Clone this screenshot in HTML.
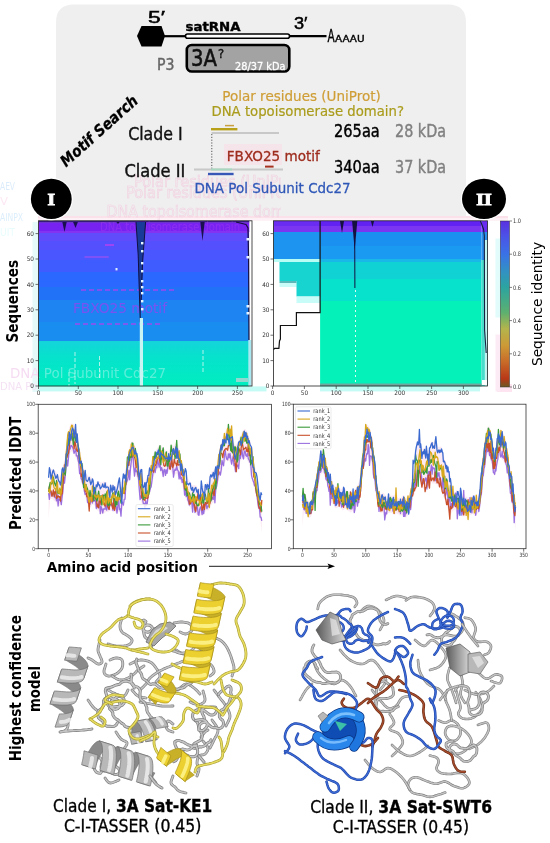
<!DOCTYPE html>
<html><head><meta charset="utf-8"><title>3A protein figure</title>
<style>
html,body{margin:0;padding:0;background:#fff;}
body{width:550px;height:843px;overflow:hidden;}
svg{display:block;font-family:'DejaVu Sans','Liberation Sans',sans-serif;}
</style></head>
<body>
<svg width="550" height="843" viewBox="0 0 550 843">
<rect width="550" height="843" fill="#fff"/>
<path d="M56,216 L56,22.5 Q56,4.5 74,4.5 L448,4.5 Q466,4.5 466,22.5 L466,216 Z" fill="#efefef"/>
<rect x="38" y="216" width="470" height="2.5" fill="#fbe2ea"/>
<rect x="38" y="218.5" width="470" height="2.3" fill="#fdf0f6"/>
<defs><clipPath id="gclip"><rect x="0" y="0" width="281" height="843"/></clipPath></defs>
<g clip-path="url(#gclip)">
<text x="134" y="187" font-size="15" fill="none" font-weight="normal" text-anchor="start" textLength="170" lengthAdjust="spacingAndGlyphs" stroke="#f2d0e0" stroke-width="0.6">Polar residues (UniProt)</text>
<text x="126" y="198" font-size="15" fill="none" font-weight="normal" text-anchor="start" textLength="170" lengthAdjust="spacingAndGlyphs" stroke="#f2d0e0" stroke-width="0.6">Polar residues (UniProt)</text>
<text x="106.5" y="216.5" font-size="15" fill="none" font-weight="normal" text-anchor="start" textLength="200" lengthAdjust="spacingAndGlyphs" stroke="#f2d2e2" stroke-width="0.6">DNA topoisomerase domain</text>
</g>
<text x="0" y="190" font-size="10" fill="#dcecfc" font-weight="normal" text-anchor="start" textLength="15" lengthAdjust="spacingAndGlyphs">AEV</text>
<text x="0" y="205" font-size="10" fill="#fde8f4" font-weight="normal" text-anchor="start" textLength="8" lengthAdjust="spacingAndGlyphs">V</text>
<text x="0" y="221" font-size="10" fill="#dceefc" font-weight="normal" text-anchor="start" textLength="23" lengthAdjust="spacingAndGlyphs">AINPX</text>
<text x="0" y="236" font-size="10" fill="#e8fcfc" font-weight="normal" text-anchor="start" textLength="15" lengthAdjust="spacingAndGlyphs">UIT</text>
<polygon points="137,36 141.5,26 161.5,26 165,36 161.5,46.5 141.5,46.5" fill="#000"/>
<line x1="164" y1="36.2" x2="186" y2="36.2" stroke="#000" stroke-width="2.2"/>
<rect x="185.5" y="34" width="104" height="4.2" rx="2" fill="#fff" stroke="#000" stroke-width="1.6"/>
<line x1="289.5" y1="36.2" x2="326.5" y2="36.2" stroke="#000" stroke-width="2.2"/>
<text x="148" y="22.5" font-size="16.5" fill="#000" font-weight="normal" text-anchor="start" textLength="17" lengthAdjust="spacingAndGlyphs" stroke="#000" stroke-width="0.5" font-family="Liberation Sans, sans-serif">5&#8242;</text>
<text x="294" y="28.7" font-size="16.5" fill="#000" font-weight="normal" text-anchor="start" textLength="13.5" lengthAdjust="spacingAndGlyphs" stroke="#000" stroke-width="0.5" font-family="Liberation Sans, sans-serif">3&#8242;</text>
<text x="185.5" y="31" font-size="13" fill="#000" font-weight="bold" text-anchor="start" textLength="55" lengthAdjust="spacingAndGlyphs" stroke="#000" stroke-width="0.4">satRNA</text>
<text x="327.6" y="41.5" font-size="17" fill="#000" font-weight="normal" text-anchor="start" textLength="7.2" lengthAdjust="spacingAndGlyphs" stroke="#000" stroke-width="0.4">A</text>
<text x="335" y="41.5" font-size="9" fill="#000" font-weight="normal" text-anchor="start" textLength="29.5" lengthAdjust="spacingAndGlyphs" stroke="#000" stroke-width="0.35">AAAU</text>
<rect x="186.8" y="45" width="102.5" height="26.5" rx="5" fill="#a3a3a3" stroke="#000" stroke-width="2.6"/>
<text x="191" y="65.6" font-size="23.5" fill="#111" font-weight="normal" text-anchor="start" textLength="26" lengthAdjust="spacingAndGlyphs" stroke="#111" stroke-width="0.6">3A</text>
<text x="218" y="57.5" font-size="11.5" fill="#111" font-weight="normal" text-anchor="start" stroke="#111" stroke-width="0.4">?</text>
<text x="235" y="69.8" font-size="11.3" fill="#fff" font-weight="normal" text-anchor="start" textLength="50.5" lengthAdjust="spacingAndGlyphs" stroke="#fff" stroke-width="0.3">28/37 kDa</text>
<text x="157" y="69.6" font-size="16.2" fill="#666" font-weight="normal" text-anchor="start" textLength="17.5" lengthAdjust="spacingAndGlyphs" stroke="#666" stroke-width="0.45">P3</text>
<text transform="translate(66,167.5) rotate(-41.8)" font-size="15.5" font-weight="bold" font-style="italic" fill="#000" stroke="#000" stroke-width="0.3" textLength="98" lengthAdjust="spacingAndGlyphs">Motif Search</text>
<text x="128.2" y="139.6" font-size="17" fill="#111" font-weight="normal" text-anchor="start" textLength="54.5" lengthAdjust="spacingAndGlyphs" stroke="#111" stroke-width="0.4">Clade I</text>
<text x="124.4" y="176.5" font-size="17" fill="#111" font-weight="normal" text-anchor="start" textLength="61" lengthAdjust="spacingAndGlyphs" stroke="#111" stroke-width="0.4">Clade II</text>
<text x="222.3" y="100.8" font-size="14.2" fill="#cf9e36" font-weight="normal" text-anchor="start" textLength="158.5" lengthAdjust="spacingAndGlyphs" stroke="#cf9e36" stroke-width="0.2">Polar residues (UniProt)</text>
<text x="211.5" y="115.9" font-size="14.2" fill="#aa9c1c" font-weight="normal" text-anchor="start" textLength="192.5" lengthAdjust="spacingAndGlyphs" stroke="#aa9c1c" stroke-width="0.2">DNA topoisomerase domain?</text>
<line x1="211.6" y1="133" x2="279" y2="133" stroke="#c8c8c8" stroke-width="2"/>
<line x1="211" y1="129.2" x2="237.4" y2="129.2" stroke="#b8a018" stroke-width="2.4"/>
<line x1="225" y1="125.6" x2="234" y2="125.6" stroke="#c8a040" stroke-width="1.5"/>
<line x1="211.8" y1="134" x2="211.8" y2="169" stroke="#555" stroke-width="1" stroke-dasharray="1.2,1.6"/>
<text x="334" y="137.2" font-size="17" fill="#000" font-weight="normal" text-anchor="start" textLength="45.8" lengthAdjust="spacingAndGlyphs" stroke="#000" stroke-width="0.4">265aa</text>
<text x="395" y="137.2" font-size="17" fill="#808080" font-weight="normal" text-anchor="start" textLength="51" lengthAdjust="spacingAndGlyphs" stroke="#808080" stroke-width="0.4">28 kDa</text>
<rect x="224" y="144" width="58" height="21" fill="#f5e4ea"/>
<text x="226.8" y="160.6" font-size="13.5" fill="#9e2c1e" font-weight="normal" text-anchor="start" textLength="93" lengthAdjust="spacingAndGlyphs" stroke="#9e2c1e" stroke-width="0.3">FBXO25 motif</text>
<line x1="194" y1="169.5" x2="283" y2="169.5" stroke="#c8c8c8" stroke-width="2"/>
<line x1="211" y1="169.5" x2="232" y2="169.5" stroke="#a8d8c0" stroke-width="2"/>
<line x1="208" y1="174" x2="233.6" y2="174" stroke="#3858b8" stroke-width="2.4"/>
<line x1="265" y1="166.6" x2="273.6" y2="166.6" stroke="#a83020" stroke-width="2"/>
<text x="334" y="173.2" font-size="17" fill="#000" font-weight="normal" text-anchor="start" textLength="45.8" lengthAdjust="spacingAndGlyphs" stroke="#000" stroke-width="0.4">340aa</text>
<text x="395" y="173.2" font-size="17" fill="#808080" font-weight="normal" text-anchor="start" textLength="51" lengthAdjust="spacingAndGlyphs" stroke="#808080" stroke-width="0.4">37 kDa</text>
<text x="194.4" y="193.4" font-size="14.5" fill="#3058b8" font-weight="normal" text-anchor="start" textLength="156.2" lengthAdjust="spacingAndGlyphs" stroke="#3058b8" stroke-width="0.3">DNA Pol Subunit Cdc27</text>
<rect x="38.5" y="386.4" width="228" height="5" fill="#c4fbf4"/>
<rect x="320" y="386.4" width="160" height="5" fill="#c4fbf4"/>
<rect x="497" y="384" width="15" height="8" fill="#fde4f0"/>
<rect x="32.5" y="222" width="5.5" height="170" fill="#e6fafa"/>
<defs><linearGradient id="cyI" x1="0" y1="0" x2="0" y2="1"><stop offset="0" stop-color="#14d4da"/><stop offset="0.35" stop-color="#06e2cc"/><stop offset="1" stop-color="#00eec0"/></linearGradient></defs>
<rect x="38.5" y="220.8" width="210.81" height="2.00" fill="#3c1a90"/>
<rect x="38.5" y="222.5" width="210.81" height="8.80" fill="#7822f2"/>
<rect x="38.5" y="231" width="210.81" height="2.30" fill="#8434f0"/>
<rect x="38.5" y="233" width="210.81" height="8.30" fill="#604cfa"/>
<rect x="38.5" y="241" width="210.81" height="9.30" fill="#5550fd"/>
<rect x="38.5" y="250" width="210.81" height="10.30" fill="#4a56ff"/>
<rect x="38.5" y="260" width="210.81" height="12.30" fill="#3e5cff"/>
<rect x="38.5" y="272" width="210.81" height="15.30" fill="#2a68ff"/>
<rect x="38.5" y="287" width="210.81" height="13.30" fill="#2272f8"/>
<rect x="38.5" y="300" width="210.81" height="22.30" fill="#1e84f2"/>
<rect x="38.5" y="322" width="210.81" height="19.30" fill="#1a8ef0"/>
<rect x="38.5" y="341" width="210.81" height="45.30" fill="url(#cyI)"/>
<text x="73" y="312.5" font-size="13.5" fill="#7a52f2" font-weight="normal" text-anchor="start" textLength="94" lengthAdjust="spacingAndGlyphs">FBXO25 motif</text>
<line x1="81" y1="290" x2="175" y2="290" stroke="#9a4af0" stroke-width="1.6" stroke-dasharray="5,3"/>
<line x1="75" y1="324" x2="160" y2="324" stroke="#9a4af0" stroke-width="1.4" stroke-dasharray="5,3"/>
<defs><clipPath id="gL"><rect x="0" y="300" width="38.5" height="100"/></clipPath><clipPath id="gR"><rect x="38.5" y="300" width="220" height="86"/></clipPath></defs>
<g clip-path="url(#gR)"><text x="10" y="377.5" font-size="14.5" fill="#b4f4ee" font-weight="normal" text-anchor="start" textLength="156" lengthAdjust="spacingAndGlyphs" opacity="0.5">DNA Pol Subunit Cdc27</text></g>
<g clip-path="url(#gL)"><text x="10" y="377.5" font-size="14.5" fill="#f6dcf2" font-weight="normal" text-anchor="start" textLength="156" lengthAdjust="spacingAndGlyphs">DNA Pol Subunit Cdc27</text><text x="0" y="390" font-size="11" fill="#f4e2f4" font-weight="normal" text-anchor="start" textLength="40" lengthAdjust="spacingAndGlyphs">DNA Pol</text></g>
<line x1="84.5" y1="257" x2="108.7" y2="257" stroke="#a050f0" stroke-width="1.2"/>
<line x1="105" y1="245" x2="114" y2="245" stroke="#c040f0" stroke-width="1.4"/>
<text x="100" y="230.5" font-size="12" fill="#b040f0" font-weight="normal" text-anchor="start" textLength="140" lengthAdjust="spacingAndGlyphs" opacity="0.35">DNA topoisomerase domain</text>
<rect x="249.31" y="232" width="2.69" height="154.0" fill="#fff"/>
<rect x="248.31" y="340" width="3" height="46" fill="#a8e8f0"/>
<line x1="75" y1="352" x2="75" y2="384" stroke="#c4f6ee" stroke-width="0.9" stroke-dasharray="4,2"/>
<line x1="99.5" y1="356" x2="99.5" y2="380" stroke="#c4f6ee" stroke-width="0.9" stroke-dasharray="4,2"/>
<line x1="203" y1="350" x2="203" y2="372" stroke="#c4f6ee" stroke-width="0.9" stroke-dasharray="4,2"/>
<line x1="69" y1="372" x2="69" y2="386" stroke="#c4f6ee" stroke-width="0.9" stroke-dasharray="4,2"/>
<rect x="236" y="378" width="12" height="4" fill="#90d8d0"/>
<rect x="115.5" y="268" width="2" height="2.4" fill="#e0f0ff"/>
<path d="M136,222 L138.2,255 L139.6,300 L140.3,322 L141.2,300 L142.6,262 L145.6,222 Z" fill="#1a3a9a"/>
<path d="M136,222 L138.2,255 L139.6,300 L140.3,322 M141.2,300 L142.6,262 L145.6,222" fill="none" stroke="#101040" stroke-width="1"/>
<rect x="139.8" y="318" width="3.2" height="68" fill="#c8f4f4"/>
<rect x="141" y="242" width="2.4" height="2.4" fill="#e8f8ff"/>
<rect x="141" y="250" width="2.4" height="2.4" fill="#e8f8ff"/>
<rect x="141" y="262" width="2.4" height="2.4" fill="#e8f8ff"/>
<rect x="141" y="270" width="2.4" height="2.4" fill="#e8f8ff"/>
<rect x="141" y="280" width="2.4" height="2.4" fill="#e8f8ff"/>
<rect x="141" y="286" width="2.4" height="2.4" fill="#e8f8ff"/>
<rect x="141" y="292" width="2.4" height="2.4" fill="#e8f8ff"/>
<rect x="141" y="300" width="2.4" height="2.4" fill="#e8f8ff"/>
<rect x="141" y="308" width="2.4" height="2.4" fill="#e8f8ff"/>
<path d="M62.3,222 L64.5,232 L66.7,222 Z" fill="#1a1050"/>
<path d="M73.1,222 L75.5,228 L77.9,222 Z" fill="#1a1050"/>
<path d="M200.3,222 L202.5,241 L204.7,222 Z" fill="#1a1050"/>
<path d="M116.4,222 L118,224 L119.6,222 Z" fill="#1a1050"/>
<path d="M236,222 L246,224.5 L248,228 L248.6,260 L249,340" fill="none" stroke="#181040" stroke-width="1.2"/>
<rect x="246.5" y="238" width="3" height="2.5" fill="#e8f4ff"/>
<rect x="246.5" y="256" width="3" height="2.5" fill="#e8f4ff"/>
<rect x="246.5" y="305" width="3" height="2.5" fill="#e8f4ff"/>
<rect x="246.5" y="312" width="3" height="2.5" fill="#e8f4ff"/>
<rect x="38.5" y="220.8" width="213.5" height="165.2" fill="none" stroke="#222" stroke-width="0.8"/>
<line x1="35.5" y1="386.0" x2="38.5" y2="386.0" stroke="#333" stroke-width="0.7"/>
<text x="34" y="388.2" font-size="6.2" fill="#333" font-weight="normal" text-anchor="end" textLength="3.65" lengthAdjust="spacingAndGlyphs">0</text>
<line x1="35.5" y1="360.6" x2="38.5" y2="360.6" stroke="#333" stroke-width="0.7"/>
<text x="34" y="362.8" font-size="6.2" fill="#333" font-weight="normal" text-anchor="end" textLength="7.3" lengthAdjust="spacingAndGlyphs">10</text>
<line x1="35.5" y1="335.2" x2="38.5" y2="335.2" stroke="#333" stroke-width="0.7"/>
<text x="34" y="337.4" font-size="6.2" fill="#333" font-weight="normal" text-anchor="end" textLength="7.3" lengthAdjust="spacingAndGlyphs">20</text>
<line x1="35.5" y1="309.8" x2="38.5" y2="309.8" stroke="#333" stroke-width="0.7"/>
<text x="34" y="312.0" font-size="6.2" fill="#333" font-weight="normal" text-anchor="end" textLength="7.3" lengthAdjust="spacingAndGlyphs">30</text>
<line x1="35.5" y1="284.4" x2="38.5" y2="284.4" stroke="#333" stroke-width="0.7"/>
<text x="34" y="286.6" font-size="6.2" fill="#333" font-weight="normal" text-anchor="end" textLength="7.3" lengthAdjust="spacingAndGlyphs">40</text>
<line x1="35.5" y1="259.0" x2="38.5" y2="259.0" stroke="#333" stroke-width="0.7"/>
<text x="34" y="261.2" font-size="6.2" fill="#333" font-weight="normal" text-anchor="end" textLength="7.3" lengthAdjust="spacingAndGlyphs">50</text>
<line x1="35.5" y1="233.6" x2="38.5" y2="233.6" stroke="#333" stroke-width="0.7"/>
<text x="34" y="235.8" font-size="6.2" fill="#333" font-weight="normal" text-anchor="end" textLength="7.3" lengthAdjust="spacingAndGlyphs">60</text>
<line x1="38.5" y1="386.0" x2="38.5" y2="389.0" stroke="#333" stroke-width="0.7"/>
<text x="38.5" y="395.0" font-size="6.2" fill="#333" font-weight="normal" text-anchor="middle" textLength="3.65" lengthAdjust="spacingAndGlyphs">0</text>
<line x1="78.3" y1="386.0" x2="78.3" y2="389.0" stroke="#333" stroke-width="0.7"/>
<text x="78.3" y="395.0" font-size="6.2" fill="#333" font-weight="normal" text-anchor="middle" textLength="7.3" lengthAdjust="spacingAndGlyphs">50</text>
<line x1="118.0" y1="386.0" x2="118.0" y2="389.0" stroke="#333" stroke-width="0.7"/>
<text x="118.0" y="395.0" font-size="6.2" fill="#333" font-weight="normal" text-anchor="middle" textLength="10.95" lengthAdjust="spacingAndGlyphs">100</text>
<line x1="157.8" y1="386.0" x2="157.8" y2="389.0" stroke="#333" stroke-width="0.7"/>
<text x="157.8" y="395.0" font-size="6.2" fill="#333" font-weight="normal" text-anchor="middle" textLength="10.95" lengthAdjust="spacingAndGlyphs">150</text>
<line x1="197.6" y1="386.0" x2="197.6" y2="389.0" stroke="#333" stroke-width="0.7"/>
<text x="197.6" y="395.0" font-size="6.2" fill="#333" font-weight="normal" text-anchor="middle" textLength="10.95" lengthAdjust="spacingAndGlyphs">200</text>
<line x1="237.4" y1="386.0" x2="237.4" y2="389.0" stroke="#333" stroke-width="0.7"/>
<text x="237.4" y="395.0" font-size="6.2" fill="#333" font-weight="normal" text-anchor="middle" textLength="10.95" lengthAdjust="spacingAndGlyphs">250</text>
<text transform="translate(17.6,342.5) rotate(-90)" font-size="15.6" font-weight="bold" fill="#000" textLength="82.5" lengthAdjust="spacingAndGlyphs">Sequences</text>
<rect x="320.1" y="220.8" width="161.39999999999998" height="5.50" fill="#6222f2"/>
<rect x="320.1" y="226" width="161.39999999999998" height="6.30" fill="#7a36f0"/>
<rect x="320.1" y="232" width="161.39999999999998" height="14.30" fill="#1a90f0"/>
<rect x="320.1" y="246" width="161.39999999999998" height="13.30" fill="#1a9af0"/>
<rect x="320.1" y="259" width="161.39999999999998" height="3.30" fill="#18b8e8"/>
<rect x="320.1" y="262" width="161.39999999999998" height="17.30" fill="#10d2d4"/>
<rect x="320.1" y="279" width="161.39999999999998" height="22.30" fill="#06e2cc"/>
<rect x="320.1" y="301" width="161.39999999999998" height="85.30" fill="#04f2ba"/>
<rect x="481.5" y="220.8" width="6" height="11.5" fill="#6a2cf0"/>
<rect x="481.5" y="232" width="6" height="28" fill="#2a90f0"/>
<rect x="481.5" y="260" width="6" height="126" fill="#48dccc"/>
<rect x="484.8" y="240" width="2.7" height="146" fill="#bff4f0"/>
<rect x="482" y="380" width="5" height="5" fill="#fff"/>
<rect x="273.5" y="220.8" width="46.6" height="11.5" fill="#6a2cf0"/>
<rect x="273.5" y="226" width="46.6" height="6" fill="#7a36f0"/>
<rect x="273.5" y="232" width="46.6" height="27" fill="#1c94f0"/>
<rect x="273.5" y="259" width="46.6" height="3" fill="#b8fcf6"/>
<rect x="279.5" y="262" width="40.6" height="19" fill="#18d4d0"/>
<rect x="279.5" y="281" width="17" height="2" fill="#5cb8b8"/>
<rect x="279.5" y="283" width="17" height="4" fill="#c8fcf8"/>
<rect x="296.5" y="281" width="23.6" height="15.5" fill="#18d4d0"/>
<rect x="296.5" y="296.5" width="23.6" height="6.5" fill="#c8fcf8"/>
<rect x="320.1" y="383.5" width="161.4" height="2.5" fill="#70a8a0"/>
<polyline points="273.5,349.6 274.6,348.3 278.9,348.3 279.5,341 280.4,339 280.4,325.5 296.4,325.5 296.4,312.6 320.1,312.6 320.1,221" fill="none" stroke="#111" stroke-width="1.2"/>
<path d="M340.0,221 L342,233 L344.0,221 Z" fill="#141040"/>
<path d="M352.09999999999997,221 L354.7,250 L357.3,221 Z" fill="#141040"/>
<path d="M370.9,221 L372.5,227 L374.1,221 Z" fill="#141040"/>
<line x1="354.7" y1="240" x2="354.9" y2="288" stroke="#141040" stroke-width="1"/>
<line x1="355.5" y1="290" x2="355.5" y2="384" stroke="#d8fff4" stroke-width="1" stroke-dasharray="2,3"/>
<path d="M480.5,221 L483.5,229 L484.3,236 L484.6,330 L486.2,353" fill="none" stroke="#142040" stroke-width="1.1"/>
<rect x="495.5" y="238.5" width="4.5" height="79" fill="#e2fbfb"/>
<rect x="495.5" y="334.5" width="4.5" height="57" fill="#fcebf5"/>
<rect x="273.5" y="220.8" width="214.0" height="165.2" fill="none" stroke="#222" stroke-width="0.8"/>
<line x1="270.5" y1="386.0" x2="273.5" y2="386.0" stroke="#333" stroke-width="0.7"/>
<text x="269.5" y="388.2" font-size="6.2" fill="#333" font-weight="normal" text-anchor="end" textLength="3.65" lengthAdjust="spacingAndGlyphs">0</text>
<line x1="270.5" y1="360.6" x2="273.5" y2="360.6" stroke="#333" stroke-width="0.7"/>
<text x="269.5" y="362.8" font-size="6.2" fill="#333" font-weight="normal" text-anchor="end" textLength="7.3" lengthAdjust="spacingAndGlyphs">10</text>
<line x1="270.5" y1="335.2" x2="273.5" y2="335.2" stroke="#333" stroke-width="0.7"/>
<text x="269.5" y="337.4" font-size="6.2" fill="#333" font-weight="normal" text-anchor="end" textLength="7.3" lengthAdjust="spacingAndGlyphs">20</text>
<line x1="270.5" y1="309.8" x2="273.5" y2="309.8" stroke="#333" stroke-width="0.7"/>
<text x="269.5" y="312.0" font-size="6.2" fill="#333" font-weight="normal" text-anchor="end" textLength="7.3" lengthAdjust="spacingAndGlyphs">30</text>
<line x1="270.5" y1="284.4" x2="273.5" y2="284.4" stroke="#333" stroke-width="0.7"/>
<text x="269.5" y="286.6" font-size="6.2" fill="#333" font-weight="normal" text-anchor="end" textLength="7.3" lengthAdjust="spacingAndGlyphs">40</text>
<line x1="270.5" y1="259.0" x2="273.5" y2="259.0" stroke="#333" stroke-width="0.7"/>
<text x="269.5" y="261.2" font-size="6.2" fill="#333" font-weight="normal" text-anchor="end" textLength="7.3" lengthAdjust="spacingAndGlyphs">50</text>
<line x1="270.5" y1="233.6" x2="273.5" y2="233.6" stroke="#333" stroke-width="0.7"/>
<text x="269.5" y="235.8" font-size="6.2" fill="#333" font-weight="normal" text-anchor="end" textLength="7.3" lengthAdjust="spacingAndGlyphs">60</text>
<line x1="272.6" y1="386.0" x2="272.6" y2="389.0" stroke="#333" stroke-width="0.7"/>
<text x="272.6" y="395.0" font-size="6.2" fill="#333" font-weight="normal" text-anchor="middle" textLength="3.65" lengthAdjust="spacingAndGlyphs">0</text>
<line x1="304.4" y1="386.0" x2="304.4" y2="389.0" stroke="#333" stroke-width="0.7"/>
<text x="304.4" y="395.0" font-size="6.2" fill="#333" font-weight="normal" text-anchor="middle" textLength="7.3" lengthAdjust="spacingAndGlyphs">50</text>
<line x1="336.2" y1="386.0" x2="336.2" y2="389.0" stroke="#333" stroke-width="0.7"/>
<text x="336.2" y="395.0" font-size="6.2" fill="#333" font-weight="normal" text-anchor="middle" textLength="10.95" lengthAdjust="spacingAndGlyphs">100</text>
<line x1="368.0" y1="386.0" x2="368.0" y2="389.0" stroke="#333" stroke-width="0.7"/>
<text x="368.0" y="395.0" font-size="6.2" fill="#333" font-weight="normal" text-anchor="middle" textLength="10.95" lengthAdjust="spacingAndGlyphs">150</text>
<line x1="399.8" y1="386.0" x2="399.8" y2="389.0" stroke="#333" stroke-width="0.7"/>
<text x="399.8" y="395.0" font-size="6.2" fill="#333" font-weight="normal" text-anchor="middle" textLength="10.95" lengthAdjust="spacingAndGlyphs">200</text>
<line x1="431.6" y1="386.0" x2="431.6" y2="389.0" stroke="#333" stroke-width="0.7"/>
<text x="431.6" y="395.0" font-size="6.2" fill="#333" font-weight="normal" text-anchor="middle" textLength="10.95" lengthAdjust="spacingAndGlyphs">250</text>
<line x1="463.4" y1="386.0" x2="463.4" y2="389.0" stroke="#333" stroke-width="0.7"/>
<text x="463.4" y="395.0" font-size="6.2" fill="#333" font-weight="normal" text-anchor="middle" textLength="10.95" lengthAdjust="spacingAndGlyphs">300</text>
<defs><linearGradient id="cb" x1="0" y1="0" x2="0" y2="1"><stop offset="0" stop-color="#5a30e0"/><stop offset="0.1" stop-color="#4a56e8"/><stop offset="0.2" stop-color="#3a72e6"/><stop offset="0.3" stop-color="#3290c4"/><stop offset="0.4" stop-color="#2ca4a0"/><stop offset="0.55" stop-color="#5cb070"/><stop offset="0.65" stop-color="#b4b44c"/><stop offset="0.75" stop-color="#cc9a36"/><stop offset="0.85" stop-color="#c86a28"/><stop offset="0.95" stop-color="#b83818"/><stop offset="1" stop-color="#6a5a24"/></linearGradient></defs>
<rect x="500.3" y="221" width="9.2" height="166" fill="url(#cb)" stroke="#333" stroke-width="0.5"/>
<line x1="509.5" y1="221.0" x2="512" y2="221.0" stroke="#333" stroke-width="0.6"/>
<text x="513" y="223.2" font-size="6.2" fill="#333" font-weight="normal" text-anchor="start" textLength="7.9" lengthAdjust="spacingAndGlyphs">1.0</text>
<line x1="509.5" y1="254.2" x2="512" y2="254.2" stroke="#333" stroke-width="0.6"/>
<text x="513" y="256.4" font-size="6.2" fill="#333" font-weight="normal" text-anchor="start" textLength="7.9" lengthAdjust="spacingAndGlyphs">0.8</text>
<line x1="509.5" y1="287.4" x2="512" y2="287.4" stroke="#333" stroke-width="0.6"/>
<text x="513" y="289.6" font-size="6.2" fill="#333" font-weight="normal" text-anchor="start" textLength="7.9" lengthAdjust="spacingAndGlyphs">0.6</text>
<line x1="509.5" y1="320.6" x2="512" y2="320.6" stroke="#333" stroke-width="0.6"/>
<text x="513" y="322.8" font-size="6.2" fill="#333" font-weight="normal" text-anchor="start" textLength="7.9" lengthAdjust="spacingAndGlyphs">0.4</text>
<line x1="509.5" y1="353.8" x2="512" y2="353.8" stroke="#333" stroke-width="0.6"/>
<text x="513" y="356.0" font-size="6.2" fill="#333" font-weight="normal" text-anchor="start" textLength="7.9" lengthAdjust="spacingAndGlyphs">0.2</text>
<line x1="509.5" y1="387.0" x2="512" y2="387.0" stroke="#333" stroke-width="0.6"/>
<text x="513" y="389.2" font-size="6.2" fill="#333" font-weight="normal" text-anchor="start" textLength="7.9" lengthAdjust="spacingAndGlyphs">0.0</text>
<text transform="translate(541.5,366) rotate(-90)" font-size="14.5" fill="#000" textLength="124" lengthAdjust="spacingAndGlyphs">Sequence identity</text>
<ellipse cx="51.3" cy="198.9" rx="21.6" ry="21.4" fill="#fff"/>
<ellipse cx="51.3" cy="198.9" rx="20.4" ry="20.2" fill="#000"/>
<text x="51.3" y="205.4" font-family="'Liberation Serif', serif" font-size="17.5" font-weight="bold" fill="#fff" stroke="#fff" stroke-width="0.9" text-anchor="middle" textLength="7.6" lengthAdjust="spacingAndGlyphs">I</text>
<ellipse cx="484" cy="198.9" rx="23.2" ry="21.4" fill="#fff"/>
<ellipse cx="484" cy="198.9" rx="22" ry="20.2" fill="#000"/>
<text x="484" y="205.4" font-family="'Liberation Serif', serif" font-size="17.5" font-weight="bold" fill="#fff" stroke="#fff" stroke-width="0.9" text-anchor="middle" textLength="15.5" lengthAdjust="spacingAndGlyphs">II</text>
<rect x="38.2" y="404.3" width="233.2" height="144.40000000000003" fill="#fff" stroke="#333" stroke-width="0.8"/>
<line x1="35.2" y1="548.7" x2="38.2" y2="548.7" stroke="#333" stroke-width="0.7"/>
<text x="35" y="550.8" font-size="5.8" fill="#333" font-weight="normal" text-anchor="end" textLength="2.85" lengthAdjust="spacingAndGlyphs">0</text>
<line x1="35.2" y1="519.8" x2="38.2" y2="519.8" stroke="#333" stroke-width="0.7"/>
<text x="35" y="521.9" font-size="5.8" fill="#333" font-weight="normal" text-anchor="end" textLength="5.7" lengthAdjust="spacingAndGlyphs">20</text>
<line x1="35.2" y1="490.9" x2="38.2" y2="490.9" stroke="#333" stroke-width="0.7"/>
<text x="35" y="493.0" font-size="5.8" fill="#333" font-weight="normal" text-anchor="end" textLength="5.7" lengthAdjust="spacingAndGlyphs">40</text>
<line x1="35.2" y1="462.1" x2="38.2" y2="462.1" stroke="#333" stroke-width="0.7"/>
<text x="35" y="464.2" font-size="5.8" fill="#333" font-weight="normal" text-anchor="end" textLength="5.7" lengthAdjust="spacingAndGlyphs">60</text>
<line x1="35.2" y1="433.2" x2="38.2" y2="433.2" stroke="#333" stroke-width="0.7"/>
<text x="35" y="435.3" font-size="5.8" fill="#333" font-weight="normal" text-anchor="end" textLength="5.7" lengthAdjust="spacingAndGlyphs">80</text>
<line x1="35.2" y1="404.3" x2="38.2" y2="404.3" stroke="#333" stroke-width="0.7"/>
<text x="35" y="406.4" font-size="5.8" fill="#333" font-weight="normal" text-anchor="end" textLength="8.55" lengthAdjust="spacingAndGlyphs">100</text>
<line x1="48.6" y1="548.7" x2="48.6" y2="551.7" stroke="#333" stroke-width="0.7"/>
<text x="48.6" y="556.5" font-size="5.8" fill="#333" font-weight="normal" text-anchor="middle" textLength="2.85" lengthAdjust="spacingAndGlyphs">0</text>
<line x1="88.4" y1="548.7" x2="88.4" y2="551.7" stroke="#333" stroke-width="0.7"/>
<text x="88.4" y="556.5" font-size="5.8" fill="#333" font-weight="normal" text-anchor="middle" textLength="5.7" lengthAdjust="spacingAndGlyphs">50</text>
<line x1="128.2" y1="548.7" x2="128.2" y2="551.7" stroke="#333" stroke-width="0.7"/>
<text x="128.2" y="556.5" font-size="5.8" fill="#333" font-weight="normal" text-anchor="middle" textLength="8.55" lengthAdjust="spacingAndGlyphs">100</text>
<line x1="167.9" y1="548.7" x2="167.9" y2="551.7" stroke="#333" stroke-width="0.7"/>
<text x="167.9" y="556.5" font-size="5.8" fill="#333" font-weight="normal" text-anchor="middle" textLength="8.55" lengthAdjust="spacingAndGlyphs">150</text>
<line x1="207.7" y1="548.7" x2="207.7" y2="551.7" stroke="#333" stroke-width="0.7"/>
<text x="207.7" y="556.5" font-size="5.8" fill="#333" font-weight="normal" text-anchor="middle" textLength="8.55" lengthAdjust="spacingAndGlyphs">200</text>
<line x1="247.5" y1="548.7" x2="247.5" y2="551.7" stroke="#333" stroke-width="0.7"/>
<text x="247.5" y="556.5" font-size="5.8" fill="#333" font-weight="normal" text-anchor="middle" textLength="8.55" lengthAdjust="spacingAndGlyphs">250</text>
<polygon points="48.6,500.2 49.4,485.4 50.2,469.9 51.0,468.8 51.8,469.2 52.6,469.6 53.4,468.9 54.2,469.4 55.0,470.4 55.8,471.3 56.6,472.6 57.4,473.8 58.1,474.5 58.9,476.1 59.7,477.1 60.5,475.1 61.3,472.4 62.1,470.0 62.9,466.0 63.7,463.0 64.5,459.8 65.3,455.6 66.1,448.5 66.9,441.9 67.7,435.5 68.5,430.9 69.3,427.2 70.1,425.2 70.9,424.1 71.7,423.6 72.5,423.5 73.3,424.2 74.1,424.1 74.9,426.1 75.6,426.9 76.4,429.9 77.2,433.3 78.0,439.0 78.8,443.4 79.6,448.8 80.4,452.5 81.2,456.8 82.0,460.6 82.8,464.1 83.6,466.0 84.4,469.2 85.2,471.4 86.0,473.4 86.8,474.1 87.6,475.5 88.4,475.7 89.2,476.4 90.0,476.6 90.8,476.5 91.6,477.2 92.4,479.3 93.1,479.9 93.9,481.5 94.7,482.8 95.5,483.9 96.3,482.0 97.1,481.5 97.9,480.4 98.7,481.2 99.5,481.4 100.3,482.3 101.1,482.1 101.9,482.4 102.7,482.1 103.5,481.2 104.3,481.4 105.1,482.1 105.9,482.1 106.7,482.1 107.5,484.2 108.3,486.1 109.1,485.6 109.9,486.0 110.6,487.0 111.4,485.5 112.2,484.0 113.0,484.3 113.8,485.5 114.6,485.5 115.4,486.4 116.2,485.7 117.0,484.6 117.8,481.2 118.6,480.0 119.4,480.9 120.2,482.2 121.0,482.1 121.8,481.3 122.6,479.6 123.4,475.8 124.2,473.0 125.0,470.9 125.8,467.5 126.6,463.4 127.4,458.8 128.2,452.9 128.9,449.0 129.7,446.4 130.5,443.5 131.3,441.8 132.1,441.0 132.9,441.8 133.7,442.6 134.5,444.8 135.3,446.8 136.1,449.4 136.9,452.5 137.7,457.7 138.5,461.6 139.3,464.9 140.1,467.0 140.9,470.1 141.7,472.8 142.5,475.4 143.3,477.9 144.1,481.7 144.9,481.2 145.7,480.1 146.4,477.9 147.2,476.5 148.0,472.4 148.8,469.9 149.6,466.5 150.4,464.9 151.2,461.2 152.0,458.9 152.8,456.6 153.6,453.9 154.4,451.8 155.2,451.0 156.0,450.3 156.8,448.5 157.6,447.9 158.4,445.6 159.2,445.6 160.0,445.3 160.8,445.6 161.6,445.4 162.4,447.6 163.2,448.5 163.9,449.0 164.7,449.0 165.5,451.0 166.3,451.0 167.1,450.4 167.9,451.1 168.7,451.9 169.5,449.4 170.3,448.3 171.1,447.6 171.9,445.8 172.7,444.9 173.5,446.3 174.3,445.4 175.1,443.5 175.9,443.6 176.7,443.7 177.5,443.4 178.3,444.8 179.1,449.5 179.9,451.8 180.7,455.2 181.4,459.0 182.2,463.4 183.0,465.0 183.8,466.6 184.6,467.2 185.4,470.1 186.2,471.7 187.0,474.2 187.8,477.1 188.6,479.4 189.4,480.4 190.2,481.6 191.0,482.1 191.8,484.0 192.6,485.4 193.4,485.3 194.2,484.8 195.0,485.5 195.8,485.6 196.6,485.5 197.4,487.7 198.2,489.2 198.9,490.2 199.7,487.9 200.5,487.6 201.3,486.1 202.1,485.6 202.9,485.4 203.7,486.1 204.5,485.5 205.3,485.0 206.1,483.5 206.9,481.6 207.7,482.4 208.5,480.8 209.3,477.8 210.1,476.3 210.9,474.2 211.7,470.9 212.5,471.3 213.3,470.8 214.1,468.8 214.9,469.4 215.7,468.1 216.5,465.2 217.2,461.6 218.0,459.0 218.8,453.1 219.6,448.8 220.4,444.9 221.2,441.9 222.0,439.4 222.8,436.3 223.6,435.1 224.4,433.7 225.2,432.6 226.0,430.0 226.8,428.2 227.6,427.2 228.4,425.6 229.2,426.4 230.0,425.9 230.8,428.3 231.6,430.9 232.4,434.4 233.2,437.5 234.0,441.7 234.7,444.5 235.5,444.8 236.3,444.8 237.1,442.5 237.9,441.4 238.7,439.4 239.5,437.3 240.3,435.8 241.1,434.3 241.9,432.4 242.7,430.5 243.5,430.3 244.3,429.0 245.1,428.8 245.9,429.6 246.7,431.1 247.5,431.9 248.3,434.3 249.1,436.7 249.9,439.0 250.7,442.5 251.5,445.7 252.2,450.5 253.0,455.7 253.8,460.8 254.6,464.1 255.4,468.2 256.2,471.3 257.0,475.4 257.8,480.3 258.6,485.7 259.4,488.9 260.2,491.1 261.0,503.3 261.8,514.5 261.8,533.1 261.0,526.0 260.2,518.7 259.4,515.0 258.6,510.8 257.8,505.7 257.0,501.0 256.2,496.5 255.4,492.6 254.6,489.5 253.8,486.8 253.0,484.8 252.2,480.6 251.5,476.6 250.7,472.4 249.9,468.5 249.1,464.1 248.3,462.5 247.5,461.1 246.7,459.3 245.9,457.8 245.1,458.9 244.3,459.0 243.5,457.8 242.7,458.4 241.9,459.9 241.1,459.2 240.3,461.6 239.5,464.7 238.7,467.1 237.9,469.7 237.1,473.0 236.3,472.0 235.5,472.1 234.7,470.1 234.0,467.8 233.2,466.2 232.4,465.3 231.6,462.8 230.8,463.2 230.0,461.9 229.2,461.0 228.4,461.1 227.6,461.8 226.8,460.3 226.0,460.7 225.2,461.9 224.4,462.8 223.6,463.6 222.8,467.4 222.0,471.4 221.2,472.6 220.4,474.6 219.6,477.8 218.8,480.5 218.0,482.8 217.2,486.2 216.5,492.0 215.7,495.8 214.9,499.1 214.1,501.2 213.3,503.3 212.5,503.0 211.7,504.5 210.9,506.1 210.1,507.9 209.3,509.1 208.5,510.6 207.7,510.7 206.9,509.8 206.1,510.4 205.3,511.9 204.5,512.0 203.7,514.3 202.9,515.6 202.1,515.1 201.3,514.2 200.5,515.4 199.7,515.4 198.9,514.9 198.2,515.0 197.4,515.5 196.6,514.9 195.8,512.8 195.0,512.0 194.2,512.9 193.4,510.8 192.6,509.0 191.8,508.9 191.0,509.4 190.2,507.3 189.4,507.1 188.6,505.6 187.8,504.1 187.0,501.2 186.2,499.9 185.4,496.7 184.6,493.4 183.8,490.6 183.0,488.0 182.2,484.8 181.4,482.4 180.7,482.3 179.9,480.0 179.1,478.5 178.3,476.0 177.5,475.7 176.7,473.7 175.9,473.7 175.1,475.2 174.3,475.4 173.5,474.1 172.7,473.7 171.9,473.2 171.1,471.5 170.3,470.0 169.5,470.5 168.7,471.8 167.9,471.9 167.1,473.3 166.3,475.2 165.5,475.9 164.7,476.6 163.9,476.7 163.2,475.2 162.4,475.4 161.6,474.0 160.8,472.1 160.0,470.7 159.2,468.9 158.4,468.3 157.6,468.9 156.8,470.0 156.0,471.1 155.2,473.8 154.4,475.1 153.6,478.0 152.8,480.8 152.0,484.6 151.2,488.5 150.4,492.6 149.6,496.1 148.8,499.6 148.0,503.0 147.2,504.8 146.4,507.6 145.7,508.7 144.9,508.5 144.1,507.1 143.3,506.6 142.5,504.2 141.7,503.4 140.9,500.7 140.1,496.7 139.3,492.1 138.5,487.0 137.7,481.4 136.9,477.1 136.1,476.7 135.3,475.0 134.5,472.0 133.7,469.0 132.9,467.7 132.1,466.1 131.3,468.7 130.5,471.7 129.7,475.7 128.9,479.5 128.2,482.2 127.4,483.3 126.6,489.1 125.8,493.5 125.0,498.5 124.2,502.7 123.4,506.3 122.6,509.7 121.8,511.6 121.0,512.5 120.2,511.7 119.4,512.3 118.6,511.8 117.8,511.3 117.0,510.7 116.2,512.9 115.4,512.5 114.6,512.0 113.8,512.0 113.0,511.8 112.2,510.6 111.4,510.7 110.6,510.5 109.9,510.7 109.1,510.9 108.3,512.2 107.5,512.0 106.7,511.9 105.9,512.1 105.1,512.6 104.3,513.2 103.5,514.1 102.7,513.5 101.9,514.5 101.1,512.7 100.3,511.7 99.5,511.5 98.7,511.6 97.9,510.6 97.1,510.6 96.3,509.1 95.5,507.8 94.7,505.7 93.9,504.6 93.1,504.9 92.4,504.5 91.6,505.1 90.8,508.0 90.0,507.5 89.2,507.7 88.4,507.3 87.6,505.2 86.8,501.9 86.0,500.1 85.2,497.1 84.4,494.5 83.6,491.8 82.8,488.6 82.0,485.0 81.2,482.2 80.4,478.0 79.6,474.0 78.8,469.3 78.0,465.9 77.2,461.0 76.4,458.6 75.6,457.3 74.9,456.0 74.1,454.3 73.3,453.6 72.5,452.5 71.7,451.7 70.9,451.2 70.1,453.3 69.3,457.3 68.5,460.2 67.7,463.7 66.9,469.3 66.1,474.5 65.3,476.9 64.5,483.2 63.7,489.3 62.9,495.2 62.1,498.7 61.3,503.1 60.5,504.7 59.7,506.5 58.9,504.9 58.1,504.9 57.4,504.4 56.6,504.1 55.8,502.3 55.0,501.6 54.2,500.7 53.4,500.4 52.6,499.2 51.8,498.3 51.0,499.4 50.2,498.8 49.4,508.5 48.6,519.0" fill="#fbeaf3"/>
<polyline points="48.6,493.2 49.4,499.3 50.2,492.2 51.0,491.6 51.8,493.6 52.6,496.1 53.4,493.6 54.2,491.7 55.0,497.6 55.8,497.5 56.6,500.9 57.4,494.7 58.1,506.0 58.9,499.0 59.7,500.0 60.5,500.1 61.3,504.7 62.1,497.1 62.9,491.3 63.7,476.8 64.5,483.2 65.3,475.5 66.1,466.3 66.9,459.9 67.7,466.0 68.5,457.5 69.3,445.6 70.1,449.1 70.9,445.5 71.7,445.6 72.5,447.1 73.3,449.3 74.1,453.3 74.9,451.1 75.6,448.9 76.4,455.9 77.2,455.5 78.0,459.9 78.8,462.9 79.6,473.6 80.4,473.1 81.2,478.8 82.0,480.0 82.8,483.9 83.6,483.0 84.4,491.2 85.2,494.7 86.0,493.7 86.8,494.8 87.6,502.6 88.4,500.3 89.2,503.7 90.0,504.2 90.8,498.6 91.6,500.0 92.4,503.0 93.1,496.3 93.9,501.3 94.7,500.6 95.5,500.3 96.3,508.5 97.1,503.4 97.9,507.7 98.7,504.9 99.5,499.3 100.3,513.7 101.1,506.4 101.9,508.6 102.7,513.0 103.5,509.0 104.3,508.8 105.1,509.3 105.9,501.5 106.7,510.1 107.5,506.6 108.3,505.2 109.1,509.5 109.9,503.5 110.6,503.9 111.4,505.5 112.2,503.2 113.0,510.5 113.8,504.5 114.6,504.4 115.4,503.9 116.2,506.7 117.0,513.2 117.8,506.2 118.6,497.6 119.4,509.6 120.2,508.8 121.0,516.1 121.8,501.5 122.6,503.0 123.4,505.2 124.2,499.3 125.0,499.1 125.8,485.1 126.6,482.0 127.4,480.5 128.2,476.9 128.9,470.2 129.7,479.8 130.5,468.1 131.3,461.5 132.1,455.8 132.9,451.5 133.7,467.1 134.5,476.2 135.3,468.0 136.1,471.7 136.9,470.2 137.7,475.4 138.5,478.2 139.3,489.9 140.1,499.7 140.9,495.8 141.7,498.3 142.5,498.3 143.3,503.3 144.1,503.4 144.9,508.2 145.7,500.8 146.4,505.4 147.2,503.9 148.0,495.9 148.8,492.7 149.6,491.7 150.4,488.2 151.2,486.6 152.0,480.4 152.8,474.1 153.6,470.5 154.4,469.2 155.2,472.5 156.0,466.0 156.8,467.8 157.6,458.5 158.4,463.3 159.2,467.2 160.0,462.9 160.8,470.7 161.6,467.6 162.4,470.5 163.2,476.5 163.9,470.1 164.7,469.5 165.5,475.3 166.3,469.8 167.1,473.3 167.9,466.3 168.7,457.8 169.5,459.1 170.3,463.8 171.1,466.7 171.9,463.9 172.7,465.1 173.5,477.1 174.3,471.4 175.1,469.1 175.9,470.4 176.7,466.2 177.5,469.9 178.3,471.2 179.1,478.9 179.9,471.9 180.7,478.9 181.4,477.4 182.2,482.7 183.0,479.2 183.8,483.8 184.6,495.1 185.4,490.4 186.2,496.7 187.0,492.4 187.8,499.9 188.6,501.6 189.4,505.0 190.2,498.5 191.0,503.5 191.8,500.9 192.6,512.1 193.4,501.7 194.2,503.8 195.0,512.5 195.8,509.7 196.6,507.3 197.4,506.8 198.2,514.7 198.9,515.3 199.7,509.1 200.5,506.8 201.3,509.6 202.1,514.6 202.9,509.1 203.7,513.7 204.5,506.9 205.3,503.0 206.1,503.2 206.9,508.7 207.7,505.9 208.5,506.5 209.3,503.2 210.1,502.9 210.9,499.1 211.7,499.9 212.5,497.3 213.3,499.4 214.1,491.0 214.9,502.8 215.7,489.2 216.5,486.8 217.2,483.2 218.0,476.4 218.8,473.9 219.6,472.0 220.4,475.2 221.2,469.9 222.0,460.5 222.8,463.8 223.6,465.8 224.4,455.5 225.2,450.7 226.0,456.5 226.8,459.3 227.6,459.8 228.4,453.8 229.2,457.8 230.0,453.4 230.8,458.7 231.6,464.1 232.4,460.2 233.2,455.9 234.0,465.7 234.7,463.6 235.5,471.7 236.3,467.2 237.1,466.3 237.9,465.0 238.7,468.7 239.5,455.2 240.3,458.7 241.1,454.1 241.9,449.7 242.7,456.4 243.5,459.0 244.3,451.3 245.1,450.9 245.9,455.6 246.7,456.3 247.5,453.5 248.3,458.6 249.1,459.9 249.9,462.3 250.7,462.2 251.5,475.3 252.2,478.3 253.0,480.5 253.8,482.5 254.6,485.8 255.4,484.6 256.2,491.6 257.0,496.1 257.8,502.2 258.6,508.0 259.4,506.7 260.2,517.2 261.0,517.2 261.8,520.8" fill="none" stroke="#9a70e0" stroke-width="1.3" stroke-linejoin="round"/>
<polyline points="48.6,491.6 49.4,486.5 50.2,490.8 51.0,490.9 51.8,496.2 52.6,493.9 53.4,489.8 54.2,496.8 55.0,492.2 55.8,490.8 56.6,498.5 57.4,496.9 58.1,495.8 58.9,497.2 59.7,496.6 60.5,501.0 61.3,493.0 62.1,493.9 62.9,484.5 63.7,478.0 64.5,464.8 65.3,466.5 66.1,458.6 66.9,457.8 67.7,454.1 68.5,453.4 69.3,447.0 70.1,437.1 70.9,438.2 71.7,436.2 72.5,439.9 73.3,440.8 74.1,448.9 74.9,441.2 75.6,444.3 76.4,449.7 77.2,451.3 78.0,448.9 78.8,455.1 79.6,463.1 80.4,458.2 81.2,476.5 82.0,474.2 82.8,482.2 83.6,478.9 84.4,483.6 85.2,491.2 86.0,491.3 86.8,496.6 87.6,496.4 88.4,498.9 89.2,511.0 90.0,495.1 90.8,493.5 91.6,500.4 92.4,501.0 93.1,495.2 93.9,491.7 94.7,496.0 95.5,499.2 96.3,495.3 97.1,506.8 97.9,504.8 98.7,507.9 99.5,497.2 100.3,501.2 101.1,504.7 101.9,500.0 102.7,495.0 103.5,502.1 104.3,504.2 105.1,506.2 105.9,496.8 106.7,501.0 107.5,506.3 108.3,507.8 109.1,509.4 109.9,503.9 110.6,499.3 111.4,502.4 112.2,506.7 113.0,509.1 113.8,498.2 114.6,510.3 115.4,506.1 116.2,497.6 117.0,499.2 117.8,499.2 118.6,499.3 119.4,498.5 120.2,494.1 121.0,500.5 121.8,495.5 122.6,489.7 123.4,492.2 124.2,493.6 125.0,485.9 125.8,484.8 126.6,476.0 127.4,468.7 128.2,461.9 128.9,465.3 129.7,456.2 130.5,457.2 131.3,449.8 132.1,457.1 132.9,448.0 133.7,454.6 134.5,456.4 135.3,460.3 136.1,467.6 136.9,460.2 137.7,469.7 138.5,476.3 139.3,474.7 140.1,483.9 140.9,488.8 141.7,497.6 142.5,491.5 143.3,499.7 144.1,499.3 144.9,500.5 145.7,496.0 146.4,498.0 147.2,498.5 148.0,497.8 148.8,487.8 149.6,486.4 150.4,472.9 151.2,471.9 152.0,469.2 152.8,470.8 153.6,472.1 154.4,465.3 155.2,465.6 156.0,464.4 156.8,460.5 157.6,458.6 158.4,456.6 159.2,457.9 160.0,462.8 160.8,457.9 161.6,459.0 162.4,455.9 163.2,459.3 163.9,465.6 164.7,466.3 165.5,465.3 166.3,460.0 167.1,459.1 167.9,461.7 168.7,458.9 169.5,468.7 170.3,469.2 171.1,463.3 171.9,459.2 172.7,467.5 173.5,465.6 174.3,459.1 175.1,463.0 175.9,463.3 176.7,465.9 177.5,460.5 178.3,465.1 179.1,464.9 179.9,464.5 180.7,464.0 181.4,474.6 182.2,475.2 183.0,475.5 183.8,481.3 184.6,488.9 185.4,487.7 186.2,486.1 187.0,489.7 187.8,494.4 188.6,496.2 189.4,504.1 190.2,504.0 191.0,501.1 191.8,499.5 192.6,501.4 193.4,502.4 194.2,504.4 195.0,509.4 195.8,511.5 196.6,500.2 197.4,498.0 198.2,491.2 198.9,499.4 199.7,501.5 200.5,496.2 201.3,501.6 202.1,510.3 202.9,508.1 203.7,503.9 204.5,509.4 205.3,502.5 206.1,502.6 206.9,504.0 207.7,502.6 208.5,497.8 209.3,504.9 210.1,502.5 210.9,497.9 211.7,498.8 212.5,487.6 213.3,493.0 214.1,495.6 214.9,486.7 215.7,481.3 216.5,483.1 217.2,471.7 218.0,474.6 218.8,466.0 219.6,464.9 220.4,453.2 221.2,453.2 222.0,453.9 222.8,457.6 223.6,451.8 224.4,450.4 225.2,449.2 226.0,448.4 226.8,448.9 227.6,450.3 228.4,445.7 229.2,445.6 230.0,443.8 230.8,443.8 231.6,451.4 232.4,449.8 233.2,451.3 234.0,458.5 234.7,458.9 235.5,465.5 236.3,471.7 237.1,456.6 237.9,451.4 238.7,448.0 239.5,450.0 240.3,454.8 241.1,448.7 241.9,441.6 242.7,445.4 243.5,449.8 244.3,448.7 245.1,448.2 245.9,447.2 246.7,451.3 247.5,451.9 248.3,444.0 249.1,455.5 249.9,451.9 250.7,462.6 251.5,463.0 252.2,463.6 253.0,464.6 253.8,477.0 254.6,476.7 255.4,485.1 256.2,491.8 257.0,495.9 257.8,493.8 258.6,505.4 259.4,508.7 260.2,507.8 261.0,511.9 261.8,499.9" fill="none" stroke="#c8502a" stroke-width="1.3" stroke-linejoin="round"/>
<polyline points="48.6,491.5 49.4,486.4 50.2,482.4 51.0,484.1 51.8,483.9 52.6,482.5 53.4,477.1 54.2,482.1 55.0,484.2 55.8,486.0 56.6,480.5 57.4,492.9 58.1,493.3 58.9,493.8 59.7,492.6 60.5,489.7 61.3,488.9 62.1,481.6 62.9,474.4 63.7,474.1 64.5,470.5 65.3,475.0 66.1,459.8 66.9,453.6 67.7,437.9 68.5,438.7 69.3,443.5 70.1,436.1 70.9,434.3 71.7,433.7 72.5,433.3 73.3,444.7 74.1,436.2 74.9,431.5 75.6,440.8 76.4,441.3 77.2,441.7 78.0,445.2 78.8,448.8 79.6,456.7 80.4,464.7 81.2,466.9 82.0,463.6 82.8,473.3 83.6,487.5 84.4,483.6 85.2,487.7 86.0,484.5 86.8,487.4 87.6,489.1 88.4,493.3 89.2,496.4 90.0,490.5 90.8,494.3 91.6,497.8 92.4,496.0 93.1,495.2 93.9,500.5 94.7,487.5 95.5,490.9 96.3,499.0 97.1,501.0 97.9,495.7 98.7,491.2 99.5,498.8 100.3,496.6 101.1,495.6 101.9,505.0 102.7,499.8 103.5,495.1 104.3,498.9 105.1,494.0 105.9,498.9 106.7,491.8 107.5,503.7 108.3,505.8 109.1,501.6 109.9,505.0 110.6,501.3 111.4,501.3 112.2,495.5 113.0,492.7 113.8,498.6 114.6,499.0 115.4,506.3 116.2,501.4 117.0,504.5 117.8,493.1 118.6,491.2 119.4,497.9 120.2,497.4 121.0,503.0 121.8,493.1 122.6,487.1 123.4,489.4 124.2,489.2 125.0,489.6 125.8,479.9 126.6,473.7 127.4,457.1 128.2,457.3 128.9,454.6 129.7,460.6 130.5,454.2 131.3,457.2 132.1,443.0 132.9,443.3 133.7,454.3 134.5,456.9 135.3,448.3 136.1,455.4 136.9,456.3 137.7,465.6 138.5,475.0 139.3,474.3 140.1,480.0 140.9,484.6 141.7,484.6 142.5,491.8 143.3,499.3 144.1,497.8 144.9,497.7 145.7,488.5 146.4,494.0 147.2,493.1 148.0,490.7 148.8,494.5 149.6,488.5 150.4,480.3 151.2,470.7 152.0,467.3 152.8,463.4 153.6,456.4 154.4,458.8 155.2,452.0 156.0,458.1 156.8,454.9 157.6,453.2 158.4,454.6 159.2,448.8 160.0,445.7 160.8,464.6 161.6,454.0 162.4,451.9 163.2,447.8 163.9,460.3 164.7,460.7 165.5,454.9 166.3,451.9 167.1,465.9 167.9,466.1 168.7,459.9 169.5,461.2 170.3,456.5 171.1,445.2 171.9,451.2 172.7,452.1 173.5,454.2 174.3,451.6 175.1,458.7 175.9,452.1 176.7,440.4 177.5,457.7 178.3,452.1 179.1,462.4 179.9,453.9 180.7,465.2 181.4,462.5 182.2,468.8 183.0,469.5 183.8,476.2 184.6,482.4 185.4,490.1 186.2,481.6 187.0,495.6 187.8,495.7 188.6,492.5 189.4,493.3 190.2,495.9 191.0,498.0 191.8,500.7 192.6,492.9 193.4,497.1 194.2,494.5 195.0,499.2 195.8,503.4 196.6,503.1 197.4,505.6 198.2,505.8 198.9,503.9 199.7,502.3 200.5,502.9 201.3,501.7 202.1,494.6 202.9,503.1 203.7,503.0 204.5,495.5 205.3,494.1 206.1,499.7 206.9,501.9 207.7,501.2 208.5,488.4 209.3,497.1 210.1,493.7 210.9,501.0 211.7,493.0 212.5,490.8 213.3,488.2 214.1,484.2 214.9,478.8 215.7,489.0 216.5,479.8 217.2,469.8 218.0,465.4 218.8,466.7 219.6,464.6 220.4,456.8 221.2,448.5 222.0,447.8 222.8,446.6 223.6,441.1 224.4,445.7 225.2,439.0 226.0,437.3 226.8,437.4 227.6,439.7 228.4,424.5 229.2,435.2 230.0,444.1 230.8,450.6 231.6,440.0 232.4,452.8 233.2,450.7 234.0,446.5 234.7,453.2 235.5,447.0 236.3,450.7 237.1,462.1 237.9,459.8 238.7,443.0 239.5,444.9 240.3,442.2 241.1,437.2 241.9,439.8 242.7,443.0 243.5,435.1 244.3,432.2 245.1,441.1 245.9,434.1 246.7,443.0 247.5,442.1 248.3,443.9 249.1,448.5 249.9,449.1 250.7,464.8 251.5,460.5 252.2,462.8 253.0,456.6 253.8,468.4 254.6,473.4 255.4,478.6 256.2,488.6 257.0,492.9 257.8,495.4 258.6,498.7 259.4,503.0 260.2,505.9 261.0,505.4 261.8,511.7" fill="none" stroke="#3a9a3a" stroke-width="1.3" stroke-linejoin="round"/>
<polyline points="48.6,488.8 49.4,493.0 50.2,489.7 51.0,482.4 51.8,482.0 52.6,475.2 53.4,484.5 54.2,488.2 55.0,488.5 55.8,490.6 56.6,486.0 57.4,482.1 58.1,492.6 58.9,493.1 59.7,488.1 60.5,495.1 61.3,492.9 62.1,479.9 62.9,472.1 63.7,470.5 64.5,471.9 65.3,464.4 66.1,453.3 66.9,446.7 67.7,434.9 68.5,431.6 69.3,438.3 70.1,430.6 70.9,428.0 71.7,425.1 72.5,425.8 73.3,436.0 74.1,430.0 74.9,436.0 75.6,432.0 76.4,436.0 77.2,438.0 78.0,448.8 78.8,449.3 79.6,452.5 80.4,465.6 81.2,466.2 82.0,469.6 82.8,472.1 83.6,471.3 84.4,478.9 85.2,489.9 86.0,485.1 86.8,492.0 87.6,490.6 88.4,499.3 89.2,502.3 90.0,498.1 90.8,497.5 91.6,501.6 92.4,486.0 93.1,491.1 93.9,492.5 94.7,496.1 95.5,496.0 96.3,498.1 97.1,495.5 97.9,497.1 98.7,494.8 99.5,500.2 100.3,496.7 101.1,496.9 101.9,495.5 102.7,500.8 103.5,504.6 104.3,496.5 105.1,499.8 105.9,504.1 106.7,499.4 107.5,490.1 108.3,503.2 109.1,497.8 109.9,500.4 110.6,503.7 111.4,497.0 112.2,497.7 113.0,494.4 113.8,497.6 114.6,491.3 115.4,496.4 116.2,500.5 117.0,496.9 117.8,501.0 118.6,497.5 119.4,498.4 120.2,499.5 121.0,494.3 121.8,494.1 122.6,485.7 123.4,493.4 124.2,491.6 125.0,481.4 125.8,479.3 126.6,474.9 127.4,461.7 128.2,459.2 128.9,452.2 129.7,449.6 130.5,455.6 131.3,444.2 132.1,446.8 132.9,455.0 133.7,446.0 134.5,456.4 135.3,453.4 136.1,458.2 136.9,463.1 137.7,470.7 138.5,469.8 139.3,478.9 140.1,485.3 140.9,473.1 141.7,482.3 142.5,485.1 143.3,492.3 144.1,494.3 144.9,496.5 145.7,494.6 146.4,497.3 147.2,495.2 148.0,494.4 148.8,477.8 149.6,484.0 150.4,475.9 151.2,465.6 152.0,470.4 152.8,456.6 153.6,469.7 154.4,464.0 155.2,462.8 156.0,459.9 156.8,457.0 157.6,458.6 158.4,457.4 159.2,454.8 160.0,453.3 160.8,456.8 161.6,451.0 162.4,452.3 163.2,462.8 163.9,460.9 164.7,459.8 165.5,453.5 166.3,459.7 167.1,458.1 167.9,456.5 168.7,457.8 169.5,457.4 170.3,455.9 171.1,457.2 171.9,458.6 172.7,453.7 173.5,448.4 174.3,451.3 175.1,453.5 175.9,454.7 176.7,455.8 177.5,458.2 178.3,456.0 179.1,450.6 179.9,459.2 180.7,463.8 181.4,460.6 182.2,472.8 183.0,470.3 183.8,475.8 184.6,481.4 185.4,487.9 186.2,485.7 187.0,487.0 187.8,490.7 188.6,493.4 189.4,498.5 190.2,496.4 191.0,502.2 191.8,500.0 192.6,500.7 193.4,496.7 194.2,503.0 195.0,500.7 195.8,496.4 196.6,497.9 197.4,500.1 198.2,499.6 198.9,499.2 199.7,505.2 200.5,501.5 201.3,500.5 202.1,495.0 202.9,493.1 203.7,498.0 204.5,496.9 205.3,497.2 206.1,498.2 206.9,501.4 207.7,499.0 208.5,493.2 209.3,507.5 210.1,495.9 210.9,490.9 211.7,485.1 212.5,488.0 213.3,483.2 214.1,484.0 214.9,479.6 215.7,479.2 216.5,478.8 217.2,473.9 218.0,463.8 218.8,454.5 219.6,457.6 220.4,449.1 221.2,445.4 222.0,444.3 222.8,443.7 223.6,443.2 224.4,433.4 225.2,439.3 226.0,439.3 226.8,434.2 227.6,428.3 228.4,433.8 229.2,433.9 230.0,429.1 230.8,440.4 231.6,425.8 232.4,442.2 233.2,446.7 234.0,456.7 234.7,455.0 235.5,459.0 236.3,451.4 237.1,448.0 237.9,446.6 238.7,446.1 239.5,441.3 240.3,444.9 241.1,442.5 241.9,438.9 242.7,434.7 243.5,431.9 244.3,441.0 245.1,436.7 245.9,437.2 246.7,433.5 247.5,440.2 248.3,438.7 249.1,447.6 249.9,447.6 250.7,453.9 251.5,447.8 252.2,456.4 253.0,458.4 253.8,468.5 254.6,477.5 255.4,480.0 256.2,486.5 257.0,489.4 257.8,494.1 258.6,499.4 259.4,501.2 260.2,502.6 261.0,505.5 261.8,505.6" fill="none" stroke="#d8a81c" stroke-width="1.3" stroke-linejoin="round"/>
<polyline points="48.6,477.8 49.4,467.7 50.2,471.0 51.0,479.0 51.8,475.7 52.6,472.1 53.4,470.0 54.2,472.9 55.0,475.4 55.8,478.3 56.6,477.1 57.4,474.6 58.1,479.1 58.9,481.3 59.7,482.2 60.5,485.0 61.3,479.3 62.1,469.2 62.9,467.8 63.7,472.4 64.5,469.7 65.3,466.2 66.1,454.3 66.9,452.9 67.7,446.5 68.5,445.0 69.3,432.4 70.1,438.4 70.9,440.3 71.7,430.6 72.5,428.0 73.3,430.1 74.1,437.4 74.9,432.1 75.6,424.5 76.4,442.4 77.2,433.9 78.0,445.2 78.8,450.9 79.6,463.0 80.4,463.1 81.2,461.1 82.0,466.9 82.8,470.5 83.6,482.6 84.4,475.7 85.2,470.4 86.0,480.0 86.8,481.0 87.6,481.3 88.4,479.5 89.2,477.3 90.0,481.0 90.8,484.5 91.6,482.6 92.4,478.8 93.1,480.8 93.9,494.2 94.7,490.3 95.5,490.4 96.3,485.0 97.1,486.7 97.9,482.0 98.7,485.0 99.5,485.0 100.3,488.8 101.1,487.7 101.9,486.7 102.7,483.8 103.5,487.0 104.3,487.3 105.1,482.8 105.9,487.9 106.7,487.1 107.5,487.0 108.3,487.3 109.1,493.2 109.9,497.3 110.6,485.1 111.4,488.9 112.2,492.2 113.0,485.5 113.8,489.8 114.6,486.8 115.4,494.5 116.2,492.5 117.0,489.8 117.8,486.3 118.6,481.4 119.4,477.9 120.2,486.2 121.0,495.8 121.8,503.1 122.6,480.5 123.4,474.0 124.2,478.0 125.0,474.8 125.8,481.8 126.6,470.0 127.4,468.1 128.2,461.0 128.9,455.0 129.7,453.5 130.5,450.4 131.3,450.0 132.1,447.6 132.9,447.1 133.7,448.9 134.5,454.0 135.3,450.6 136.1,454.0 136.9,453.5 137.7,458.8 138.5,470.6 139.3,479.7 140.1,473.4 140.9,469.9 141.7,469.5 142.5,485.3 143.3,487.7 144.1,486.5 144.9,482.6 145.7,493.4 146.4,482.5 147.2,482.2 148.0,475.4 148.8,475.4 149.6,467.9 150.4,470.0 151.2,470.4 152.0,470.8 152.8,467.2 153.6,464.3 154.4,459.1 155.2,458.1 156.0,457.0 156.8,452.4 157.6,452.8 158.4,450.0 159.2,454.8 160.0,458.2 160.8,452.5 161.6,454.2 162.4,454.5 163.2,455.6 163.9,456.4 164.7,456.9 165.5,459.1 166.3,458.3 167.1,457.9 167.9,460.2 168.7,453.7 169.5,459.1 170.3,457.2 171.1,460.2 171.9,454.8 172.7,450.1 173.5,448.7 174.3,454.1 175.1,452.0 175.9,447.0 176.7,458.1 177.5,448.7 178.3,457.9 179.1,459.2 179.9,461.4 180.7,470.8 181.4,463.8 182.2,468.8 183.0,474.4 183.8,475.8 184.6,472.1 185.4,468.7 186.2,471.5 187.0,483.8 187.8,483.8 188.6,484.8 189.4,483.2 190.2,483.2 191.0,488.5 191.8,490.1 192.6,487.3 193.4,492.4 194.2,490.2 195.0,488.2 195.8,487.4 196.6,491.2 197.4,492.6 198.2,489.5 198.9,499.2 199.7,495.2 200.5,496.3 201.3,480.9 202.1,487.9 202.9,492.2 203.7,492.2 204.5,499.1 205.3,484.6 206.1,484.9 206.9,489.7 207.7,484.5 208.5,486.2 209.3,488.6 210.1,476.7 210.9,474.7 211.7,477.0 212.5,475.4 213.3,472.4 214.1,478.6 214.9,472.3 215.7,466.8 216.5,479.9 217.2,465.9 218.0,467.2 218.8,468.5 219.6,453.6 220.4,449.6 221.2,444.8 222.0,449.9 222.8,439.6 223.6,444.3 224.4,439.1 225.2,441.8 226.0,443.0 226.8,433.8 227.6,436.5 228.4,439.6 229.2,444.7 230.0,438.3 230.8,437.8 231.6,437.3 232.4,436.7 233.2,446.9 234.0,450.3 234.7,457.1 235.5,459.1 236.3,454.0 237.1,452.7 237.9,446.5 238.7,442.2 239.5,441.5 240.3,440.9 241.1,445.5 241.9,441.3 242.7,437.4 243.5,437.4 244.3,431.2 245.1,436.8 245.9,432.3 246.7,438.3 247.5,436.1 248.3,442.8 249.1,440.6 249.9,444.2 250.7,445.8 251.5,447.2 252.2,461.8 253.0,467.0 253.8,468.1 254.6,472.1 255.4,472.5 256.2,473.0 257.0,476.8 257.8,484.0 258.6,492.1 259.4,497.1 260.2,500.1 261.0,492.7 261.8,495.0" fill="none" stroke="#3a6ad0" stroke-width="1.3" stroke-linejoin="round"/>
<rect x="135.9" y="504.5" width="37.3" height="42" rx="1.5" fill="#fff" fill-opacity="0.85" stroke="#ddd" stroke-width="0.6"/>
<line x1="137.9" y1="508.7" x2="150.4" y2="508.7" stroke="#3a6ad0" stroke-width="1.1"/>
<text x="153.70000000000002" y="510.9" font-size="6.2" fill="#333" font-weight="normal" text-anchor="start" textLength="17" lengthAdjust="spacingAndGlyphs">rank_1</text>
<line x1="137.9" y1="516.8" x2="150.4" y2="516.8" stroke="#d8a81c" stroke-width="1.1"/>
<text x="153.70000000000002" y="519.0" font-size="6.2" fill="#333" font-weight="normal" text-anchor="start" textLength="17" lengthAdjust="spacingAndGlyphs">rank_2</text>
<line x1="137.9" y1="524.9" x2="150.4" y2="524.9" stroke="#3a9a3a" stroke-width="1.1"/>
<text x="153.70000000000002" y="527.1" font-size="6.2" fill="#333" font-weight="normal" text-anchor="start" textLength="17" lengthAdjust="spacingAndGlyphs">rank_3</text>
<line x1="137.9" y1="533.0" x2="150.4" y2="533.0" stroke="#c8502a" stroke-width="1.1"/>
<text x="153.70000000000002" y="535.2" font-size="6.2" fill="#333" font-weight="normal" text-anchor="start" textLength="17" lengthAdjust="spacingAndGlyphs">rank_4</text>
<line x1="137.9" y1="541.1" x2="150.4" y2="541.1" stroke="#9a70e0" stroke-width="1.1"/>
<text x="153.70000000000002" y="543.3" font-size="6.2" fill="#333" font-weight="normal" text-anchor="start" textLength="17" lengthAdjust="spacingAndGlyphs">rank_5</text>
<rect x="293.3" y="404.2" width="232.7" height="144.50000000000006" fill="#fff" stroke="#333" stroke-width="0.8"/>
<line x1="290.3" y1="548.7" x2="293.3" y2="548.7" stroke="#333" stroke-width="0.7"/>
<text x="290.5" y="550.8" font-size="5.8" fill="#333" font-weight="normal" text-anchor="end" textLength="2.85" lengthAdjust="spacingAndGlyphs">0</text>
<line x1="290.3" y1="519.8" x2="293.3" y2="519.8" stroke="#333" stroke-width="0.7"/>
<text x="290.5" y="521.9" font-size="5.8" fill="#333" font-weight="normal" text-anchor="end" textLength="5.7" lengthAdjust="spacingAndGlyphs">20</text>
<line x1="290.3" y1="490.9" x2="293.3" y2="490.9" stroke="#333" stroke-width="0.7"/>
<text x="290.5" y="493.0" font-size="5.8" fill="#333" font-weight="normal" text-anchor="end" textLength="5.7" lengthAdjust="spacingAndGlyphs">40</text>
<line x1="290.3" y1="462.0" x2="293.3" y2="462.0" stroke="#333" stroke-width="0.7"/>
<text x="290.5" y="464.1" font-size="5.8" fill="#333" font-weight="normal" text-anchor="end" textLength="5.7" lengthAdjust="spacingAndGlyphs">60</text>
<line x1="290.3" y1="433.1" x2="293.3" y2="433.1" stroke="#333" stroke-width="0.7"/>
<text x="290.5" y="435.2" font-size="5.8" fill="#333" font-weight="normal" text-anchor="end" textLength="5.7" lengthAdjust="spacingAndGlyphs">80</text>
<line x1="290.3" y1="404.2" x2="293.3" y2="404.2" stroke="#333" stroke-width="0.7"/>
<text x="290.5" y="406.3" font-size="5.8" fill="#333" font-weight="normal" text-anchor="end" textLength="8.55" lengthAdjust="spacingAndGlyphs">100</text>
<line x1="302.5" y1="548.7" x2="302.5" y2="551.7" stroke="#333" stroke-width="0.7"/>
<text x="302.5" y="556.5" font-size="5.8" fill="#333" font-weight="normal" text-anchor="middle" textLength="2.85" lengthAdjust="spacingAndGlyphs">0</text>
<line x1="334.1" y1="548.7" x2="334.1" y2="551.7" stroke="#333" stroke-width="0.7"/>
<text x="334.1" y="556.5" font-size="5.8" fill="#333" font-weight="normal" text-anchor="middle" textLength="5.7" lengthAdjust="spacingAndGlyphs">50</text>
<line x1="365.7" y1="548.7" x2="365.7" y2="551.7" stroke="#333" stroke-width="0.7"/>
<text x="365.7" y="556.5" font-size="5.8" fill="#333" font-weight="normal" text-anchor="middle" textLength="8.55" lengthAdjust="spacingAndGlyphs">100</text>
<line x1="397.3" y1="548.7" x2="397.3" y2="551.7" stroke="#333" stroke-width="0.7"/>
<text x="397.3" y="556.5" font-size="5.8" fill="#333" font-weight="normal" text-anchor="middle" textLength="8.55" lengthAdjust="spacingAndGlyphs">150</text>
<line x1="428.9" y1="548.7" x2="428.9" y2="551.7" stroke="#333" stroke-width="0.7"/>
<text x="428.9" y="556.5" font-size="5.8" fill="#333" font-weight="normal" text-anchor="middle" textLength="8.55" lengthAdjust="spacingAndGlyphs">200</text>
<line x1="460.5" y1="548.7" x2="460.5" y2="551.7" stroke="#333" stroke-width="0.7"/>
<text x="460.5" y="556.5" font-size="5.8" fill="#333" font-weight="normal" text-anchor="middle" textLength="8.55" lengthAdjust="spacingAndGlyphs">250</text>
<line x1="492.1" y1="548.7" x2="492.1" y2="551.7" stroke="#333" stroke-width="0.7"/>
<text x="492.1" y="556.5" font-size="5.8" fill="#333" font-weight="normal" text-anchor="middle" textLength="8.55" lengthAdjust="spacingAndGlyphs">300</text>
<line x1="523.7" y1="548.7" x2="523.7" y2="551.7" stroke="#333" stroke-width="0.7"/>
<text x="523.7" y="556.5" font-size="5.8" fill="#333" font-weight="normal" text-anchor="middle" textLength="8.55" lengthAdjust="spacingAndGlyphs">350</text>
<polygon points="302.5,513.8 303.1,502.1 303.8,490.4 304.4,491.3 305.0,494.1 305.7,494.4 306.3,496.1 306.9,498.6 307.6,499.9 308.2,501.1 308.8,501.2 309.5,501.1 310.1,500.4 310.7,499.0 311.3,497.3 312.0,495.1 312.6,494.0 313.2,490.9 313.9,488.2 314.5,484.8 315.1,482.4 315.8,478.0 316.4,474.8 317.0,470.8 317.7,466.7 318.3,463.4 318.9,459.8 319.6,455.6 320.2,453.2 320.8,451.7 321.5,451.5 322.1,450.0 322.7,450.9 323.4,451.9 324.0,452.6 324.6,453.5 325.3,456.9 325.9,459.4 326.5,462.7 327.1,465.6 327.8,467.8 328.4,470.2 329.0,471.4 329.7,472.5 330.3,474.3 330.9,476.1 331.6,477.3 332.2,480.3 332.8,482.1 333.5,484.7 334.1,485.7 334.7,486.2 335.4,486.4 336.0,486.5 336.6,484.3 337.3,483.8 337.9,484.5 338.5,485.5 339.2,485.8 339.8,487.8 340.4,488.8 341.1,489.0 341.7,488.8 342.3,487.8 342.9,486.8 343.6,487.2 344.2,488.3 344.8,488.2 345.5,489.1 346.1,489.7 346.7,490.4 347.4,490.5 348.0,490.7 348.6,491.4 349.3,491.5 349.9,491.5 350.5,490.5 351.2,491.5 351.8,490.2 352.4,491.3 353.1,490.9 353.7,490.7 354.3,488.8 355.0,489.7 355.6,488.8 356.2,486.9 356.9,485.8 357.5,485.1 358.1,483.6 358.7,482.4 359.4,480.6 360.0,476.9 360.6,472.7 361.3,467.0 361.9,460.4 362.5,453.7 363.2,447.5 363.8,441.8 364.4,435.1 365.1,429.9 365.7,426.7 366.3,424.8 367.0,423.8 367.6,424.7 368.2,425.4 368.9,426.1 369.5,427.9 370.1,429.0 370.8,431.6 371.4,435.1 372.0,439.0 372.7,442.8 373.3,447.5 373.9,452.1 374.5,457.6 375.2,463.8 375.8,470.3 376.4,476.7 377.1,482.2 377.7,485.4 378.3,487.8 379.0,491.0 379.6,492.6 380.2,493.2 380.9,493.9 381.5,494.1 382.1,493.2 382.8,492.6 383.4,492.8 384.0,493.3 384.7,494.4 385.3,494.9 385.9,495.8 386.6,496.8 387.2,496.2 387.8,495.5 388.5,495.1 389.1,494.0 389.7,493.3 390.3,495.4 391.0,495.8 391.6,495.6 392.2,495.5 392.9,495.8 393.5,495.0 394.1,495.6 394.8,493.4 395.4,494.4 396.0,495.2 396.7,495.5 397.3,495.1 397.9,497.9 398.6,498.2 399.2,497.4 399.8,497.7 400.5,497.9 401.1,497.9 401.7,496.8 402.4,496.4 403.0,495.1 403.6,494.7 404.3,495.5 404.9,496.7 405.5,497.7 406.1,498.4 406.8,497.5 407.4,496.9 408.0,495.6 408.7,494.9 409.3,493.0 409.9,491.5 410.6,488.7 411.2,485.4 411.8,477.8 412.5,472.2 413.1,466.8 413.7,461.1 414.4,454.9 415.0,452.3 415.6,448.5 416.3,444.6 416.9,441.6 417.5,439.8 418.2,436.3 418.8,436.9 419.4,437.3 420.1,438.4 420.7,441.6 421.3,446.2 421.9,447.0 422.6,448.9 423.2,448.8 423.8,447.9 424.5,449.0 425.1,447.9 425.7,447.8 426.4,449.7 427.0,449.8 427.6,450.5 428.3,450.8 428.9,449.7 429.5,447.1 430.2,445.1 430.8,441.3 431.4,441.4 432.1,441.3 432.7,441.3 433.3,442.2 434.0,442.0 434.6,439.7 435.2,439.1 435.9,440.1 436.5,441.1 437.1,442.7 437.7,445.4 438.4,447.0 439.0,446.9 439.6,446.7 440.3,446.4 440.9,446.7 441.5,446.8 442.2,449.1 442.8,450.8 443.4,453.5 444.1,456.1 444.7,459.2 445.3,459.9 446.0,462.0 446.6,463.0 447.2,464.6 447.9,465.2 448.5,468.5 449.1,469.8 449.8,473.1 450.4,477.6 451.0,482.3 451.7,483.2 452.3,487.2 452.9,490.7 453.5,490.8 454.2,490.5 454.8,492.0 455.4,492.3 456.1,490.4 456.7,489.7 457.3,490.1 458.0,490.7 458.6,490.8 459.2,490.1 459.9,490.0 460.5,490.7 461.1,492.1 461.8,492.0 462.4,492.4 463.0,494.8 463.7,495.6 464.3,494.6 464.9,494.9 465.6,497.0 466.2,496.9 466.8,496.3 467.5,497.6 468.1,497.8 468.7,497.3 469.3,497.2 470.0,496.8 470.6,496.1 471.2,496.3 471.9,496.3 472.5,495.0 473.1,495.1 473.8,495.3 474.4,495.2 475.0,494.7 475.7,495.7 476.3,496.5 476.9,496.4 477.6,495.5 478.2,495.4 478.8,493.2 479.5,488.6 480.1,482.8 480.7,476.6 481.4,470.4 482.0,464.1 482.6,459.0 483.3,453.9 483.9,448.9 484.5,444.0 485.1,439.0 485.8,435.1 486.4,431.7 487.0,428.7 487.7,426.8 488.3,426.8 488.9,426.1 489.6,426.8 490.2,428.8 490.8,431.5 491.5,434.2 492.1,437.7 492.7,442.3 493.4,446.3 494.0,448.4 494.6,448.7 495.3,449.0 495.9,445.3 496.5,441.4 497.2,436.6 497.8,434.7 498.4,431.9 499.1,431.3 499.7,429.7 500.3,430.7 500.9,429.3 501.6,429.9 502.2,431.3 502.8,432.4 503.5,434.0 504.1,436.0 504.7,436.8 505.4,438.2 506.0,441.5 506.6,444.2 507.3,448.7 507.9,453.2 508.5,458.8 509.2,462.8 509.8,466.0 510.4,468.4 511.1,472.4 511.7,474.0 512.3,478.1 513.0,482.8 513.6,488.5 514.2,491.8 514.9,505.6 515.5,517.3 515.5,531.0 514.9,523.9 514.2,514.4 513.6,513.6 513.0,510.6 512.3,504.4 511.7,501.3 511.1,499.1 510.4,494.2 509.8,488.7 509.2,483.8 508.5,479.7 507.9,475.7 507.3,472.8 506.6,470.6 506.0,469.0 505.4,465.5 504.7,464.1 504.1,462.8 503.5,460.6 502.8,460.0 502.2,460.2 501.6,459.6 500.9,458.2 500.3,457.9 499.7,457.2 499.1,457.7 498.4,459.1 497.8,462.0 497.2,466.3 496.5,469.5 495.9,472.5 495.3,474.7 494.6,476.1 494.0,474.9 493.4,473.3 492.7,470.4 492.1,467.4 491.5,463.4 490.8,461.5 490.2,459.6 489.6,457.4 488.9,456.2 488.3,455.0 487.7,454.2 487.0,455.1 486.4,457.7 485.8,460.8 485.1,465.2 484.5,470.1 483.9,474.2 483.3,479.1 482.6,484.5 482.0,490.0 481.4,495.2 480.7,501.4 480.1,506.5 479.5,509.5 478.8,511.7 478.2,513.0 477.6,513.6 476.9,514.4 476.3,515.0 475.7,516.0 475.0,516.1 474.4,516.0 473.8,514.6 473.1,514.8 472.5,513.5 471.9,514.2 471.2,514.7 470.6,515.1 470.0,515.0 469.3,517.6 468.7,517.8 468.1,517.8 467.5,518.7 466.8,518.8 466.2,516.5 465.6,516.1 464.9,516.8 464.3,515.8 463.7,515.9 463.0,517.3 462.4,516.2 461.8,514.2 461.1,515.2 460.5,515.4 459.9,513.2 459.2,513.9 458.6,516.6 458.0,514.4 457.3,512.2 456.7,512.8 456.1,512.0 455.4,509.3 454.8,509.4 454.2,510.3 453.5,510.4 452.9,511.0 452.3,511.8 451.7,512.2 451.0,514.5 450.4,515.3 449.8,514.6 449.1,512.7 448.5,512.1 447.9,509.2 447.2,507.1 446.6,505.6 446.0,504.4 445.3,502.0 444.7,499.7 444.1,498.3 443.4,497.0 442.8,495.6 442.2,494.1 441.5,491.1 440.9,489.9 440.3,488.3 439.6,487.6 439.0,486.4 438.4,487.3 437.7,485.8 437.1,484.6 436.5,484.2 435.9,484.3 435.2,483.9 434.6,483.6 434.0,483.7 433.3,483.4 432.7,483.7 432.1,482.9 431.4,481.7 430.8,483.7 430.2,484.8 429.5,483.6 428.9,484.5 428.3,487.9 427.6,487.8 427.0,488.4 426.4,491.7 425.7,492.1 425.1,490.7 424.5,490.1 423.8,489.1 423.2,488.3 422.6,488.2 421.9,487.8 421.3,485.8 420.7,483.4 420.1,479.9 419.4,480.6 418.8,478.5 418.2,479.8 417.5,482.7 416.9,486.4 416.3,486.8 415.6,491.1 415.0,492.6 414.4,494.2 413.7,495.8 413.1,497.2 412.5,499.8 411.8,504.1 411.2,506.9 410.6,508.8 409.9,512.5 409.3,513.3 408.7,513.5 408.0,514.5 407.4,516.2 406.8,515.9 406.1,517.6 405.5,517.2 404.9,517.9 404.3,517.1 403.6,516.9 403.0,515.3 402.4,515.6 401.7,515.0 401.1,515.3 400.5,515.4 399.8,515.5 399.2,515.2 398.6,514.2 397.9,514.0 397.3,513.7 396.7,513.4 396.0,513.6 395.4,514.6 394.8,513.9 394.1,514.1 393.5,514.2 392.9,513.8 392.2,512.4 391.6,512.9 391.0,512.9 390.3,512.5 389.7,512.9 389.1,513.1 388.5,513.0 387.8,513.7 387.2,514.8 386.6,516.0 385.9,518.4 385.3,517.9 384.7,516.1 384.0,515.2 383.4,514.2 382.8,511.9 382.1,513.0 381.5,513.3 380.9,512.8 380.2,513.0 379.6,512.5 379.0,511.0 378.3,508.9 377.7,506.1 377.1,501.9 376.4,496.9 375.8,491.9 375.2,488.3 374.5,484.7 373.9,478.9 373.3,474.4 372.7,470.0 372.0,465.6 371.4,462.1 370.8,462.8 370.1,460.6 369.5,458.2 368.9,457.7 368.2,457.2 367.6,455.2 367.0,457.9 366.3,460.8 365.7,462.0 365.1,464.3 364.4,466.9 363.8,468.4 363.2,471.4 362.5,475.6 361.9,480.8 361.3,486.6 360.6,492.1 360.0,497.9 359.4,501.4 358.7,504.5 358.1,505.2 357.5,506.4 356.9,506.2 356.2,508.3 355.6,509.6 355.0,510.4 354.3,510.8 353.7,511.9 353.1,511.9 352.4,510.9 351.8,511.6 351.2,512.3 350.5,512.6 349.9,511.9 349.3,511.3 348.6,511.3 348.0,510.9 347.4,509.8 346.7,509.5 346.1,509.5 345.5,508.8 344.8,509.3 344.2,509.6 343.6,510.0 342.9,510.5 342.3,510.3 341.7,509.4 341.1,508.6 340.4,508.5 339.8,507.7 339.2,506.9 338.5,507.0 337.9,507.8 337.3,507.6 336.6,508.2 336.0,508.3 335.4,508.3 334.7,507.6 334.1,506.3 333.5,504.8 332.8,504.3 332.2,502.4 331.6,503.3 330.9,501.3 330.3,499.9 329.7,497.7 329.0,496.0 328.4,490.3 327.8,488.5 327.1,486.0 326.5,483.1 325.9,480.5 325.3,479.0 324.6,476.8 324.0,474.4 323.4,473.5 322.7,472.6 322.1,473.2 321.5,473.9 320.8,474.5 320.2,476.1 319.6,478.7 318.9,481.1 318.3,484.8 317.7,488.9 317.0,492.2 316.4,498.0 315.8,500.7 315.1,503.2 314.5,505.0 313.9,508.4 313.2,508.3 312.6,511.4 312.0,513.6 311.3,516.0 310.7,516.8 310.1,517.4 309.5,518.1 308.8,517.8 308.2,517.3 307.6,517.2 306.9,516.0 306.3,514.4 305.7,514.0 305.0,513.9 304.4,512.7 303.8,512.2 303.1,519.3 302.5,526.2" fill="#fbeaf3"/>
<polyline points="302.5,501.2 303.1,502.4 303.8,509.2 304.4,509.9 305.0,505.9 305.7,502.2 306.3,513.4 306.9,505.5 307.6,511.7 308.2,509.9 308.8,509.7 309.5,510.2 310.1,503.4 310.7,511.6 311.3,513.0 312.0,505.3 312.6,502.9 313.2,498.6 313.9,502.7 314.5,497.6 315.1,496.5 315.8,492.9 316.4,490.5 317.0,490.7 317.7,484.0 318.3,481.5 318.9,476.1 319.6,469.6 320.2,472.3 320.8,471.7 321.5,468.7 322.1,468.0 322.7,466.3 323.4,468.9 324.0,468.6 324.6,473.0 325.3,472.5 325.9,479.0 326.5,480.1 327.1,476.0 327.8,485.8 328.4,487.2 329.0,491.4 329.7,488.9 330.3,505.2 330.9,490.8 331.6,498.4 332.2,498.5 332.8,498.5 333.5,495.1 334.1,493.5 334.7,501.0 335.4,505.6 336.0,497.9 336.6,500.3 337.3,503.4 337.9,500.2 338.5,502.9 339.2,500.3 339.8,496.6 340.4,502.9 341.1,504.2 341.7,507.0 342.3,506.5 342.9,498.9 343.6,501.0 344.2,505.3 344.8,504.5 345.5,498.8 346.1,498.5 346.7,499.8 347.4,499.6 348.0,499.4 348.6,505.8 349.3,501.6 349.9,500.7 350.5,508.3 351.2,505.5 351.8,509.1 352.4,507.2 353.1,503.7 353.7,502.6 354.3,512.6 355.0,509.2 355.6,493.7 356.2,501.8 356.9,500.9 357.5,506.2 358.1,497.9 358.7,502.6 359.4,490.9 360.0,495.2 360.6,490.9 361.3,479.4 361.9,473.3 362.5,468.1 363.2,468.1 363.8,464.8 364.4,460.1 365.1,458.6 365.7,461.0 366.3,455.3 367.0,453.3 367.6,453.8 368.2,444.3 368.9,447.6 369.5,465.4 370.1,455.8 370.8,456.2 371.4,456.1 372.0,459.0 372.7,461.5 373.3,473.5 373.9,478.2 374.5,478.1 375.2,481.7 375.8,490.3 376.4,491.6 377.1,496.0 377.7,500.1 378.3,499.5 379.0,511.4 379.6,505.4 380.2,504.7 380.9,500.9 381.5,503.2 382.1,510.0 382.8,506.0 383.4,502.1 384.0,505.4 384.7,519.9 385.3,515.7 385.9,512.4 386.6,513.9 387.2,508.5 387.8,507.6 388.5,509.2 389.1,505.0 389.7,508.5 390.3,501.9 391.0,506.8 391.6,504.5 392.2,504.2 392.9,511.0 393.5,501.9 394.1,504.3 394.8,510.3 395.4,503.0 396.0,508.6 396.7,507.5 397.3,507.3 397.9,508.9 398.6,509.4 399.2,510.1 399.8,505.9 400.5,513.5 401.1,505.7 401.7,508.5 402.4,505.9 403.0,506.2 403.6,516.4 404.3,508.8 404.9,516.4 405.5,512.5 406.1,513.6 406.8,505.8 407.4,510.8 408.0,499.6 408.7,512.6 409.3,502.5 409.9,505.6 410.6,509.6 411.2,504.2 411.8,495.4 412.5,488.1 413.1,490.1 413.7,484.0 414.4,488.0 415.0,473.5 415.6,485.1 416.3,479.7 416.9,479.5 417.5,466.9 418.2,469.4 418.8,469.9 419.4,465.8 420.1,472.3 420.7,472.3 421.3,474.7 421.9,480.3 422.6,483.4 423.2,483.7 423.8,482.0 424.5,481.9 425.1,480.2 425.7,477.9 426.4,479.1 427.0,488.9 427.6,476.1 428.3,472.1 428.9,471.5 429.5,475.5 430.2,471.4 430.8,470.0 431.4,465.2 432.1,474.1 432.7,467.0 433.3,468.2 434.0,468.9 434.6,468.3 435.2,480.8 435.9,477.8 436.5,475.2 437.1,479.2 437.7,473.0 438.4,475.9 439.0,472.6 439.6,479.7 440.3,477.4 440.9,483.0 441.5,485.6 442.2,488.0 442.8,476.6 443.4,480.7 444.1,492.4 444.7,493.6 445.3,496.1 446.0,494.1 446.6,488.6 447.2,488.7 447.9,498.4 448.5,502.3 449.1,495.1 449.8,497.2 450.4,507.2 451.0,509.0 451.7,503.5 452.3,503.1 452.9,507.4 453.5,505.4 454.2,502.0 454.8,497.2 455.4,493.1 456.1,493.8 456.7,500.1 457.3,518.8 458.0,508.9 458.6,504.1 459.2,513.9 459.9,510.8 460.5,505.2 461.1,497.4 461.8,515.1 462.4,512.8 463.0,510.5 463.7,490.4 464.3,507.2 464.9,505.9 465.6,512.6 466.2,509.7 466.8,505.7 467.5,513.0 468.1,508.1 468.7,512.2 469.3,509.1 470.0,497.6 470.6,502.3 471.2,504.5 471.9,512.8 472.5,506.5 473.1,509.4 473.8,508.7 474.4,505.5 475.0,502.6 475.7,515.3 476.3,510.1 476.9,505.9 477.6,504.3 478.2,505.3 478.8,511.5 479.5,507.2 480.1,501.6 480.7,496.8 481.4,493.9 482.0,485.8 482.6,476.4 483.3,475.7 483.9,468.9 484.5,467.1 485.1,461.3 485.8,455.6 486.4,451.5 487.0,446.6 487.7,451.6 488.3,448.7 488.9,448.6 489.6,455.5 490.2,452.6 490.8,457.3 491.5,460.0 492.1,460.3 492.7,464.9 493.4,472.6 494.0,472.6 494.6,474.3 495.3,468.4 495.9,471.0 496.5,465.5 497.2,461.6 497.8,459.4 498.4,450.5 499.1,449.6 499.7,447.8 500.3,454.8 500.9,457.0 501.6,455.8 502.2,451.2 502.8,457.5 503.5,458.0 504.1,455.7 504.7,459.1 505.4,461.7 506.0,463.9 506.6,465.4 507.3,472.9 507.9,467.2 508.5,472.7 509.2,478.6 509.8,485.4 510.4,493.3 511.1,491.9 511.7,500.3 512.3,502.7 513.0,496.5 513.6,504.0 514.2,522.7 514.9,506.7 515.5,504.9" fill="none" stroke="#9a70e0" stroke-width="1.3" stroke-linejoin="round"/>
<polyline points="302.5,495.8 303.1,502.7 303.8,500.8 304.4,502.1 305.0,508.7 305.7,506.6 306.3,504.0 306.9,509.6 307.6,508.2 308.2,513.7 308.8,512.7 309.5,508.5 310.1,508.1 310.7,513.7 311.3,507.0 312.0,509.8 312.6,509.8 313.2,491.7 313.9,499.2 314.5,493.2 315.1,495.7 315.8,489.3 316.4,482.4 317.0,487.3 317.7,478.3 318.3,472.0 318.9,467.5 319.6,470.1 320.2,467.9 320.8,463.9 321.5,462.7 322.1,466.4 322.7,467.1 323.4,461.1 324.0,461.9 324.6,470.0 325.3,465.3 325.9,476.7 326.5,471.4 327.1,469.3 327.8,480.6 328.4,474.3 329.0,479.7 329.7,487.4 330.3,488.6 330.9,494.1 331.6,489.9 332.2,490.5 332.8,496.7 333.5,494.7 334.1,503.4 334.7,498.2 335.4,492.2 336.0,495.6 336.6,490.3 337.3,497.8 337.9,493.4 338.5,495.3 339.2,506.2 339.8,495.3 340.4,497.3 341.1,498.3 341.7,501.4 342.3,497.8 342.9,494.4 343.6,507.3 344.2,498.2 344.8,500.6 345.5,497.6 346.1,494.3 346.7,493.0 347.4,507.3 348.0,504.7 348.6,505.9 349.3,504.4 349.9,506.9 350.5,491.9 351.2,499.7 351.8,502.5 352.4,501.1 353.1,500.6 353.7,499.8 354.3,497.0 355.0,501.0 355.6,490.5 356.2,495.5 356.9,498.6 357.5,496.3 358.1,492.4 358.7,499.7 359.4,495.9 360.0,497.1 360.6,488.9 361.3,481.2 361.9,469.6 362.5,466.3 363.2,468.4 363.8,460.6 364.4,454.4 365.1,449.6 365.7,450.0 366.3,439.4 367.0,442.4 367.6,439.7 368.2,441.0 368.9,442.0 369.5,439.5 370.1,437.9 370.8,447.9 371.4,437.4 372.0,446.3 372.7,457.6 373.3,461.9 373.9,469.5 374.5,478.0 375.2,478.2 375.8,480.9 376.4,488.4 377.1,488.1 377.7,503.3 378.3,506.6 379.0,499.7 379.6,504.6 380.2,506.5 380.9,511.1 381.5,508.8 382.1,510.8 382.8,502.3 383.4,505.3 384.0,505.8 384.7,505.1 385.3,509.1 385.9,506.3 386.6,509.6 387.2,502.6 387.8,504.2 388.5,500.7 389.1,498.2 389.7,500.6 390.3,508.6 391.0,506.1 391.6,505.0 392.2,503.6 392.9,508.0 393.5,506.1 394.1,513.5 394.8,509.2 395.4,507.8 396.0,510.1 396.7,502.7 397.3,508.5 397.9,504.3 398.6,507.3 399.2,511.7 399.8,506.8 400.5,507.2 401.1,506.0 401.7,504.8 402.4,501.7 403.0,498.9 403.6,507.3 404.3,506.7 404.9,508.0 405.5,510.8 406.1,505.9 406.8,508.2 407.4,503.8 408.0,507.9 408.7,503.2 409.3,505.1 409.9,507.8 410.6,496.8 411.2,496.7 411.8,495.0 412.5,496.0 413.1,493.7 413.7,488.2 414.4,490.9 415.0,488.5 415.6,488.0 416.3,486.0 416.9,480.4 417.5,469.5 418.2,476.6 418.8,469.8 419.4,471.1 420.1,474.0 420.7,480.1 421.3,482.8 421.9,487.1 422.6,483.0 423.2,478.8 423.8,478.7 424.5,483.3 425.1,491.6 425.7,488.2 426.4,487.0 427.0,484.1 427.6,481.3 428.3,474.8 428.9,485.1 429.5,488.0 430.2,471.6 430.8,476.9 431.4,480.7 432.1,479.5 432.7,478.1 433.3,477.9 434.0,480.9 434.6,478.9 435.2,471.9 435.9,474.9 436.5,479.5 437.1,482.9 437.7,478.5 438.4,482.9 439.0,483.7 439.6,486.9 440.3,478.4 440.9,484.4 441.5,486.6 442.2,491.2 442.8,493.2 443.4,493.1 444.1,492.0 444.7,488.2 445.3,497.6 446.0,500.3 446.6,504.5 447.2,504.5 447.9,499.3 448.5,505.1 449.1,510.9 449.8,519.2 450.4,506.5 451.0,507.2 451.7,508.6 452.3,506.9 452.9,499.5 453.5,503.5 454.2,502.0 454.8,502.7 455.4,506.7 456.1,497.3 456.7,504.5 457.3,508.0 458.0,506.4 458.6,500.7 459.2,501.3 459.9,504.4 460.5,503.2 461.1,505.8 461.8,511.4 462.4,504.2 463.0,507.3 463.7,514.9 464.3,510.6 464.9,502.5 465.6,505.4 466.2,506.8 466.8,511.5 467.5,503.2 468.1,499.7 468.7,505.1 469.3,510.9 470.0,506.8 470.6,511.2 471.2,501.5 471.9,507.2 472.5,503.9 473.1,498.0 473.8,501.3 474.4,505.2 475.0,505.8 475.7,507.2 476.3,509.4 476.9,507.2 477.6,503.5 478.2,508.7 478.8,507.4 479.5,503.8 480.1,496.2 480.7,494.3 481.4,490.4 482.0,476.4 482.6,472.9 483.3,458.4 483.9,460.6 484.5,464.7 485.1,452.6 485.8,450.0 486.4,442.9 487.0,446.5 487.7,447.9 488.3,437.4 488.9,451.0 489.6,443.5 490.2,452.4 490.8,441.7 491.5,458.8 492.1,453.4 492.7,457.0 493.4,468.6 494.0,460.2 494.6,468.3 495.3,465.6 495.9,450.6 496.5,458.4 497.2,453.5 497.8,446.8 498.4,452.4 499.1,448.0 499.7,450.7 500.3,444.4 500.9,433.8 501.6,444.9 502.2,441.0 502.8,441.5 503.5,450.4 504.1,452.1 504.7,454.5 505.4,462.0 506.0,458.9 506.6,454.5 507.3,463.3 507.9,457.7 508.5,466.4 509.2,471.9 509.8,479.7 510.4,486.0 511.1,488.8 511.7,489.9 512.3,501.1 513.0,495.6 513.6,508.8 514.2,512.8 514.9,515.5 515.5,506.6" fill="none" stroke="#c8502a" stroke-width="1.3" stroke-linejoin="round"/>
<polyline points="302.5,496.6 303.1,488.4 303.8,501.1 304.4,494.2 305.0,494.8 305.7,500.4 306.3,509.5 306.9,508.9 307.6,508.0 308.2,508.7 308.8,506.9 309.5,513.6 310.1,502.5 310.7,502.3 311.3,504.0 312.0,500.1 312.6,499.9 313.2,492.8 313.9,496.3 314.5,488.2 315.1,510.4 315.8,485.8 316.4,481.8 317.0,485.1 317.7,474.3 318.3,466.8 318.9,466.1 319.6,466.7 320.2,470.2 320.8,464.5 321.5,454.9 322.1,454.5 322.7,464.1 323.4,449.5 324.0,455.3 324.6,459.9 325.3,472.1 325.9,467.9 326.5,466.5 327.1,476.4 327.8,477.7 328.4,482.5 329.0,480.6 329.7,478.6 330.3,481.8 330.9,484.9 331.6,489.4 332.2,486.1 332.8,492.8 333.5,489.0 334.1,496.3 334.7,495.7 335.4,490.9 336.0,499.8 336.6,492.8 337.3,497.8 337.9,483.7 338.5,495.1 339.2,497.9 339.8,495.3 340.4,498.2 341.1,493.6 341.7,495.3 342.3,504.0 342.9,504.7 343.6,502.2 344.2,501.3 344.8,498.8 345.5,501.8 346.1,496.2 346.7,491.7 347.4,491.6 348.0,501.1 348.6,497.9 349.3,507.4 349.9,503.2 350.5,508.8 351.2,507.7 351.8,503.1 352.4,505.1 353.1,501.4 353.7,505.1 354.3,496.8 355.0,501.5 355.6,501.6 356.2,501.4 356.9,492.9 357.5,489.2 358.1,494.8 358.7,492.8 359.4,492.3 360.0,487.5 360.6,484.0 361.3,479.2 361.9,466.5 362.5,457.8 363.2,453.6 363.8,454.1 364.4,446.7 365.1,444.4 365.7,438.7 366.3,435.6 367.0,436.8 367.6,437.2 368.2,433.5 368.9,435.4 369.5,436.4 370.1,437.1 370.8,438.2 371.4,440.5 372.0,448.8 372.7,448.0 373.3,461.7 373.9,455.8 374.5,461.9 375.2,476.4 375.8,475.7 376.4,484.0 377.1,492.5 377.7,492.9 378.3,498.7 379.0,504.8 379.6,502.4 380.2,505.8 380.9,504.8 381.5,504.9 382.1,507.1 382.8,507.5 383.4,503.7 384.0,501.8 384.7,503.7 385.3,506.4 385.9,501.9 386.6,508.5 387.2,504.9 387.8,502.3 388.5,498.7 389.1,504.7 389.7,500.0 390.3,497.5 391.0,498.5 391.6,506.5 392.2,500.1 392.9,504.6 393.5,499.0 394.1,499.9 394.8,504.1 395.4,504.2 396.0,502.7 396.7,509.8 397.3,503.5 397.9,502.0 398.6,505.2 399.2,502.2 399.8,511.0 400.5,511.3 401.1,510.2 401.7,508.7 402.4,511.2 403.0,509.8 403.6,509.6 404.3,506.2 404.9,500.3 405.5,510.1 406.1,505.1 406.8,512.8 407.4,501.7 408.0,503.4 408.7,506.6 409.3,503.1 409.9,500.5 410.6,499.6 411.2,495.1 411.8,489.6 412.5,491.9 413.1,487.0 413.7,479.4 414.4,482.5 415.0,478.9 415.6,454.5 416.3,459.9 416.9,460.0 417.5,461.3 418.2,486.3 418.8,461.5 419.4,460.1 420.1,460.5 420.7,465.0 421.3,469.0 421.9,473.0 422.6,469.1 423.2,470.6 423.8,474.4 424.5,473.2 425.1,471.2 425.7,467.5 426.4,472.3 427.0,473.2 427.6,460.7 428.3,458.1 428.9,466.4 429.5,464.3 430.2,463.2 430.8,459.7 431.4,462.3 432.1,459.6 432.7,457.8 433.3,455.3 434.0,456.7 434.6,462.6 435.2,464.5 435.9,466.7 436.5,477.2 437.1,461.4 437.7,462.7 438.4,461.8 439.0,468.6 439.6,470.0 440.3,467.8 440.9,468.6 441.5,466.2 442.2,470.7 442.8,470.7 443.4,475.8 444.1,481.8 444.7,476.1 445.3,488.8 446.0,487.5 446.6,478.9 447.2,480.7 447.9,489.0 448.5,491.1 449.1,497.6 449.8,494.4 450.4,498.1 451.0,496.4 451.7,501.2 452.3,497.6 452.9,499.5 453.5,501.8 454.2,502.4 454.8,494.8 455.4,499.1 456.1,503.0 456.7,500.0 457.3,498.7 458.0,498.6 458.6,498.1 459.2,508.4 459.9,504.4 460.5,502.5 461.1,495.0 461.8,498.4 462.4,509.9 463.0,499.6 463.7,507.2 464.3,503.0 464.9,506.0 465.6,500.8 466.2,501.5 466.8,500.5 467.5,502.6 468.1,506.0 468.7,505.4 469.3,507.4 470.0,502.2 470.6,503.4 471.2,506.5 471.9,508.8 472.5,507.6 473.1,501.0 473.8,506.3 474.4,507.8 475.0,508.9 475.7,506.9 476.3,503.8 476.9,500.9 477.6,507.8 478.2,502.1 478.8,504.2 479.5,501.7 480.1,491.4 480.7,489.0 481.4,483.4 482.0,468.4 482.6,465.0 483.3,464.9 483.9,462.0 484.5,447.4 485.1,447.7 485.8,442.4 486.4,433.5 487.0,441.6 487.7,438.0 488.3,428.2 488.9,429.1 489.6,433.7 490.2,433.9 490.8,433.9 491.5,438.7 492.1,445.7 492.7,450.1 493.4,457.1 494.0,457.0 494.6,461.3 495.3,453.3 495.9,450.8 496.5,454.5 497.2,450.4 497.8,444.1 498.4,429.5 499.1,442.0 499.7,444.6 500.3,435.2 500.9,433.5 501.6,435.9 502.2,436.5 502.8,439.7 503.5,448.0 504.1,446.0 504.7,442.2 505.4,449.3 506.0,456.7 506.6,454.4 507.3,456.0 507.9,466.7 508.5,466.4 509.2,474.2 509.8,476.2 510.4,478.3 511.1,484.5 511.7,489.3 512.3,487.6 513.0,494.4 513.6,495.1 514.2,504.1 514.9,505.8 515.5,505.9" fill="none" stroke="#3a9a3a" stroke-width="1.3" stroke-linejoin="round"/>
<polyline points="302.5,503.8 303.1,507.4 303.8,507.2 304.4,500.5 305.0,505.6 305.7,506.2 306.3,511.9 306.9,502.0 307.6,512.0 308.2,516.7 308.8,507.8 309.5,510.3 310.1,512.0 310.7,507.6 311.3,508.6 312.0,508.7 312.6,501.4 313.2,495.4 313.9,496.4 314.5,488.5 315.1,487.2 315.8,486.7 316.4,480.1 317.0,474.4 317.7,472.2 318.3,469.7 318.9,461.8 319.6,463.6 320.2,461.8 320.8,459.4 321.5,456.2 322.1,455.9 322.7,461.9 323.4,460.8 324.0,467.9 324.6,460.9 325.3,458.1 325.9,466.5 326.5,467.9 327.1,468.0 327.8,476.0 328.4,474.8 329.0,477.4 329.7,480.7 330.3,486.3 330.9,481.6 331.6,481.6 332.2,488.9 332.8,488.7 333.5,501.0 334.1,490.6 334.7,494.6 335.4,494.6 336.0,487.4 336.6,492.4 337.3,491.5 337.9,485.8 338.5,496.4 339.2,497.9 339.8,500.5 340.4,500.1 341.1,498.9 341.7,497.7 342.3,494.3 342.9,502.8 343.6,498.9 344.2,492.1 344.8,502.6 345.5,499.8 346.1,497.9 346.7,501.9 347.4,508.9 348.0,501.2 348.6,503.9 349.3,495.1 349.9,502.1 350.5,498.7 351.2,498.7 351.8,492.8 352.4,500.5 353.1,496.2 353.7,497.2 354.3,497.2 355.0,492.0 355.6,495.8 356.2,493.6 356.9,499.7 357.5,488.2 358.1,486.4 358.7,487.0 359.4,494.1 360.0,488.1 360.6,488.1 361.3,467.8 361.9,473.8 362.5,461.9 363.2,454.4 363.8,445.1 364.4,436.9 365.1,437.3 365.7,424.4 366.3,427.3 367.0,429.9 367.6,427.6 368.2,433.3 368.9,429.2 369.5,430.6 370.1,440.5 370.8,436.7 371.4,442.7 372.0,442.6 372.7,449.9 373.3,451.9 373.9,464.2 374.5,471.9 375.2,478.7 375.8,476.1 376.4,487.9 377.1,494.6 377.7,495.9 378.3,501.6 379.0,491.4 379.6,495.4 380.2,505.6 380.9,501.8 381.5,500.1 382.1,503.2 382.8,496.4 383.4,500.2 384.0,498.1 384.7,498.0 385.3,501.5 385.9,505.0 386.6,502.0 387.2,506.5 387.8,505.2 388.5,509.9 389.1,503.8 389.7,510.7 390.3,505.9 391.0,503.5 391.6,505.8 392.2,508.6 392.9,505.4 393.5,505.0 394.1,512.6 394.8,500.5 395.4,507.5 396.0,487.8 396.7,505.1 397.3,503.5 397.9,508.0 398.6,506.3 399.2,507.1 399.8,510.9 400.5,502.1 401.1,508.7 401.7,508.3 402.4,509.1 403.0,501.7 403.6,500.3 404.3,497.5 404.9,500.5 405.5,505.4 406.1,505.7 406.8,505.7 407.4,501.1 408.0,495.8 408.7,502.4 409.3,501.6 409.9,498.2 410.6,491.7 411.2,488.5 411.8,488.4 412.5,482.0 413.1,481.0 413.7,481.9 414.4,475.0 415.0,472.7 415.6,469.1 416.3,462.9 416.9,463.9 417.5,464.1 418.2,469.4 418.8,458.3 419.4,454.2 420.1,449.6 420.7,463.4 421.3,460.8 421.9,471.8 422.6,465.2 423.2,466.0 423.8,469.0 424.5,470.4 425.1,469.9 425.7,466.5 426.4,462.3 427.0,460.8 427.6,465.0 428.3,461.1 428.9,461.4 429.5,463.8 430.2,451.5 430.8,452.5 431.4,452.8 432.1,456.1 432.7,460.4 433.3,465.2 434.0,458.1 434.6,459.0 435.2,452.2 435.9,457.7 436.5,456.7 437.1,457.0 437.7,458.1 438.4,463.4 439.0,470.4 439.6,465.3 440.3,465.7 440.9,467.4 441.5,465.0 442.2,475.3 442.8,477.2 443.4,466.2 444.1,475.6 444.7,478.9 445.3,487.3 446.0,481.2 446.6,486.4 447.2,481.9 447.9,490.4 448.5,492.0 449.1,496.7 449.8,493.2 450.4,485.6 451.0,496.1 451.7,495.8 452.3,494.8 452.9,486.2 453.5,498.4 454.2,501.4 454.8,505.6 455.4,502.1 456.1,498.7 456.7,501.3 457.3,500.8 458.0,509.3 458.6,503.8 459.2,502.8 459.9,500.5 460.5,498.4 461.1,499.9 461.8,508.1 462.4,507.4 463.0,506.8 463.7,506.5 464.3,511.3 464.9,508.1 465.6,508.2 466.2,515.4 466.8,510.3 467.5,509.5 468.1,519.5 468.7,506.4 469.3,503.0 470.0,511.6 470.6,510.4 471.2,497.6 471.9,501.5 472.5,508.7 473.1,502.7 473.8,505.8 474.4,512.9 475.0,511.8 475.7,506.6 476.3,495.1 476.9,508.1 477.6,507.3 478.2,504.2 478.8,502.3 479.5,503.9 480.1,490.1 480.7,491.6 481.4,478.1 482.0,475.6 482.6,472.1 483.3,458.9 483.9,453.7 484.5,450.0 485.1,443.8 485.8,438.8 486.4,436.8 487.0,434.2 487.7,430.5 488.3,442.4 488.9,435.6 489.6,433.8 490.2,430.8 490.8,437.5 491.5,449.2 492.1,448.9 492.7,447.1 493.4,450.2 494.0,459.9 494.6,458.1 495.3,454.7 495.9,456.7 496.5,453.6 497.2,443.9 497.8,439.4 498.4,436.8 499.1,438.6 499.7,436.6 500.3,442.6 500.9,430.4 501.6,434.5 502.2,440.5 502.8,439.9 503.5,441.8 504.1,436.3 504.7,442.2 505.4,449.3 506.0,448.3 506.6,448.3 507.3,453.0 507.9,455.7 508.5,466.9 509.2,472.1 509.8,477.0 510.4,478.5 511.1,471.7 511.7,479.7 512.3,486.2 513.0,493.7 513.6,494.2 514.2,494.9 514.9,505.0 515.5,502.4" fill="none" stroke="#d8a81c" stroke-width="1.3" stroke-linejoin="round"/>
<polyline points="302.5,501.0 303.1,495.1 303.8,500.5 304.4,504.5 305.0,506.7 305.7,502.9 306.3,502.4 306.9,502.7 307.6,502.4 308.2,507.6 308.8,507.9 309.5,513.7 310.1,510.0 310.7,501.7 311.3,504.3 312.0,502.0 312.6,504.6 313.2,499.7 313.9,497.6 314.5,493.4 315.1,486.7 315.8,482.6 316.4,479.9 317.0,479.5 317.7,473.8 318.3,470.7 318.9,468.5 319.6,463.3 320.2,456.8 320.8,450.9 321.5,456.4 322.1,466.9 322.7,463.0 323.4,455.0 324.0,456.1 324.6,462.5 325.3,468.8 325.9,468.2 326.5,470.6 327.1,470.3 327.8,478.0 328.4,472.6 329.0,479.8 329.7,483.9 330.3,474.1 330.9,485.7 331.6,492.7 332.2,486.7 332.8,485.0 333.5,492.9 334.1,495.6 334.7,497.7 335.4,496.5 336.0,505.3 336.6,504.6 337.3,490.9 337.9,491.9 338.5,488.1 339.2,491.3 339.8,496.5 340.4,492.3 341.1,498.8 341.7,493.2 342.3,492.3 342.9,495.6 343.6,487.2 344.2,488.6 344.8,495.2 345.5,504.6 346.1,503.3 346.7,504.6 347.4,507.4 348.0,498.8 348.6,502.9 349.3,508.6 349.9,495.4 350.5,499.0 351.2,499.6 351.8,496.7 352.4,501.3 353.1,489.0 353.7,503.6 354.3,503.5 355.0,495.3 355.6,496.9 356.2,498.6 356.9,493.9 357.5,487.3 358.1,498.9 358.7,490.9 359.4,486.2 360.0,486.9 360.6,478.4 361.3,474.6 361.9,466.0 362.5,466.3 363.2,456.6 363.8,454.1 364.4,440.2 365.1,442.0 365.7,435.5 366.3,437.3 367.0,429.1 367.6,433.4 368.2,432.1 368.9,440.8 369.5,439.3 370.1,432.5 370.8,437.8 371.4,439.5 372.0,448.8 372.7,451.6 373.3,457.0 373.9,457.4 374.5,460.7 375.2,465.6 375.8,477.6 376.4,482.9 377.1,489.3 377.7,493.4 378.3,493.1 379.0,498.5 379.6,498.8 380.2,503.9 380.9,501.2 381.5,496.4 382.1,494.7 382.8,497.0 383.4,499.2 384.0,499.7 384.7,497.4 385.3,497.0 385.9,502.3 386.6,504.5 387.2,507.5 387.8,504.7 388.5,493.8 389.1,506.8 389.7,508.3 390.3,506.0 391.0,502.1 391.6,507.9 392.2,504.0 392.9,498.8 393.5,497.3 394.1,505.9 394.8,503.9 395.4,505.7 396.0,501.3 396.7,506.0 397.3,506.9 397.9,502.2 398.6,501.4 399.2,501.6 399.8,504.4 400.5,499.2 401.1,503.6 401.7,502.4 402.4,501.6 403.0,506.3 403.6,497.0 404.3,504.0 404.9,503.4 405.5,505.6 406.1,508.5 406.8,501.9 407.4,503.0 408.0,504.9 408.7,514.1 409.3,498.5 409.9,499.5 410.6,497.8 411.2,495.7 411.8,493.8 412.5,483.5 413.1,460.2 413.7,463.6 414.4,461.6 415.0,459.6 415.6,451.3 416.3,447.2 416.9,444.6 417.5,441.9 418.2,444.8 418.8,442.4 419.4,429.4 420.1,447.6 420.7,444.0 421.3,450.2 421.9,458.4 422.6,452.5 423.2,451.5 423.8,453.8 424.5,449.3 425.1,454.0 425.7,458.0 426.4,446.2 427.0,453.3 427.6,458.9 428.3,454.2 428.9,464.6 429.5,448.0 430.2,447.9 430.8,445.7 431.4,444.1 432.1,442.7 432.7,448.2 433.3,447.6 434.0,445.8 434.6,448.3 435.2,442.1 435.9,436.7 436.5,444.3 437.1,451.0 437.7,452.8 438.4,450.5 439.0,449.9 439.6,452.5 440.3,450.3 440.9,452.1 441.5,448.9 442.2,451.3 442.8,452.9 443.4,461.8 444.1,461.0 444.7,462.0 445.3,464.3 446.0,468.5 446.6,465.3 447.2,471.9 447.9,466.9 448.5,472.0 449.1,471.6 449.8,481.6 450.4,478.6 451.0,483.5 451.7,494.5 452.3,498.8 452.9,496.6 453.5,501.7 454.2,504.9 454.8,499.8 455.4,497.0 456.1,502.2 456.7,501.7 457.3,491.7 458.0,491.6 458.6,495.1 459.2,496.9 459.9,515.3 460.5,488.1 461.1,491.4 461.8,499.8 462.4,504.1 463.0,499.7 463.7,498.3 464.3,503.7 464.9,504.7 465.6,499.1 466.2,507.7 466.8,506.9 467.5,511.4 468.1,509.8 468.7,510.2 469.3,505.5 470.0,507.1 470.6,512.1 471.2,500.5 471.9,503.4 472.5,505.3 473.1,497.7 473.8,496.0 474.4,498.1 475.0,502.4 475.7,503.6 476.3,502.1 476.9,505.8 477.6,502.0 478.2,505.5 478.8,499.2 479.5,494.6 480.1,489.7 480.7,479.1 481.4,472.7 482.0,474.1 482.6,463.5 483.3,461.2 483.9,457.1 484.5,448.7 485.1,443.1 485.8,443.3 486.4,438.1 487.0,437.8 487.7,436.9 488.3,438.8 488.9,431.5 489.6,435.7 490.2,432.5 490.8,439.5 491.5,438.5 492.1,442.4 492.7,450.7 493.4,448.4 494.0,458.1 494.6,459.3 495.3,458.0 495.9,448.2 496.5,450.0 497.2,438.6 497.8,438.3 498.4,434.0 499.1,442.7 499.7,436.4 500.3,438.5 500.9,446.9 501.6,435.8 502.2,431.6 502.8,439.6 503.5,444.1 504.1,446.0 504.7,445.4 505.4,442.0 506.0,443.6 506.6,456.7 507.3,459.0 507.9,463.3 508.5,464.5 509.2,466.2 509.8,478.6 510.4,473.3 511.1,475.9 511.7,476.4 512.3,491.6 513.0,483.9 513.6,496.4 514.2,505.2 514.9,511.6 515.5,506.7" fill="none" stroke="#3a6ad0" stroke-width="1.3" stroke-linejoin="round"/>
<rect x="295.5" y="406.8" width="35.5" height="42" rx="1.5" fill="#fff" fill-opacity="0.85" stroke="#ddd" stroke-width="0.6"/>
<line x1="297.5" y1="411.0" x2="310.0" y2="411.0" stroke="#3a6ad0" stroke-width="1.1"/>
<text x="313.3" y="413.2" font-size="6.2" fill="#333" font-weight="normal" text-anchor="start" textLength="17" lengthAdjust="spacingAndGlyphs">rank_1</text>
<line x1="297.5" y1="419.1" x2="310.0" y2="419.1" stroke="#d8a81c" stroke-width="1.1"/>
<text x="313.3" y="421.3" font-size="6.2" fill="#333" font-weight="normal" text-anchor="start" textLength="17" lengthAdjust="spacingAndGlyphs">rank_2</text>
<line x1="297.5" y1="427.2" x2="310.0" y2="427.2" stroke="#3a9a3a" stroke-width="1.1"/>
<text x="313.3" y="429.4" font-size="6.2" fill="#333" font-weight="normal" text-anchor="start" textLength="17" lengthAdjust="spacingAndGlyphs">rank_3</text>
<line x1="297.5" y1="435.3" x2="310.0" y2="435.3" stroke="#c8502a" stroke-width="1.1"/>
<text x="313.3" y="437.5" font-size="6.2" fill="#333" font-weight="normal" text-anchor="start" textLength="17" lengthAdjust="spacingAndGlyphs">rank_4</text>
<line x1="297.5" y1="443.4" x2="310.0" y2="443.4" stroke="#9a70e0" stroke-width="1.1"/>
<text x="313.3" y="445.6" font-size="6.2" fill="#333" font-weight="normal" text-anchor="start" textLength="17" lengthAdjust="spacingAndGlyphs">rank_5</text>
<text transform="translate(20.6,530) rotate(-90)" font-size="16.2" font-weight="bold" fill="#000" textLength="113.4" lengthAdjust="spacingAndGlyphs">Predicted lDDT</text>
<text x="46.8" y="572.3" font-size="14.6" fill="#000" font-weight="bold" text-anchor="start" textLength="151" lengthAdjust="spacingAndGlyphs">Amino acid position</text>
<line x1="209" y1="566.3" x2="331" y2="566.3" stroke="#000" stroke-width="0.9"/>
<path d="M335,566.3 L327.5,563.6 L329,566.3 L327.5,569 Z" fill="#000"/>
<path d="M122.0,618.0 L121.7,618.9 L121.3,620.1 L120.9,621.6 L120.4,623.2 L120.1,624.7 L120.0,626.0 L120.1,627.1 L120.2,628.2 L120.5,629.2 L120.9,630.2 L121.4,631.1 L122.0,632.0 L122.8,632.8 L123.8,633.5 L124.9,634.1 L126.0,634.7 L127.1,635.4 L128.0,636.0 L128.9,636.7 L129.7,637.3 L130.5,638.0 L131.2,638.7 L131.7,639.3 L132.0,640.0 L132.1,640.7 L131.9,641.4 L131.6,642.1 L131.2,642.8 L130.6,643.4 L130.0,644.0 L129.3,644.5 L128.4,644.9 L127.4,645.2 L126.3,645.6 L125.2,645.8 L124.0,646.0 L122.8,646.1 L121.5,646.2 L120.1,646.2 L118.7,646.2 L117.4,646.1 L116.0,646.0 L114.6,645.8 L113.0,645.4 L111.5,645.0 L110.1,644.6 L108.9,644.2 L108.0,644.0" fill="none" stroke="#7c7c7c" stroke-width="2.8" stroke-linecap="round" stroke-linejoin="round"/>
<path d="M122.0,618.0 L121.7,618.9 L121.3,620.1 L120.9,621.6 L120.4,623.2 L120.1,624.7 L120.0,626.0 L120.1,627.1 L120.2,628.2 L120.5,629.2 L120.9,630.2 L121.4,631.1 L122.0,632.0 L122.8,632.8 L123.8,633.5 L124.9,634.1 L126.0,634.7 L127.1,635.4 L128.0,636.0 L128.9,636.7 L129.7,637.3 L130.5,638.0 L131.2,638.7 L131.7,639.3 L132.0,640.0 L132.1,640.7 L131.9,641.4 L131.6,642.1 L131.2,642.8 L130.6,643.4 L130.0,644.0 L129.3,644.5 L128.4,644.9 L127.4,645.2 L126.3,645.6 L125.2,645.8 L124.0,646.0 L122.8,646.1 L121.5,646.2 L120.1,646.2 L118.7,646.2 L117.4,646.1 L116.0,646.0 L114.6,645.8 L113.0,645.4 L111.5,645.0 L110.1,644.6 L108.9,644.2 L108.0,644.0" fill="none" stroke="#c4c4c4" stroke-width="1.54" stroke-linecap="round" stroke-linejoin="round"/>
<path d="M100.0,640.0 L99.7,641.1 L99.3,642.7 L98.9,644.6 L98.4,646.6 L98.1,648.4 L98.0,650.0 L98.1,651.2 L98.4,652.3 L98.8,653.2 L99.2,654.1 L99.6,655.0 L100.0,656.0 L100.4,657.0 L100.9,658.1 L101.4,659.2 L101.8,660.3 L102.0,661.2 L102.0,662.0 L101.7,662.6 L101.2,663.2 L100.5,663.6 L99.7,663.9 L98.9,664.1 L98.0,664.0 L97.1,663.7 L96.1,663.0 L95.0,662.2 L93.9,661.4 L92.9,660.6 L92.0,660.0 L91.2,659.5 L90.4,659.1 L89.6,658.8 L89.0,658.4 L88.4,658.2 L88.0,658.0" fill="none" stroke="#7c7c7c" stroke-width="2.8" stroke-linecap="round" stroke-linejoin="round"/>
<path d="M100.0,640.0 L99.7,641.1 L99.3,642.7 L98.9,644.6 L98.4,646.6 L98.1,648.4 L98.0,650.0 L98.1,651.2 L98.4,652.3 L98.8,653.2 L99.2,654.1 L99.6,655.0 L100.0,656.0 L100.4,657.0 L100.9,658.1 L101.4,659.2 L101.8,660.3 L102.0,661.2 L102.0,662.0 L101.7,662.6 L101.2,663.2 L100.5,663.6 L99.7,663.9 L98.9,664.1 L98.0,664.0 L97.1,663.7 L96.1,663.0 L95.0,662.2 L93.9,661.4 L92.9,660.6 L92.0,660.0 L91.2,659.5 L90.4,659.1 L89.6,658.8 L89.0,658.4 L88.4,658.2 L88.0,658.0" fill="none" stroke="#c4c4c4" stroke-width="1.54" stroke-linecap="round" stroke-linejoin="round"/>
<path d="M106.0,664.0 L105.7,664.9 L105.3,666.2 L104.8,667.8 L104.3,669.3 L104.0,670.8 L104.0,672.0 L104.3,673.0 L104.7,673.9 L105.4,674.6 L106.1,675.3 L107.0,675.7 L108.0,676.0 L109.1,676.1 L110.4,675.9 L111.9,675.6 L113.3,675.2 L114.7,674.6 L116.0,674.0 L117.2,673.3 L118.4,672.4 L119.5,671.4 L120.5,670.3 L121.4,669.2 L122.0,668.0 L122.4,666.7 L122.7,665.3 L122.8,663.8 L122.7,662.3 L122.4,661.0 L122.0,660.0 L121.3,659.3 L120.4,658.7 L119.4,658.4 L118.2,658.1 L117.1,658.0 L116.0,658.0 L114.9,658.1 L113.8,658.4 L112.6,658.9 L111.6,659.3 L110.7,659.7 L110.0,660.0" fill="none" stroke="#7c7c7c" stroke-width="2.8" stroke-linecap="round" stroke-linejoin="round"/>
<path d="M106.0,664.0 L105.7,664.9 L105.3,666.2 L104.8,667.8 L104.3,669.3 L104.0,670.8 L104.0,672.0 L104.3,673.0 L104.7,673.9 L105.4,674.6 L106.1,675.3 L107.0,675.7 L108.0,676.0 L109.1,676.1 L110.4,675.9 L111.9,675.6 L113.3,675.2 L114.7,674.6 L116.0,674.0 L117.2,673.3 L118.4,672.4 L119.5,671.4 L120.5,670.3 L121.4,669.2 L122.0,668.0 L122.4,666.7 L122.7,665.3 L122.8,663.8 L122.7,662.3 L122.4,661.0 L122.0,660.0 L121.3,659.3 L120.4,658.7 L119.4,658.4 L118.2,658.1 L117.1,658.0 L116.0,658.0 L114.9,658.1 L113.8,658.4 L112.6,658.9 L111.6,659.3 L110.7,659.7 L110.0,660.0" fill="none" stroke="#c4c4c4" stroke-width="1.54" stroke-linecap="round" stroke-linejoin="round"/>
<path d="M112.0,676.0 L112.9,676.5 L114.1,677.3 L115.5,678.1 L117.0,679.0 L118.6,679.6 L120.0,680.0 L121.4,680.0 L122.7,679.9 L124.1,679.5 L125.5,679.0 L126.8,678.5 L128.0,678.0 L129.1,677.4 L130.2,676.8 L131.2,676.1 L132.2,675.4 L133.1,674.7 L134.0,674.0 L134.8,673.3 L135.4,672.7 L136.0,672.0 L136.6,671.3 L137.2,670.7 L138.0,670.0 L139.0,669.3 L140.1,668.5 L141.2,667.8 L142.4,667.0 L143.3,666.4 L144.0,666.0" fill="none" stroke="#7c7c7c" stroke-width="2.8" stroke-linecap="round" stroke-linejoin="round"/>
<path d="M112.0,676.0 L112.9,676.5 L114.1,677.3 L115.5,678.1 L117.0,679.0 L118.6,679.6 L120.0,680.0 L121.4,680.0 L122.7,679.9 L124.1,679.5 L125.5,679.0 L126.8,678.5 L128.0,678.0 L129.1,677.4 L130.2,676.8 L131.2,676.1 L132.2,675.4 L133.1,674.7 L134.0,674.0 L134.8,673.3 L135.4,672.7 L136.0,672.0 L136.6,671.3 L137.2,670.7 L138.0,670.0 L139.0,669.3 L140.1,668.5 L141.2,667.8 L142.4,667.0 L143.3,666.4 L144.0,666.0" fill="none" stroke="#c4c4c4" stroke-width="1.54" stroke-linecap="round" stroke-linejoin="round"/>
<path d="M174.0,623.0 L174.9,622.9 L176.1,622.6 L177.5,622.4 L179.0,622.1 L180.6,622.0 L182.0,622.0 L183.4,622.1 L184.9,622.3 L186.4,622.6 L187.8,622.9 L189.0,623.4 L190.0,624.0 L190.8,624.8 L191.4,625.8 L191.9,626.9 L192.1,628.0 L192.2,629.1 L192.0,630.0 L191.5,630.9 L190.6,631.7 L189.5,632.5 L188.3,633.2 L187.1,633.7 L186.0,634.0 L184.9,634.0 L183.8,633.7 L182.6,633.2 L181.6,632.7 L180.7,632.3 L180.0,632.0" fill="none" stroke="#7c7c7c" stroke-width="2.8" stroke-linecap="round" stroke-linejoin="round"/>
<path d="M174.0,623.0 L174.9,622.9 L176.1,622.6 L177.5,622.4 L179.0,622.1 L180.6,622.0 L182.0,622.0 L183.4,622.1 L184.9,622.3 L186.4,622.6 L187.8,622.9 L189.0,623.4 L190.0,624.0 L190.8,624.8 L191.4,625.8 L191.9,626.9 L192.1,628.0 L192.2,629.1 L192.0,630.0 L191.5,630.9 L190.6,631.7 L189.5,632.5 L188.3,633.2 L187.1,633.7 L186.0,634.0 L184.9,634.0 L183.8,633.7 L182.6,633.2 L181.6,632.7 L180.7,632.3 L180.0,632.0" fill="none" stroke="#c4c4c4" stroke-width="1.54" stroke-linecap="round" stroke-linejoin="round"/>
<path d="M210.0,636.0 L211.1,636.4 L212.7,637.0 L214.6,637.6 L216.6,638.4 L218.4,639.2 L220.0,640.0 L221.3,640.9 L222.4,641.8 L223.4,642.8 L224.3,643.8 L225.2,644.9 L226.0,646.0 L226.8,647.2 L227.6,648.6 L228.2,650.0 L228.9,651.4 L229.5,652.8 L230.0,654.0 L230.4,655.1 L230.8,656.1 L231.1,657.0 L231.4,657.9 L231.7,658.9 L232.0,660.0 L232.4,661.2 L232.8,662.5 L233.2,663.9 L233.6,665.3 L233.9,666.6 L234.0,668.0 L233.9,669.4 L233.6,671.0 L233.1,672.5 L232.7,673.9 L232.3,675.1 L232.0,676.0" fill="none" stroke="#7c7c7c" stroke-width="2.8" stroke-linecap="round" stroke-linejoin="round"/>
<path d="M210.0,636.0 L211.1,636.4 L212.7,637.0 L214.6,637.6 L216.6,638.4 L218.4,639.2 L220.0,640.0 L221.3,640.9 L222.4,641.8 L223.4,642.8 L224.3,643.8 L225.2,644.9 L226.0,646.0 L226.8,647.2 L227.6,648.6 L228.2,650.0 L228.9,651.4 L229.5,652.8 L230.0,654.0 L230.4,655.1 L230.8,656.1 L231.1,657.0 L231.4,657.9 L231.7,658.9 L232.0,660.0 L232.4,661.2 L232.8,662.5 L233.2,663.9 L233.6,665.3 L233.9,666.6 L234.0,668.0 L233.9,669.4 L233.6,671.0 L233.1,672.5 L232.7,673.9 L232.3,675.1 L232.0,676.0" fill="none" stroke="#c4c4c4" stroke-width="1.54" stroke-linecap="round" stroke-linejoin="round"/>
<path d="M196.0,660.0 L197.1,660.2 L198.7,660.4 L200.6,660.8 L202.6,661.1 L204.4,661.5 L206.0,662.0 L207.3,662.5 L208.4,663.1 L209.5,663.8 L210.4,664.4 L211.3,665.2 L212.0,666.0 L212.6,666.9 L213.2,667.9 L213.6,669.0 L213.9,670.1 L214.1,671.1 L214.0,672.0 L213.6,672.8 L213.0,673.6 L212.1,674.4 L211.3,675.0 L210.5,675.6 L210.0,676.0" fill="none" stroke="#7c7c7c" stroke-width="2.8" stroke-linecap="round" stroke-linejoin="round"/>
<path d="M196.0,660.0 L197.1,660.2 L198.7,660.4 L200.6,660.8 L202.6,661.1 L204.4,661.5 L206.0,662.0 L207.3,662.5 L208.4,663.1 L209.5,663.8 L210.4,664.4 L211.3,665.2 L212.0,666.0 L212.6,666.9 L213.2,667.9 L213.6,669.0 L213.9,670.1 L214.1,671.1 L214.0,672.0 L213.6,672.8 L213.0,673.6 L212.1,674.4 L211.3,675.0 L210.5,675.6 L210.0,676.0" fill="none" stroke="#c4c4c4" stroke-width="1.54" stroke-linecap="round" stroke-linejoin="round"/>
<path d="M130.0,664.0 L131.1,663.5 L132.6,662.7 L134.4,661.9 L136.3,661.0 L138.2,660.4 L140.0,660.0 L141.7,659.9 L143.5,660.1 L145.2,660.4 L147.0,660.8 L148.6,661.4 L150.0,662.0 L151.3,662.7 L152.4,663.6 L153.4,664.6 L154.3,665.7 L155.2,666.8 L156.0,668.0 L156.9,669.2 L157.8,670.6 L158.6,672.0 L159.3,673.4 L159.8,674.8 L160.0,676.0 L159.8,677.2 L159.1,678.4 L158.2,679.5 L157.3,680.5 L156.5,681.4 L156.0,682.0" fill="none" stroke="#7c7c7c" stroke-width="2.8" stroke-linecap="round" stroke-linejoin="round"/>
<path d="M130.0,664.0 L131.1,663.5 L132.6,662.7 L134.4,661.9 L136.3,661.0 L138.2,660.4 L140.0,660.0 L141.7,659.9 L143.5,660.1 L145.2,660.4 L147.0,660.8 L148.6,661.4 L150.0,662.0 L151.3,662.7 L152.4,663.6 L153.4,664.6 L154.3,665.7 L155.2,666.8 L156.0,668.0 L156.9,669.2 L157.8,670.6 L158.6,672.0 L159.3,673.4 L159.8,674.8 L160.0,676.0 L159.8,677.2 L159.1,678.4 L158.2,679.5 L157.3,680.5 L156.5,681.4 L156.0,682.0" fill="none" stroke="#c4c4c4" stroke-width="1.54" stroke-linecap="round" stroke-linejoin="round"/>
<path d="M64.0,717.0 L64.5,717.8 L65.3,718.9 L66.1,720.1 L67.0,721.5 L67.6,722.8 L68.0,724.0 L68.1,725.1 L67.9,726.2 L67.6,727.3 L67.2,728.3 L66.6,729.2 L66.0,730.0 L65.1,730.6 L63.8,731.1 L62.4,731.4 L61.1,731.7 L60.2,731.9 L60.0,732.0 L60.4,732.0 L61.3,731.9 L62.6,731.7 L64.2,731.4 L66.0,731.2 L68.0,731.0 L70.3,730.8 L73.0,730.7 L76.0,730.5 L79.0,730.3 L81.7,730.2 L84.0,730.0 L85.9,729.8 L87.6,729.6 L89.0,729.4 L90.2,729.3 L91.2,729.1 L92.0,729.0" fill="none" stroke="#7c7c7c" stroke-width="2.8" stroke-linecap="round" stroke-linejoin="round"/>
<path d="M64.0,717.0 L64.5,717.8 L65.3,718.9 L66.1,720.1 L67.0,721.5 L67.6,722.8 L68.0,724.0 L68.1,725.1 L67.9,726.2 L67.6,727.3 L67.2,728.3 L66.6,729.2 L66.0,730.0 L65.1,730.6 L63.8,731.1 L62.4,731.4 L61.1,731.7 L60.2,731.9 L60.0,732.0 L60.4,732.0 L61.3,731.9 L62.6,731.7 L64.2,731.4 L66.0,731.2 L68.0,731.0 L70.3,730.8 L73.0,730.7 L76.0,730.5 L79.0,730.3 L81.7,730.2 L84.0,730.0 L85.9,729.8 L87.6,729.6 L89.0,729.4 L90.2,729.3 L91.2,729.1 L92.0,729.0" fill="none" stroke="#c4c4c4" stroke-width="1.54" stroke-linecap="round" stroke-linejoin="round"/>
<path d="M116.0,732.0 L116.5,732.8 L117.3,733.9 L118.1,735.2 L119.1,736.6 L120.1,737.9 L121.0,739.0 L122.1,739.8 L123.3,740.4 L124.6,741.0 L125.7,741.6 L126.6,742.2 L127.0,743.0 L126.9,744.0 L126.4,745.2 L125.6,746.5 L124.7,747.8 L123.8,749.0 L123.0,750.0 L122.2,750.8 L121.4,751.5 L120.5,752.1 L119.7,752.7 L119.2,753.3 L119.0,754.0 L119.2,754.8 L119.9,755.8 L120.8,756.8 L121.7,757.7 L122.5,758.4 L123.0,759.0" fill="none" stroke="#7c7c7c" stroke-width="2.8" stroke-linecap="round" stroke-linejoin="round"/>
<path d="M116.0,732.0 L116.5,732.8 L117.3,733.9 L118.1,735.2 L119.1,736.6 L120.1,737.9 L121.0,739.0 L122.1,739.8 L123.3,740.4 L124.6,741.0 L125.7,741.6 L126.6,742.2 L127.0,743.0 L126.9,744.0 L126.4,745.2 L125.6,746.5 L124.7,747.8 L123.8,749.0 L123.0,750.0 L122.2,750.8 L121.4,751.5 L120.5,752.1 L119.7,752.7 L119.2,753.3 L119.0,754.0 L119.2,754.8 L119.9,755.8 L120.8,756.8 L121.7,757.7 L122.5,758.4 L123.0,759.0" fill="none" stroke="#c4c4c4" stroke-width="1.54" stroke-linecap="round" stroke-linejoin="round"/>
<path d="M105.0,778.0 L105.5,778.6 L106.1,779.6 L106.9,780.7 L107.9,781.7 L108.9,782.6 L110.0,783.0 L111.4,782.9 L113.0,782.5 L114.8,781.8 L116.5,781.1 L118.0,780.4 L119.0,780.0" fill="none" stroke="#7c7c7c" stroke-width="2.8" stroke-linecap="round" stroke-linejoin="round"/>
<path d="M105.0,778.0 L105.5,778.6 L106.1,779.6 L106.9,780.7 L107.9,781.7 L108.9,782.6 L110.0,783.0 L111.4,782.9 L113.0,782.5 L114.8,781.8 L116.5,781.1 L118.0,780.4 L119.0,780.0" fill="none" stroke="#c4c4c4" stroke-width="1.54" stroke-linecap="round" stroke-linejoin="round"/>
<path d="M149.0,774.0 L149.8,775.1 L151.1,776.7 L152.5,778.5 L153.9,780.3 L155.2,781.9 L156.0,783.0" fill="none" stroke="#7c7c7c" stroke-width="2.8" stroke-linecap="round" stroke-linejoin="round"/>
<path d="M149.0,774.0 L149.8,775.1 L151.1,776.7 L152.5,778.5 L153.9,780.3 L155.2,781.9 L156.0,783.0" fill="none" stroke="#c4c4c4" stroke-width="1.54" stroke-linecap="round" stroke-linejoin="round"/>
<path d="M173.0,724.0 L172.4,723.6 L171.6,722.9 L170.6,722.2 L169.6,721.5 L168.7,721.1 L168.0,721.0 L167.4,721.4 L167.0,722.1 L166.6,723.1 L166.3,724.1 L166.1,725.1 L166.0,726.0 L166.1,726.7 L166.3,727.5 L166.6,728.2 L167.0,728.9 L167.4,729.5 L168.0,730.0 L168.7,730.5 L169.6,730.9 L170.6,731.2 L171.6,731.6 L172.4,731.8 L173.0,732.0" fill="none" stroke="#7c7c7c" stroke-width="2.8" stroke-linecap="round" stroke-linejoin="round"/>
<path d="M173.0,724.0 L172.4,723.6 L171.6,722.9 L170.6,722.2 L169.6,721.5 L168.7,721.1 L168.0,721.0 L167.4,721.4 L167.0,722.1 L166.6,723.1 L166.3,724.1 L166.1,725.1 L166.0,726.0 L166.1,726.7 L166.3,727.5 L166.6,728.2 L167.0,728.9 L167.4,729.5 L168.0,730.0 L168.7,730.5 L169.6,730.9 L170.6,731.2 L171.6,731.6 L172.4,731.8 L173.0,732.0" fill="none" stroke="#c4c4c4" stroke-width="1.54" stroke-linecap="round" stroke-linejoin="round"/>
<path d="M201.0,737.0 L201.4,736.4 L202.1,735.6 L202.8,734.6 L203.6,733.6 L204.3,732.7 L205.0,732.0 L205.6,731.5 L206.2,731.0 L206.8,730.7 L207.3,730.4 L207.7,730.2 L208.0,730.0" fill="none" stroke="#7c7c7c" stroke-width="2.8" stroke-linecap="round" stroke-linejoin="round"/>
<path d="M201.0,737.0 L201.4,736.4 L202.1,735.6 L202.8,734.6 L203.6,733.6 L204.3,732.7 L205.0,732.0 L205.6,731.5 L206.2,731.0 L206.8,730.7 L207.3,730.4 L207.7,730.2 L208.0,730.0" fill="none" stroke="#c4c4c4" stroke-width="1.54" stroke-linecap="round" stroke-linejoin="round"/>
<path d="M203.0,741.0 L203.6,741.8 L204.6,742.9 L205.7,744.1 L206.7,745.5 L207.6,746.8 L208.0,748.0 L208.0,749.1 L207.7,750.2 L207.2,751.3 L206.5,752.3 L205.8,753.2 L205.0,754.0 L204.1,754.5 L203.1,754.8 L201.9,754.9 L200.8,755.1 L199.8,755.4 L199.0,756.0 L198.4,756.9 L197.9,758.0 L197.5,759.2 L197.2,760.6 L197.1,761.8 L197.0,763.0 L197.1,764.0 L197.5,765.0 L198.0,766.0 L198.5,767.0 L198.9,768.0 L199.0,769.0 L198.9,770.2 L198.6,771.5 L198.1,772.9 L197.7,774.1 L197.3,775.2 L197.0,776.0" fill="none" stroke="#7c7c7c" stroke-width="2.8" stroke-linecap="round" stroke-linejoin="round"/>
<path d="M203.0,741.0 L203.6,741.8 L204.6,742.9 L205.7,744.1 L206.7,745.5 L207.6,746.8 L208.0,748.0 L208.0,749.1 L207.7,750.2 L207.2,751.3 L206.5,752.3 L205.8,753.2 L205.0,754.0 L204.1,754.5 L203.1,754.8 L201.9,754.9 L200.8,755.1 L199.8,755.4 L199.0,756.0 L198.4,756.9 L197.9,758.0 L197.5,759.2 L197.2,760.6 L197.1,761.8 L197.0,763.0 L197.1,764.0 L197.5,765.0 L198.0,766.0 L198.5,767.0 L198.9,768.0 L199.0,769.0 L198.9,770.2 L198.6,771.5 L198.1,772.9 L197.7,774.1 L197.3,775.2 L197.0,776.0" fill="none" stroke="#c4c4c4" stroke-width="1.54" stroke-linecap="round" stroke-linejoin="round"/>
<path d="M173.0,776.0 L172.7,776.8 L172.3,777.9 L171.8,779.2 L171.3,780.6 L171.0,781.9 L171.0,783.0 L171.3,783.8 L171.9,784.6 L172.6,785.2 L173.4,785.8 L174.3,786.4 L175.0,787.0 L175.6,787.7 L176.2,788.4 L176.8,789.1 L177.4,789.8 L178.2,790.4 L179.0,791.0 L180.1,791.5 L181.4,791.9 L182.8,792.2 L184.1,792.6 L185.2,792.8 L186.0,793.0" fill="none" stroke="#7c7c7c" stroke-width="2.8" stroke-linecap="round" stroke-linejoin="round"/>
<path d="M173.0,776.0 L172.7,776.8 L172.3,777.9 L171.8,779.2 L171.3,780.6 L171.0,781.9 L171.0,783.0 L171.3,783.8 L171.9,784.6 L172.6,785.2 L173.4,785.8 L174.3,786.4 L175.0,787.0 L175.6,787.7 L176.2,788.4 L176.8,789.1 L177.4,789.8 L178.2,790.4 L179.0,791.0 L180.1,791.5 L181.4,791.9 L182.8,792.2 L184.1,792.6 L185.2,792.8 L186.0,793.0" fill="none" stroke="#c4c4c4" stroke-width="1.54" stroke-linecap="round" stroke-linejoin="round"/>
<path d="M203.0,691.0 L203.3,692.0 L203.7,693.5 L204.2,695.2 L204.7,697.0 L205.0,698.7 L205.0,700.0 L204.7,701.0 L204.2,701.9 L203.5,702.6 L202.7,703.1 L201.9,703.6 L201.0,704.0 L200.1,704.3 L199.1,704.4 L198.1,704.4 L197.0,704.3 L196.0,704.2 L195.0,704.0 L194.1,703.8 L193.1,703.4 L192.1,703.0 L191.3,702.6 L190.5,702.2 L190.0,702.0" fill="none" stroke="#7c7c7c" stroke-width="2.8" stroke-linecap="round" stroke-linejoin="round"/>
<path d="M203.0,691.0 L203.3,692.0 L203.7,693.5 L204.2,695.2 L204.7,697.0 L205.0,698.7 L205.0,700.0 L204.7,701.0 L204.2,701.9 L203.5,702.6 L202.7,703.1 L201.9,703.6 L201.0,704.0 L200.1,704.3 L199.1,704.4 L198.1,704.4 L197.0,704.3 L196.0,704.2 L195.0,704.0 L194.1,703.8 L193.1,703.4 L192.1,703.0 L191.3,702.6 L190.5,702.2 L190.0,702.0" fill="none" stroke="#c4c4c4" stroke-width="1.54" stroke-linecap="round" stroke-linejoin="round"/>
<path d="M140.0,702.0 L141.2,702.2 L142.9,702.5 L144.8,702.9 L146.9,703.3 L149.0,703.6 L151.0,704.0 L152.8,704.4 L154.7,704.7 L156.5,705.1 L158.3,705.5 L160.2,705.8 L162.0,706.0 L164.0,706.1 L166.1,706.1 L168.2,706.1 L170.1,706.1 L171.8,706.0 L173.0,706.0" fill="none" stroke="#7c7c7c" stroke-width="2.8" stroke-linecap="round" stroke-linejoin="round"/>
<path d="M140.0,702.0 L141.2,702.2 L142.9,702.5 L144.8,702.9 L146.9,703.3 L149.0,703.6 L151.0,704.0 L152.8,704.4 L154.7,704.7 L156.5,705.1 L158.3,705.5 L160.2,705.8 L162.0,706.0 L164.0,706.1 L166.1,706.1 L168.2,706.1 L170.1,706.1 L171.8,706.0 L173.0,706.0" fill="none" stroke="#c4c4c4" stroke-width="1.54" stroke-linecap="round" stroke-linejoin="round"/>
<path d="M140.0,690.0 L140.7,689.3 L141.6,688.4 L142.8,687.4 L143.9,686.2 L145.0,685.1 L146.0,684.0 L146.7,683.0 L147.3,682.0 L147.9,681.0 L148.4,680.0 L149.1,679.0 L150.0,678.0 L151.1,677.0 L152.4,675.9 L153.8,674.9 L155.2,673.9 L156.6,672.9 L158.0,672.0 L159.3,671.2 L160.6,670.5 L161.9,669.9 L163.2,669.3 L164.6,668.6 L166.0,668.0 L167.6,667.3 L169.2,666.7 L170.9,666.0 L172.6,665.3 L174.3,664.7 L176.0,664.0 L177.7,663.3 L179.3,662.7 L181.0,662.0 L182.7,661.3 L184.3,660.7 L186.0,660.0 L187.8,659.3 L189.7,658.5 L191.6,657.8 L193.4,657.0 L194.9,656.4 L196.0,656.0" fill="none" stroke="#7c7c7c" stroke-width="2.8" stroke-linecap="round" stroke-linejoin="round"/>
<path d="M140.0,690.0 L140.7,689.3 L141.6,688.4 L142.8,687.4 L143.9,686.2 L145.0,685.1 L146.0,684.0 L146.7,683.0 L147.3,682.0 L147.9,681.0 L148.4,680.0 L149.1,679.0 L150.0,678.0 L151.1,677.0 L152.4,675.9 L153.8,674.9 L155.2,673.9 L156.6,672.9 L158.0,672.0 L159.3,671.2 L160.6,670.5 L161.9,669.9 L163.2,669.3 L164.6,668.6 L166.0,668.0 L167.6,667.3 L169.2,666.7 L170.9,666.0 L172.6,665.3 L174.3,664.7 L176.0,664.0 L177.7,663.3 L179.3,662.7 L181.0,662.0 L182.7,661.3 L184.3,660.7 L186.0,660.0 L187.8,659.3 L189.7,658.5 L191.6,657.8 L193.4,657.0 L194.9,656.4 L196.0,656.0" fill="none" stroke="#c4c4c4" stroke-width="1.54" stroke-linecap="round" stroke-linejoin="round"/>
<path d="M176.0,650.0 L176.9,650.5 L178.1,651.3 L179.5,652.2 L181.0,653.1 L182.6,653.8 L184.0,654.0 L185.4,653.8 L186.7,653.3 L188.1,652.6 L189.5,651.8 L190.8,650.9 L192.0,650.0 L193.1,649.0 L194.2,647.6 L195.2,646.2 L196.2,645.0 L197.1,644.2 L198.0,644.0 L198.8,644.6 L199.5,645.8 L200.1,647.4 L200.7,649.1 L201.4,650.7 L202.0,652.0 L202.7,652.9 L203.5,653.8 L204.2,654.5 L205.0,655.1 L205.6,655.6 L206.0,656.0" fill="none" stroke="#7c7c7c" stroke-width="2.8" stroke-linecap="round" stroke-linejoin="round"/>
<path d="M176.0,650.0 L176.9,650.5 L178.1,651.3 L179.5,652.2 L181.0,653.1 L182.6,653.8 L184.0,654.0 L185.4,653.8 L186.7,653.3 L188.1,652.6 L189.5,651.8 L190.8,650.9 L192.0,650.0 L193.1,649.0 L194.2,647.6 L195.2,646.2 L196.2,645.0 L197.1,644.2 L198.0,644.0 L198.8,644.6 L199.5,645.8 L200.1,647.4 L200.7,649.1 L201.4,650.7 L202.0,652.0 L202.7,652.9 L203.5,653.8 L204.2,654.5 L205.0,655.1 L205.6,655.6 L206.0,656.0" fill="none" stroke="#c4c4c4" stroke-width="1.54" stroke-linecap="round" stroke-linejoin="round"/>
<path d="M150.0,700.0 L150.9,699.5 L152.1,698.9 L153.5,698.1 L155.0,697.3 L156.6,696.6 L158.0,696.0 L159.4,695.5 L161.0,695.1 L162.5,694.8 L163.9,694.4 L165.1,694.2 L166.0,694.0" fill="none" stroke="#7c7c7c" stroke-width="2.8" stroke-linecap="round" stroke-linejoin="round"/>
<path d="M150.0,700.0 L150.9,699.5 L152.1,698.9 L153.5,698.1 L155.0,697.3 L156.6,696.6 L158.0,696.0 L159.4,695.5 L161.0,695.1 L162.5,694.8 L163.9,694.4 L165.1,694.2 L166.0,694.0" fill="none" stroke="#c4c4c4" stroke-width="1.54" stroke-linecap="round" stroke-linejoin="round"/>
<path d="M214.0,690.0 L214.7,690.9 L215.6,692.1 L216.6,693.5 L217.8,695.0 L218.9,696.6 L220.0,698.0 L221.0,699.3 L222.1,700.6 L223.1,701.9 L224.1,703.2 L225.1,704.6 L226.0,706.0 L226.9,707.6 L227.8,709.2 L228.6,710.9 L229.3,712.6 L229.8,714.3 L230.0,716.0 L229.8,717.8 L229.1,719.7 L228.2,721.6 L227.3,723.4 L226.5,724.9 L226.0,726.0" fill="none" stroke="#7c7c7c" stroke-width="2.8" stroke-linecap="round" stroke-linejoin="round"/>
<path d="M214.0,690.0 L214.7,690.9 L215.6,692.1 L216.6,693.5 L217.8,695.0 L218.9,696.6 L220.0,698.0 L221.0,699.3 L222.1,700.6 L223.1,701.9 L224.1,703.2 L225.1,704.6 L226.0,706.0 L226.9,707.6 L227.8,709.2 L228.6,710.9 L229.3,712.6 L229.8,714.3 L230.0,716.0 L229.8,717.8 L229.1,719.7 L228.2,721.6 L227.3,723.4 L226.5,724.9 L226.0,726.0" fill="none" stroke="#c4c4c4" stroke-width="1.54" stroke-linecap="round" stroke-linejoin="round"/>
<path d="M178.0,690.0 L178.9,689.2 L180.1,688.1 L181.5,686.8 L183.0,685.5 L184.6,684.5 L186.0,684.0 L187.4,684.1 L188.7,684.5 L190.1,685.2 L191.5,686.1 L192.8,687.1 L194.0,688.0 L195.2,689.0 L196.4,690.1 L197.5,691.2 L198.5,692.4 L199.4,693.3 L200.0,694.0" fill="none" stroke="#7c7c7c" stroke-width="2.8" stroke-linecap="round" stroke-linejoin="round"/>
<path d="M178.0,690.0 L178.9,689.2 L180.1,688.1 L181.5,686.8 L183.0,685.5 L184.6,684.5 L186.0,684.0 L187.4,684.1 L188.7,684.5 L190.1,685.2 L191.5,686.1 L192.8,687.1 L194.0,688.0 L195.2,689.0 L196.4,690.1 L197.5,691.2 L198.5,692.4 L199.4,693.3 L200.0,694.0" fill="none" stroke="#c4c4c4" stroke-width="1.54" stroke-linecap="round" stroke-linejoin="round"/>
<path d="M132.0,690.0 L132.6,690.7 L133.5,691.7 L134.5,692.9 L135.6,694.1 L136.8,695.2 L138.0,696.0 L139.3,696.6 L140.8,697.0 L142.4,697.4 L143.9,697.6 L145.1,697.8 L146.0,698.0" fill="none" stroke="#7c7c7c" stroke-width="2.8" stroke-linecap="round" stroke-linejoin="round"/>
<path d="M132.0,690.0 L132.6,690.7 L133.5,691.7 L134.5,692.9 L135.6,694.1 L136.8,695.2 L138.0,696.0 L139.3,696.6 L140.8,697.0 L142.4,697.4 L143.9,697.6 L145.1,697.8 L146.0,698.0" fill="none" stroke="#c4c4c4" stroke-width="1.54" stroke-linecap="round" stroke-linejoin="round"/>
<path d="M108.0,690.0 L108.9,690.5 L110.1,691.1 L111.5,691.9 L113.0,692.7 L114.6,693.4 L116.0,694.0 L117.4,694.5 L118.8,695.1 L120.2,695.6 L121.6,696.0 L122.9,696.2 L124.0,696.0 L124.9,695.4 L125.8,694.4 L126.5,693.1 L127.1,691.9 L127.6,690.7 L128.0,690.0" fill="none" stroke="#7c7c7c" stroke-width="2.8" stroke-linecap="round" stroke-linejoin="round"/>
<path d="M108.0,690.0 L108.9,690.5 L110.1,691.1 L111.5,691.9 L113.0,692.7 L114.6,693.4 L116.0,694.0 L117.4,694.5 L118.8,695.1 L120.2,695.6 L121.6,696.0 L122.9,696.2 L124.0,696.0 L124.9,695.4 L125.8,694.4 L126.5,693.1 L127.1,691.9 L127.6,690.7 L128.0,690.0" fill="none" stroke="#c4c4c4" stroke-width="1.54" stroke-linecap="round" stroke-linejoin="round"/>
<path d="M212.0,720.0 L212.8,721.1 L213.9,722.6 L215.2,724.4 L216.5,726.3 L217.5,728.2 L218.0,730.0 L217.9,731.7 L217.4,733.4 L216.6,735.1 L215.7,736.8 L214.8,738.4 L214.0,740.0 L213.3,741.5 L212.5,743.1 L211.8,744.6 L211.0,746.0 L210.4,747.2 L210.0,748.0" fill="none" stroke="#7c7c7c" stroke-width="2.8" stroke-linecap="round" stroke-linejoin="round"/>
<path d="M212.0,720.0 L212.8,721.1 L213.9,722.6 L215.2,724.4 L216.5,726.3 L217.5,728.2 L218.0,730.0 L217.9,731.7 L217.4,733.4 L216.6,735.1 L215.7,736.8 L214.8,738.4 L214.0,740.0 L213.3,741.5 L212.5,743.1 L211.8,744.6 L211.0,746.0 L210.4,747.2 L210.0,748.0" fill="none" stroke="#c4c4c4" stroke-width="1.54" stroke-linecap="round" stroke-linejoin="round"/>
<path d="M88.0,700.0 L88.7,700.9 L89.6,702.2 L90.6,703.8 L91.8,705.3 L92.9,706.8 L94.0,708.0 L95.1,708.9 L96.2,709.8 L97.4,710.5 L98.4,711.1 L99.3,711.6 L100.0,712.0" fill="none" stroke="#7c7c7c" stroke-width="2.8" stroke-linecap="round" stroke-linejoin="round"/>
<path d="M88.0,700.0 L88.7,700.9 L89.6,702.2 L90.6,703.8 L91.8,705.3 L92.9,706.8 L94.0,708.0 L95.1,708.9 L96.2,709.8 L97.4,710.5 L98.4,711.1 L99.3,711.6 L100.0,712.0" fill="none" stroke="#c4c4c4" stroke-width="1.54" stroke-linecap="round" stroke-linejoin="round"/>
<path d="M134.1,688.0 L133.9,685.6 L132.6,683.6 L130.5,682.4 L128.3,681.5 L125.9,681.1 L123.5,681.4 L121.4,682.5 L119.6,684.2 L117.3,684.7 L115.0,685.4 L112.8,686.5 L110.6,687.3 L108.2,687.7 L105.9,688.5 L105.3,690.8 L105.9,693.1 L106.8,695.4 L106.7,697.8 L107.4,700.1 L107.2,702.5 L107.8,704.8 L109.3,706.6 L109.7,709.0 L111.5,710.6 L112.8,712.6 L112.9,715.0 L114.1,717.1 L115.8,718.8 L117.9,719.9 L119.7,721.5 L121.5,723.1 L123.6,724.3 L125.0,726.3 L127.2,727.3 L129.6,727.5 L131.9,728.0 L134.2,727.4 L136.0,725.7 L137.7,724.0 L139.9,723.1 L142.3,723.4 L144.5,724.3 L146.6,725.5 L149.0,725.5 L151.1,724.4 L152.5,722.4 L152.8,720.1 L152.0,717.8 L150.2,716.3 L148.9,714.2 L147.5,712.3 L146.8,710.0 L146.9,707.6 L145.8,705.4 L145.0,703.2 L143.4,701.4 L141.3,700.2 L140.1,698.1 L140.0,695.7 L140.0,693.3 L140.3,690.9 L139.4,688.7 L137.6,687.1 L135.3,686.4 L133.1,685.5 L131.6,683.6 L131.1,681.3 L131.1,678.9 L131.7,676.5 L131.0,674.2" fill="none" stroke="#7c7c7c" stroke-width="3.0" stroke-linecap="round" stroke-linejoin="round"/>
<path d="M134.1,688.0 L133.9,685.6 L132.6,683.6 L130.5,682.4 L128.3,681.5 L125.9,681.1 L123.5,681.4 L121.4,682.5 L119.6,684.2 L117.3,684.7 L115.0,685.4 L112.8,686.5 L110.6,687.3 L108.2,687.7 L105.9,688.5 L105.3,690.8 L105.9,693.1 L106.8,695.4 L106.7,697.8 L107.4,700.1 L107.2,702.5 L107.8,704.8 L109.3,706.6 L109.7,709.0 L111.5,710.6 L112.8,712.6 L112.9,715.0 L114.1,717.1 L115.8,718.8 L117.9,719.9 L119.7,721.5 L121.5,723.1 L123.6,724.3 L125.0,726.3 L127.2,727.3 L129.6,727.5 L131.9,728.0 L134.2,727.4 L136.0,725.7 L137.7,724.0 L139.9,723.1 L142.3,723.4 L144.5,724.3 L146.6,725.5 L149.0,725.5 L151.1,724.4 L152.5,722.4 L152.8,720.1 L152.0,717.8 L150.2,716.3 L148.9,714.2 L147.5,712.3 L146.8,710.0 L146.9,707.6 L145.8,705.4 L145.0,703.2 L143.4,701.4 L141.3,700.2 L140.1,698.1 L140.0,695.7 L140.0,693.3 L140.3,690.9 L139.4,688.7 L137.6,687.1 L135.3,686.4 L133.1,685.5 L131.6,683.6 L131.1,681.3 L131.1,678.9 L131.7,676.5 L131.0,674.2" fill="none" stroke="#c4c4c4" stroke-width="1.65" stroke-linecap="round" stroke-linejoin="round"/>
<path d="M172.8,650.8 L175.2,651.4 L177.4,652.3 L179.7,653.1 L182.1,653.2 L184.4,652.9 L186.8,653.0 L189.2,653.3 L191.6,653.1 L194.0,652.8 L196.3,652.3 L198.7,651.9 L201.1,651.9 L203.4,652.5 L204.7,654.6 L205.1,657.0 L204.7,659.3 L203.9,661.6 L204.3,664.0 L203.7,666.3 L202.5,668.4 L201.2,670.4 L199.3,671.9 L197.0,672.4 L194.8,673.2 L193.2,675.1 L192.7,677.4 L193.5,679.7 L192.3,681.8 L190.6,683.5 L188.3,684.2 L186.2,685.5 L184.5,687.1 L182.3,688.1 L179.9,688.3 L177.7,689.2 L175.3,689.0 L172.9,689.2 L170.6,689.9 L168.2,689.7 L165.9,688.9 L163.6,688.4 L161.2,687.9 L159.0,687.0 L157.2,685.5 L155.2,684.1 L152.8,683.7 L150.6,684.6 L148.6,683.3 L147.1,681.4 L145.1,680.1 L143.1,678.8 L142.0,676.6 L141.5,674.3 L140.3,672.2 L138.6,670.5 L138.1,668.1 L137.2,665.9 L136.2,663.7 L136.0,661.3 L136.8,659.1" fill="none" stroke="#7c7c7c" stroke-width="3.0" stroke-linecap="round" stroke-linejoin="round"/>
<path d="M172.8,650.8 L175.2,651.4 L177.4,652.3 L179.7,653.1 L182.1,653.2 L184.4,652.9 L186.8,653.0 L189.2,653.3 L191.6,653.1 L194.0,652.8 L196.3,652.3 L198.7,651.9 L201.1,651.9 L203.4,652.5 L204.7,654.6 L205.1,657.0 L204.7,659.3 L203.9,661.6 L204.3,664.0 L203.7,666.3 L202.5,668.4 L201.2,670.4 L199.3,671.9 L197.0,672.4 L194.8,673.2 L193.2,675.1 L192.7,677.4 L193.5,679.7 L192.3,681.8 L190.6,683.5 L188.3,684.2 L186.2,685.5 L184.5,687.1 L182.3,688.1 L179.9,688.3 L177.7,689.2 L175.3,689.0 L172.9,689.2 L170.6,689.9 L168.2,689.7 L165.9,688.9 L163.6,688.4 L161.2,687.9 L159.0,687.0 L157.2,685.5 L155.2,684.1 L152.8,683.7 L150.6,684.6 L148.6,683.3 L147.1,681.4 L145.1,680.1 L143.1,678.8 L142.0,676.6 L141.5,674.3 L140.3,672.2 L138.6,670.5 L138.1,668.1 L137.2,665.9 L136.2,663.7 L136.0,661.3 L136.8,659.1" fill="none" stroke="#c4c4c4" stroke-width="1.65" stroke-linecap="round" stroke-linejoin="round"/>
<path d="M109.4,704.1 L110.9,706.0 L113.1,707.0 L115.5,706.8 L117.9,706.6 L120.2,706.0 L122.4,705.1 L124.0,703.3 L124.4,700.9 L123.7,698.6 L121.9,697.0 L119.6,696.3 L117.3,696.8 L115.3,698.2 L113.4,699.7 L111.4,700.9 L110.1,703.0 L110.0,705.4 L111.1,707.5 L113.0,708.9 L115.4,709.4 L117.7,708.6 L119.4,706.9 L120.0,704.6 L119.5,702.3 L118.0,700.5 L115.7,699.6 L113.4,699.0 L111.2,698.0 L109.0,697.2 L106.6,697.6 L104.6,698.9 L103.5,701.0 L103.5,703.4 L103.2,705.8 L102.2,708.0 L100.3,709.4 L98.5,711.1 L97.6,713.3 L97.9,715.7 L98.6,718.0 L100.4,719.6 L102.4,720.9 L103.5,723.0 L104.9,725.0 L107.0,726.2 L109.4,726.2 L111.8,726.4 L114.2,726.2 L116.2,724.9 L117.4,722.8" fill="none" stroke="#7c7c7c" stroke-width="3.0" stroke-linecap="round" stroke-linejoin="round"/>
<path d="M109.4,704.1 L110.9,706.0 L113.1,707.0 L115.5,706.8 L117.9,706.6 L120.2,706.0 L122.4,705.1 L124.0,703.3 L124.4,700.9 L123.7,698.6 L121.9,697.0 L119.6,696.3 L117.3,696.8 L115.3,698.2 L113.4,699.7 L111.4,700.9 L110.1,703.0 L110.0,705.4 L111.1,707.5 L113.0,708.9 L115.4,709.4 L117.7,708.6 L119.4,706.9 L120.0,704.6 L119.5,702.3 L118.0,700.5 L115.7,699.6 L113.4,699.0 L111.2,698.0 L109.0,697.2 L106.6,697.6 L104.6,698.9 L103.5,701.0 L103.5,703.4 L103.2,705.8 L102.2,708.0 L100.3,709.4 L98.5,711.1 L97.6,713.3 L97.9,715.7 L98.6,718.0 L100.4,719.6 L102.4,720.9 L103.5,723.0 L104.9,725.0 L107.0,726.2 L109.4,726.2 L111.8,726.4 L114.2,726.2 L116.2,724.9 L117.4,722.8" fill="none" stroke="#c4c4c4" stroke-width="1.65" stroke-linecap="round" stroke-linejoin="round"/>
<path d="M204.4,718.7 L203.8,716.3 L202.6,714.3 L201.8,712.0 L202.3,709.7 L203.8,707.8 L206.0,706.9 L208.4,707.2 L210.8,707.1 L213.2,707.0 L215.6,707.3 L216.6,709.5 L216.3,711.9 L215.0,713.9 L212.9,715.0 L210.5,715.0 L208.4,713.9 L206.5,712.4 L204.6,710.9 L202.3,710.3 L199.9,709.9 L197.5,709.7 L195.4,710.7 L193.5,712.2 L192.7,714.5 L192.5,716.9 L193.4,719.1 L195.3,720.6 L197.2,722.1 L198.1,724.3 L198.6,726.6 L199.3,728.9 L200.3,731.1 L201.5,733.2 L202.3,735.4 L201.9,737.8 L200.8,739.9 L198.7,741.2 L196.6,742.3 L194.5,743.4 L193.0,745.3 L192.6,747.7 L194.8,748.4 L197.2,747.9 L199.4,746.8 L201.7,746.9 L204.0,746.1 L206.0,744.7 L207.6,743.0 L209.7,741.9 L211.0,739.8" fill="none" stroke="#7c7c7c" stroke-width="3.0" stroke-linecap="round" stroke-linejoin="round"/>
<path d="M204.4,718.7 L203.8,716.3 L202.6,714.3 L201.8,712.0 L202.3,709.7 L203.8,707.8 L206.0,706.9 L208.4,707.2 L210.8,707.1 L213.2,707.0 L215.6,707.3 L216.6,709.5 L216.3,711.9 L215.0,713.9 L212.9,715.0 L210.5,715.0 L208.4,713.9 L206.5,712.4 L204.6,710.9 L202.3,710.3 L199.9,709.9 L197.5,709.7 L195.4,710.7 L193.5,712.2 L192.7,714.5 L192.5,716.9 L193.4,719.1 L195.3,720.6 L197.2,722.1 L198.1,724.3 L198.6,726.6 L199.3,728.9 L200.3,731.1 L201.5,733.2 L202.3,735.4 L201.9,737.8 L200.8,739.9 L198.7,741.2 L196.6,742.3 L194.5,743.4 L193.0,745.3 L192.6,747.7 L194.8,748.4 L197.2,747.9 L199.4,746.8 L201.7,746.9 L204.0,746.1 L206.0,744.7 L207.6,743.0 L209.7,741.9 L211.0,739.8" fill="none" stroke="#c4c4c4" stroke-width="1.65" stroke-linecap="round" stroke-linejoin="round"/>
<path d="M151.5,647.4 L151.4,645.0 L152.3,642.8 L153.6,640.8 L153.8,638.4 L153.6,636.0 L153.2,633.7 L153.0,631.3 L152.7,628.9 L151.7,626.7 L149.8,625.3 L147.5,624.9 L145.2,625.7 L143.6,627.5 L143.1,629.8 L143.7,632.1 L144.1,634.5 L144.9,636.8 L146.6,638.4 L149.0,638.9 L151.4,638.8 L153.6,637.9 L155.9,637.2 L158.1,636.2 L160.0,634.7 L160.9,632.5 L160.7,630.1 L158.8,628.7 L156.4,628.3 L154.1,629.2 L151.8,629.9 L150.1,631.5 L147.8,632.2 L145.5,631.6 L143.7,630.0 L142.9,627.8 L143.2,625.4 L144.7,623.5 L145.9,621.5 L144.0,620.1 L141.8,621.0" fill="none" stroke="#7c7c7c" stroke-width="3.0" stroke-linecap="round" stroke-linejoin="round"/>
<path d="M151.5,647.4 L151.4,645.0 L152.3,642.8 L153.6,640.8 L153.8,638.4 L153.6,636.0 L153.2,633.7 L153.0,631.3 L152.7,628.9 L151.7,626.7 L149.8,625.3 L147.5,624.9 L145.2,625.7 L143.6,627.5 L143.1,629.8 L143.7,632.1 L144.1,634.5 L144.9,636.8 L146.6,638.4 L149.0,638.9 L151.4,638.8 L153.6,637.9 L155.9,637.2 L158.1,636.2 L160.0,634.7 L160.9,632.5 L160.7,630.1 L158.8,628.7 L156.4,628.3 L154.1,629.2 L151.8,629.9 L150.1,631.5 L147.8,632.2 L145.5,631.6 L143.7,630.0 L142.9,627.8 L143.2,625.4 L144.7,623.5 L145.9,621.5 L144.0,620.1 L141.8,621.0" fill="none" stroke="#c4c4c4" stroke-width="1.65" stroke-linecap="round" stroke-linejoin="round"/>
<path d="M218.3,694.7 L219.7,692.8 L221.5,691.2 L223.6,689.9 L225.3,688.3 L227.1,686.7 L229.4,685.9 L230.9,687.8 L231.1,690.1 L230.6,692.5 L231.3,694.8 L230.9,697.2 L230.0,699.4 L229.4,701.7 L228.4,703.9 L226.5,705.3 L225.0,707.2 L223.5,709.1 L221.4,710.1 L219.8,712.0 L219.4,714.3 L219.4,716.7 L220.6,718.8 L222.5,720.2 L223.5,722.4 L223.4,724.8 L222.3,726.9 L220.3,728.3 L217.9,728.5 L215.7,727.5 L213.3,727.7 L211.1,726.8 L209.2,725.3 L207.6,723.5 L205.5,722.3 L203.1,722.3 L200.9,723.4 L199.4,725.2 L198.9,727.6 L198.8,730.0 L201.1,730.6 L203.5,730.2 L205.3,728.6 L206.8,726.8 L207.3,724.4 L206.7,722.1 L204.9,720.4 L202.6,719.8 L200.2,719.7 L197.9,720.1 L195.5,720.5" fill="none" stroke="#7c7c7c" stroke-width="3.0" stroke-linecap="round" stroke-linejoin="round"/>
<path d="M218.3,694.7 L219.7,692.8 L221.5,691.2 L223.6,689.9 L225.3,688.3 L227.1,686.7 L229.4,685.9 L230.9,687.8 L231.1,690.1 L230.6,692.5 L231.3,694.8 L230.9,697.2 L230.0,699.4 L229.4,701.7 L228.4,703.9 L226.5,705.3 L225.0,707.2 L223.5,709.1 L221.4,710.1 L219.8,712.0 L219.4,714.3 L219.4,716.7 L220.6,718.8 L222.5,720.2 L223.5,722.4 L223.4,724.8 L222.3,726.9 L220.3,728.3 L217.9,728.5 L215.7,727.5 L213.3,727.7 L211.1,726.8 L209.2,725.3 L207.6,723.5 L205.5,722.3 L203.1,722.3 L200.9,723.4 L199.4,725.2 L198.9,727.6 L198.8,730.0 L201.1,730.6 L203.5,730.2 L205.3,728.6 L206.8,726.8 L207.3,724.4 L206.7,722.1 L204.9,720.4 L202.6,719.8 L200.2,719.7 L197.9,720.1 L195.5,720.5" fill="none" stroke="#c4c4c4" stroke-width="1.65" stroke-linecap="round" stroke-linejoin="round"/>
<path d="M115.3,766.0 L117.2,767.4 L119.0,769.0 L119.8,771.3 L119.4,773.6 L117.1,774.2 L114.7,774.5 L112.5,773.5 L110.7,771.9 L108.6,770.9 L106.3,770.1 L103.9,770.1 L101.8,771.3 L100.5,773.3 L98.1,772.9 L96.0,771.8 L94.7,769.8 L93.8,767.6 L93.5,765.2 L92.6,763.0 L92.6,760.6 L93.7,758.5 L95.8,757.2 L98.2,757.0 L100.3,758.1 L101.8,760.0 L102.1,762.4 L101.4,764.7 L101.1,767.0 L102.0,769.3 L103.8,770.9" fill="none" stroke="#7c7c7c" stroke-width="3.0" stroke-linecap="round" stroke-linejoin="round"/>
<path d="M115.3,766.0 L117.2,767.4 L119.0,769.0 L119.8,771.3 L119.4,773.6 L117.1,774.2 L114.7,774.5 L112.5,773.5 L110.7,771.9 L108.6,770.9 L106.3,770.1 L103.9,770.1 L101.8,771.3 L100.5,773.3 L98.1,772.9 L96.0,771.8 L94.7,769.8 L93.8,767.6 L93.5,765.2 L92.6,763.0 L92.6,760.6 L93.7,758.5 L95.8,757.2 L98.2,757.0 L100.3,758.1 L101.8,760.0 L102.1,762.4 L101.4,764.7 L101.1,767.0 L102.0,769.3 L103.8,770.9" fill="none" stroke="#c4c4c4" stroke-width="1.65" stroke-linecap="round" stroke-linejoin="round"/>
<path d="M173.7,761.6 L175.8,760.6 L177.2,758.6 L177.5,756.2 L177.3,753.8 L178.2,751.6 L180.0,750.0 L182.3,749.1 L184.6,749.4 L186.9,750.1 L189.3,749.6 L191.1,748.1 L192.9,746.5 L194.9,745.2 L196.6,746.9 L197.3,749.2 L197.7,751.6 L197.4,754.0 L195.9,755.9 L193.7,756.8 L191.3,756.7 L189.0,756.1 L186.8,755.2 L184.7,754.0 L183.2,752.2 L181.0,751.1 L178.9,750.0 L176.9,748.7 L175.8,746.5 L174.9,744.3 L174.8,741.9 L176.9,740.6 L179.3,740.5 L181.4,741.5 L183.8,742.1 L185.7,743.5 L187.8,744.7 L190.0,745.4 L192.2,746.5 L194.6,746.5 L196.7,745.3" fill="none" stroke="#7c7c7c" stroke-width="3.0" stroke-linecap="round" stroke-linejoin="round"/>
<path d="M173.7,761.6 L175.8,760.6 L177.2,758.6 L177.5,756.2 L177.3,753.8 L178.2,751.6 L180.0,750.0 L182.3,749.1 L184.6,749.4 L186.9,750.1 L189.3,749.6 L191.1,748.1 L192.9,746.5 L194.9,745.2 L196.6,746.9 L197.3,749.2 L197.7,751.6 L197.4,754.0 L195.9,755.9 L193.7,756.8 L191.3,756.7 L189.0,756.1 L186.8,755.2 L184.7,754.0 L183.2,752.2 L181.0,751.1 L178.9,750.0 L176.9,748.7 L175.8,746.5 L174.9,744.3 L174.8,741.9 L176.9,740.6 L179.3,740.5 L181.4,741.5 L183.8,742.1 L185.7,743.5 L187.8,744.7 L190.0,745.4 L192.2,746.5 L194.6,746.5 L196.7,745.3" fill="none" stroke="#c4c4c4" stroke-width="1.65" stroke-linecap="round" stroke-linejoin="round"/>
<path d="M64.9,659.3 L65.1,659.7 L65.9,660.2 L67.1,661.0 L68.8,662.0 L70.8,663.2 L73.0,664.6 L75.3,666.1 L77.5,667.8 L79.6,669.6 L81.4,671.4 L82.8,673.2 L83.8,674.9 L84.2,676.5 L84.0,677.9 L87.8,666.7 L87.9,665.2 L87.5,663.6 L86.6,661.9 L85.2,660.1 L83.4,658.3 L81.3,656.5 L79.0,654.9 L76.8,653.3 L74.6,651.9 L72.6,650.7 L70.9,649.7 L69.6,648.9 L68.9,648.4 L68.7,648.1 Z" fill="#8a8a8a" stroke="#6e6e6e" stroke-width="0.6"/>
<path d="M57.6,681.3 L57.8,681.7 L58.5,682.2 L59.8,683.0 L61.5,684.0 L63.5,685.2 L65.7,686.6 L68.0,688.1 L70.2,689.8 L72.3,691.6 L74.1,693.4 L75.5,695.2 L76.4,696.9 L76.8,698.5 L76.7,699.9 L80.4,688.7 L80.6,687.2 L80.2,685.6 L79.3,683.9 L77.8,682.1 L76.0,680.3 L74.0,678.5 L71.7,676.9 L69.4,675.3 L67.2,673.9 L65.2,672.7 L63.5,671.7 L62.3,670.9 L61.5,670.4 L61.3,670.1 Z" fill="#8a8a8a" stroke="#6e6e6e" stroke-width="0.6"/>
<path d="M50.2,703.3 L50.4,703.7 L51.2,704.2 L52.5,705.0 L54.1,706.0 L56.1,707.2 L58.3,708.6 L60.6,710.1 L62.9,711.8 L65.0,713.6 L66.8,715.4 L68.2,717.2 L69.1,718.9 L69.5,720.5 L69.3,721.9 L73.1,710.7 L73.3,709.2 L72.9,707.6 L71.9,705.9 L70.5,704.1 L68.7,702.3 L66.6,700.5 L64.4,698.9 L62.1,697.3 L59.9,695.9 L57.9,694.7 L56.2,693.7 L55.0,692.9 L54.2,692.4 L54.0,692.1 Z" fill="#8a8a8a" stroke="#6e6e6e" stroke-width="0.6"/>
<path d="M77.0,661.1 L75.6,661.1 L74.2,661.0 L72.8,660.9 L71.6,660.8 L70.4,660.7 L69.3,660.6 L68.2,660.5 L67.3,660.4 L66.5,660.3 L65.9,660.2 L65.3,660.2 L64.9,660.2 L64.7,660.3 L64.6,660.3 L69.0,647.1 L69.1,647.0 L69.4,646.9 L69.8,646.9 L70.3,647.0 L71.0,647.0 L71.7,647.1 L72.7,647.2 L73.7,647.3 L74.8,647.4 L76.0,647.5 L77.3,647.6 L78.6,647.7 L80.0,647.8 L81.4,647.9 Z" fill="#b8b8b8" stroke="#6e6e6e" stroke-width="0.7"/>
<path d="M74.5,655.9 L73.3,655.8 L72.1,655.7 L70.9,655.5 L69.9,655.4 L69.0,655.3 L68.2,655.2 L67.5,655.2 L67.0,655.2" fill="none" stroke="#ececec" stroke-width="3.9" stroke-linecap="round" opacity="0.85"/>
<path d="M83.7,678.9 L82.9,680.2 L81.7,681.2 L79.9,682.0 L77.7,682.6 L75.2,683.0 L72.4,683.1 L69.6,683.1 L66.8,683.0 L64.2,682.8 L61.9,682.6 L60.0,682.4 L58.5,682.2 L57.6,682.2 L57.2,682.3 L61.7,669.1 L62.0,668.9 L63.0,669.0 L64.4,669.1 L66.3,669.3 L68.7,669.5 L71.3,669.7 L74.0,669.9 L76.9,669.9 L79.6,669.7 L82.1,669.3 L84.3,668.7 L86.1,667.9 L87.4,666.9 L88.1,665.7 Z" fill="#b8b8b8" stroke="#6e6e6e" stroke-width="0.7"/>
<path d="M81.6,677.0 L79.4,677.6 L76.8,677.9 L74.1,678.1 L71.3,678.1 L68.5,678.0 L65.9,677.8 L63.6,677.5 L61.7,677.3" fill="none" stroke="#ececec" stroke-width="3.9" stroke-linecap="round" opacity="0.85"/>
<path d="M76.3,700.9 L75.6,702.2 L74.3,703.2 L72.5,704.0 L70.4,704.6 L67.8,705.0 L65.1,705.1 L62.3,705.1 L59.5,705.0 L56.9,704.8 L54.6,704.6 L52.7,704.4 L51.2,704.2 L50.3,704.2 L49.9,704.3 L54.3,691.1 L54.7,690.9 L55.6,691.0 L57.1,691.1 L59.0,691.3 L61.3,691.5 L63.9,691.7 L66.7,691.9 L69.5,691.9 L72.3,691.7 L74.8,691.3 L77.0,690.7 L78.8,689.9 L80.0,688.9 L80.8,687.7 Z" fill="#b8b8b8" stroke="#6e6e6e" stroke-width="0.7"/>
<path d="M74.2,699.0 L72.0,699.6 L69.5,699.9 L66.8,700.1 L64.0,700.1 L61.2,700.0 L58.6,699.8 L56.3,699.5 L54.3,699.3" fill="none" stroke="#ececec" stroke-width="3.9" stroke-linecap="round" opacity="0.85"/>
<path d="M69.0,722.9 L68.7,723.6 L68.3,724.2 L67.7,724.7 L67.0,725.2 L66.2,725.7 L65.2,726.0 L64.2,726.3 L63.0,726.6 L61.8,726.8 L60.5,727.0 L59.2,727.1 L57.8,727.1 L56.4,727.2 L55.0,727.1 L59.4,713.9 L60.8,713.9 L62.2,713.9 L63.6,713.8 L64.9,713.7 L66.2,713.5 L67.4,713.3 L68.6,713.1 L69.6,712.7 L70.6,712.4 L71.4,711.9 L72.1,711.4 L72.7,710.9 L73.1,710.3 L73.4,709.7 Z" fill="#b8b8b8" stroke="#6e6e6e" stroke-width="0.7"/>
<path d="M69.4,719.7 L68.7,720.2 L67.8,720.6 L66.9,721.0 L65.8,721.3 L64.7,721.6 L63.5,721.8 L62.2,721.9 L60.8,722.0" fill="none" stroke="#ececec" stroke-width="3.9" stroke-linecap="round" opacity="0.85"/>
<path d="M94.3,768.6 L94.4,768.3 L94.7,767.3 L95.3,765.8 L96.2,763.7 L97.3,761.3 L98.6,758.6 L100.1,755.8 L101.7,753.0 L103.5,750.5 L105.3,748.3 L107.1,746.5 L108.8,745.3 L110.4,744.7 L111.8,744.8 L100.0,741.1 L98.6,741.0 L97.0,741.6 L95.3,742.8 L93.5,744.6 L91.7,746.8 L90.0,749.4 L88.3,752.1 L86.8,754.9 L85.5,757.6 L84.4,760.0 L83.6,762.1 L83.0,763.6 L82.6,764.6 L82.5,765.0 Z" fill="#8a8a8a" stroke="#6e6e6e" stroke-width="0.6"/>
<path d="M112.6,774.3 L112.7,774.0 L113.0,773.0 L113.6,771.5 L114.4,769.4 L115.5,767.0 L116.9,764.3 L118.4,761.5 L120.0,758.7 L121.8,756.2 L123.6,754.0 L125.4,752.2 L127.1,751.0 L128.6,750.4 L130.1,750.5 L118.3,746.8 L116.9,746.7 L115.3,747.3 L113.6,748.5 L111.8,750.3 L110.0,752.5 L108.3,755.1 L106.6,757.8 L105.1,760.6 L103.8,763.3 L102.7,765.7 L101.8,767.8 L101.2,769.4 L100.9,770.3 L100.8,770.7 Z" fill="#8a8a8a" stroke="#6e6e6e" stroke-width="0.6"/>
<path d="M130.8,780.1 L131.0,779.7 L131.3,778.7 L131.9,777.2 L132.7,775.1 L133.8,772.7 L135.1,770.0 L136.7,767.2 L138.3,764.5 L140.1,761.9 L141.9,759.7 L143.6,757.9 L145.3,756.7 L146.9,756.1 L148.3,756.2 L136.6,752.5 L135.2,752.4 L133.6,753.0 L131.9,754.2 L130.1,756.0 L128.3,758.2 L126.5,760.8 L124.9,763.5 L123.4,766.3 L122.1,769.0 L121.0,771.4 L120.1,773.5 L119.5,775.1 L119.2,776.0 L119.1,776.4 Z" fill="#8a8a8a" stroke="#6e6e6e" stroke-width="0.6"/>
<path d="M149.1,785.8 L149.2,785.7 L149.2,785.4 L149.4,785.0 L149.6,784.5 L149.8,783.7 L150.2,782.9 L150.6,781.9 L151.0,780.8 L151.5,779.7 L152.1,778.4 L152.7,777.1 L153.4,775.7 L154.2,774.3 L154.9,772.9 L143.2,769.2 L142.4,770.6 L141.7,772.0 L141.0,773.4 L140.4,774.7 L139.8,776.0 L139.3,777.2 L138.8,778.2 L138.4,779.2 L138.1,780.1 L137.8,780.8 L137.6,781.3 L137.5,781.8 L137.4,782.0 L137.4,782.1 Z" fill="#8a8a8a" stroke="#6e6e6e" stroke-width="0.6"/>
<path d="M97.9,755.1 L97.7,756.7 L97.5,758.2 L97.3,759.7 L97.1,761.2 L96.8,762.6 L96.6,763.8 L96.3,765.0 L96.1,766.0 L95.9,766.9 L95.7,767.6 L95.5,768.2 L95.4,768.6 L95.3,768.9 L95.3,769.0 L81.5,764.6 L81.5,764.5 L81.6,764.3 L81.7,763.9 L81.9,763.3 L82.0,762.6 L82.3,761.7 L82.5,760.7 L82.7,759.5 L83.0,758.2 L83.2,756.9 L83.5,755.4 L83.7,753.9 L83.9,752.3 L84.0,750.8 Z" fill="#b8b8b8" stroke="#6e6e6e" stroke-width="0.7"/>
<path d="M92.0,758.1 L91.8,759.6 L91.6,760.9 L91.3,762.2 L91.1,763.3 L90.8,764.4 L90.6,765.2 L90.4,766.0 L90.3,766.6" fill="none" stroke="#ececec" stroke-width="4.1" stroke-linecap="round" opacity="0.85"/>
<path d="M112.8,745.1 L114.0,745.8 L115.0,747.2 L115.7,749.2 L116.1,751.7 L116.4,754.5 L116.3,757.6 L116.1,760.8 L115.8,763.9 L115.3,766.9 L114.9,769.5 L114.4,771.7 L114.0,773.3 L113.7,774.3 L113.6,774.7 L99.8,770.3 L99.9,770.0 L100.1,769.0 L100.5,767.4 L101.0,765.2 L101.5,762.6 L102.0,759.6 L102.3,756.5 L102.5,753.3 L102.5,750.2 L102.3,747.3 L101.9,744.9 L101.1,742.9 L100.2,741.5 L99.0,740.8 Z" fill="#b8b8b8" stroke="#6e6e6e" stroke-width="0.7"/>
<path d="M110.4,747.5 L110.9,750.0 L111.1,752.9 L111.1,756.0 L110.9,759.2 L110.5,762.3 L110.1,765.3 L109.6,767.9 L109.1,770.1" fill="none" stroke="#ececec" stroke-width="4.1" stroke-linecap="round" opacity="0.85"/>
<path d="M131.1,750.8 L132.3,751.5 L133.3,752.9 L134.0,754.9 L134.4,757.4 L134.6,760.2 L134.6,763.3 L134.4,766.5 L134.1,769.7 L133.6,772.6 L133.1,775.3 L132.7,777.4 L132.3,779.0 L132.0,780.0 L131.9,780.4 L118.0,776.1 L118.2,775.7 L118.4,774.7 L118.8,773.1 L119.3,770.9 L119.8,768.3 L120.2,765.3 L120.6,762.2 L120.8,759.0 L120.8,755.9 L120.6,753.0 L120.1,750.6 L119.4,748.6 L118.5,747.2 L117.3,746.5 Z" fill="#b8b8b8" stroke="#6e6e6e" stroke-width="0.7"/>
<path d="M128.7,753.3 L129.2,755.7 L129.4,758.6 L129.4,761.7 L129.2,764.9 L128.8,768.0 L128.4,771.0 L127.9,773.6 L127.4,775.8" fill="none" stroke="#ececec" stroke-width="4.1" stroke-linecap="round" opacity="0.85"/>
<path d="M149.4,756.5 L150.6,757.3 L151.5,758.6 L152.3,760.6 L152.7,763.1 L152.9,765.9 L152.9,769.0 L152.7,772.2 L152.4,775.4 L151.9,778.3 L151.4,781.0 L151.0,783.1 L150.6,784.8 L150.3,785.8 L150.2,786.1 L136.3,781.8 L136.4,781.4 L136.7,780.4 L137.1,778.8 L137.6,776.6 L138.1,774.0 L138.5,771.1 L138.9,767.9 L139.1,764.7 L139.1,761.6 L138.9,758.8 L138.4,756.3 L137.7,754.3 L136.7,752.9 L135.5,752.2 Z" fill="#b8b8b8" stroke="#6e6e6e" stroke-width="0.7"/>
<path d="M147.0,759.0 L147.5,761.4 L147.7,764.3 L147.7,767.4 L147.5,770.6 L147.1,773.7 L146.7,776.7 L146.2,779.3 L145.7,781.5" fill="none" stroke="#ececec" stroke-width="4.1" stroke-linecap="round" opacity="0.85"/>
<path d="M142.5,742.3 L142.4,742.0 L142.2,741.2 L142.0,739.9 L141.9,738.2 L141.7,736.1 L141.6,733.8 L141.6,731.3 L141.8,728.8 L142.0,726.4 L142.5,724.2 L143.0,722.3 L143.7,720.8 L144.6,719.9 L145.6,719.4 L135.5,721.2 L134.6,721.6 L133.7,722.6 L133.0,724.1 L132.4,726.0 L132.0,728.2 L131.7,730.6 L131.6,733.1 L131.6,735.6 L131.7,737.9 L131.8,740.0 L132.0,741.7 L132.2,743.0 L132.3,743.8 L132.4,744.1 Z" fill="#8a8a8a" stroke="#6e6e6e" stroke-width="0.6"/>
<path d="M156.5,739.8 L156.4,739.5 L156.2,738.7 L156.0,737.4 L155.9,735.7 L155.7,733.6 L155.6,731.3 L155.6,728.8 L155.8,726.3 L156.0,723.9 L156.5,721.7 L157.0,719.8 L157.7,718.3 L158.6,717.4 L159.6,716.9 L149.5,718.7 L148.6,719.1 L147.7,720.1 L147.0,721.6 L146.4,723.5 L146.0,725.7 L145.7,728.1 L145.6,730.6 L145.6,733.1 L145.7,735.4 L145.8,737.5 L146.0,739.2 L146.2,740.5 L146.3,741.3 L146.4,741.6 Z" fill="#8a8a8a" stroke="#6e6e6e" stroke-width="0.6"/>
<path d="M140.3,731.5 L140.7,732.7 L141.2,733.9 L141.5,735.0 L141.9,736.1 L142.2,737.1 L142.5,738.1 L142.7,739.0 L142.9,739.8 L143.1,740.5 L143.2,741.1 L143.3,741.5 L143.3,741.9 L143.3,742.1 L143.3,742.1 L131.5,744.3 L131.5,744.2 L131.5,744.0 L131.5,743.6 L131.4,743.2 L131.2,742.6 L131.1,741.9 L130.9,741.1 L130.7,740.2 L130.4,739.2 L130.1,738.2 L129.7,737.1 L129.3,736.0 L128.9,734.8 L128.5,733.6 Z" fill="#b8b8b8" stroke="#6e6e6e" stroke-width="0.7"/>
<path d="M137.1,735.8 L137.4,736.9 L137.7,737.9 L138.0,738.9 L138.2,739.8 L138.4,740.6 L138.6,741.3 L138.7,741.9 L138.8,742.3" fill="none" stroke="#ececec" stroke-width="3.4" stroke-linecap="round" opacity="0.85"/>
<path d="M146.5,719.2 L147.6,719.3 L148.7,720.0 L149.9,721.1 L151.1,722.6 L152.2,724.5 L153.3,726.7 L154.3,729.0 L155.2,731.4 L155.9,733.6 L156.5,735.6 L156.9,737.3 L157.2,738.6 L157.3,739.4 L157.3,739.6 L145.5,741.8 L145.5,741.5 L145.4,740.7 L145.1,739.4 L144.7,737.7 L144.1,735.7 L143.3,733.5 L142.5,731.1 L141.5,728.8 L140.4,726.7 L139.3,724.7 L138.1,723.2 L136.9,722.1 L135.7,721.4 L134.7,721.4 Z" fill="#b8b8b8" stroke="#6e6e6e" stroke-width="0.7"/>
<path d="M145.4,721.9 L146.6,723.4 L147.7,725.3 L148.8,727.5 L149.8,729.8 L150.7,732.2 L151.4,734.4 L152.0,736.4 L152.4,738.1" fill="none" stroke="#ececec" stroke-width="3.4" stroke-linecap="round" opacity="0.85"/>
<path d="M160.5,716.7 L161.0,716.7 L161.6,716.8 L162.1,717.1 L162.7,717.5 L163.3,718.0 L163.9,718.6 L164.5,719.3 L165.1,720.1 L165.6,721.0 L166.2,722.0 L166.8,723.1 L167.3,724.2 L167.8,725.4 L168.3,726.5 L156.5,728.6 L156.0,727.5 L155.5,726.3 L155.0,725.2 L154.4,724.2 L153.8,723.2 L153.3,722.2 L152.7,721.4 L152.1,720.7 L151.5,720.1 L150.9,719.6 L150.3,719.2 L149.7,718.9 L149.2,718.8 L148.7,718.9 Z" fill="#b8b8b8" stroke="#6e6e6e" stroke-width="0.7"/>
<path d="M157.6,717.9 L158.2,718.3 L158.8,718.8 L159.4,719.4 L160.0,720.1 L160.6,720.9 L161.2,721.8 L161.7,722.8 L162.3,723.9" fill="none" stroke="#ececec" stroke-width="3.4" stroke-linecap="round" opacity="0.85"/>
<path d="M146,642 L152,630 L160,624 L170,622 L176,626 L170,632 L162,638 L154,646 Z" fill="#a8a8a8" stroke="#666" stroke-width="0.8"/>
<path d="M150,638 L156,630 L164,626 L168,628 L160,634 Z" fill="#dcdcdc" opacity="0.9"/>
<path d="M150.0,599.0 L148.9,599.1 L147.3,599.1 L145.5,599.2 L143.6,599.4 L141.7,599.6 L140.0,600.0 L138.5,600.5 L137.0,601.0 L135.6,601.7 L134.2,602.4 L133.0,603.2 L132.0,604.0 L131.2,604.9 L130.6,605.9 L130.1,606.9 L129.7,608.0 L129.3,609.0 L129.0,610.0 L128.8,610.9 L128.6,611.8 L128.6,612.7 L128.5,613.5 L128.3,614.3 L128.0,615.0 L127.5,615.6 L127.0,616.2 L126.3,616.7 L125.6,617.1 L124.8,617.6 L124.0,618.0 L123.1,618.3 L122.2,618.5 L121.2,618.7 L120.2,618.9 L119.1,619.3 L118.0,620.0 L116.8,621.0 L115.5,622.3 L114.1,623.8 L112.7,625.3 L111.4,626.7 L110.0,628.0 L108.6,629.1 L107.1,630.1 L105.7,631.1 L104.3,632.1 L103.0,633.0 L102.0,634.0 L101.1,635.0 L100.4,636.1 L99.8,637.1 L99.4,638.1 L99.1,639.1 L99.0,640.0 L99.1,640.8 L99.4,641.6 L99.8,642.2 L100.4,642.9 L101.1,643.5 L102.0,644.0 L103.0,644.5 L104.2,644.9 L105.6,645.2 L107.0,645.5 L108.5,645.7 L110.0,646.0 L111.6,646.2 L113.3,646.4 L115.1,646.6 L116.9,646.7 L118.5,646.8 L120.0,647.0 L121.2,647.2 L122.3,647.3 L123.2,647.4 L124.1,647.6 L125.0,647.8 L126.0,648.0 L127.0,648.3 L127.9,648.7 L128.9,649.1 L129.9,649.5 L130.9,649.8 L132.0,650.0 L133.2,650.0 L134.5,649.9 L135.9,649.7 L137.3,649.4 L138.6,649.2 L140.0,649.0 L141.4,648.8 L143.0,648.6 L144.5,648.4 L145.9,648.3 L147.1,648.1 L148.0,648.0" fill="none" stroke="#aaa030" stroke-width="2.8" stroke-linecap="round" stroke-linejoin="round"/>
<path d="M150.0,599.0 L148.9,599.1 L147.3,599.1 L145.5,599.2 L143.6,599.4 L141.7,599.6 L140.0,600.0 L138.5,600.5 L137.0,601.0 L135.6,601.7 L134.2,602.4 L133.0,603.2 L132.0,604.0 L131.2,604.9 L130.6,605.9 L130.1,606.9 L129.7,608.0 L129.3,609.0 L129.0,610.0 L128.8,610.9 L128.6,611.8 L128.6,612.7 L128.5,613.5 L128.3,614.3 L128.0,615.0 L127.5,615.6 L127.0,616.2 L126.3,616.7 L125.6,617.1 L124.8,617.6 L124.0,618.0 L123.1,618.3 L122.2,618.5 L121.2,618.7 L120.2,618.9 L119.1,619.3 L118.0,620.0 L116.8,621.0 L115.5,622.3 L114.1,623.8 L112.7,625.3 L111.4,626.7 L110.0,628.0 L108.6,629.1 L107.1,630.1 L105.7,631.1 L104.3,632.1 L103.0,633.0 L102.0,634.0 L101.1,635.0 L100.4,636.1 L99.8,637.1 L99.4,638.1 L99.1,639.1 L99.0,640.0 L99.1,640.8 L99.4,641.6 L99.8,642.2 L100.4,642.9 L101.1,643.5 L102.0,644.0 L103.0,644.5 L104.2,644.9 L105.6,645.2 L107.0,645.5 L108.5,645.7 L110.0,646.0 L111.6,646.2 L113.3,646.4 L115.1,646.6 L116.9,646.7 L118.5,646.8 L120.0,647.0 L121.2,647.2 L122.3,647.3 L123.2,647.4 L124.1,647.6 L125.0,647.8 L126.0,648.0 L127.0,648.3 L127.9,648.7 L128.9,649.1 L129.9,649.5 L130.9,649.8 L132.0,650.0 L133.2,650.0 L134.5,649.9 L135.9,649.7 L137.3,649.4 L138.6,649.2 L140.0,649.0 L141.4,648.8 L143.0,648.6 L144.5,648.4 L145.9,648.3 L147.1,648.1 L148.0,648.0" fill="none" stroke="#e8dc62" stroke-width="1.54" stroke-linecap="round" stroke-linejoin="round"/>
<path d="M128.0,616.0 L128.7,616.2 L129.6,616.5 L130.6,616.9 L131.8,617.3 L132.9,617.6 L134.0,618.0 L135.0,618.3 L136.1,618.6 L137.2,618.9 L138.2,619.2 L139.2,619.6 L140.0,620.0 L140.7,620.6 L141.4,621.2 L142.0,621.9 L142.5,622.6 L142.8,623.3 L143.0,624.0 L143.0,624.7 L142.8,625.5 L142.5,626.3 L142.1,627.0 L141.6,627.6 L141.0,628.0 L140.3,628.2 L139.4,628.2 L138.5,628.1 L137.6,627.8 L136.7,627.5 L136.0,627.0 L135.5,626.3 L135.0,625.4 L134.7,624.4 L134.4,623.4 L134.2,622.6 L134.0,622.0" fill="none" stroke="#aaa030" stroke-width="2.8" stroke-linecap="round" stroke-linejoin="round"/>
<path d="M128.0,616.0 L128.7,616.2 L129.6,616.5 L130.6,616.9 L131.8,617.3 L132.9,617.6 L134.0,618.0 L135.0,618.3 L136.1,618.6 L137.2,618.9 L138.2,619.2 L139.2,619.6 L140.0,620.0 L140.7,620.6 L141.4,621.2 L142.0,621.9 L142.5,622.6 L142.8,623.3 L143.0,624.0 L143.0,624.7 L142.8,625.5 L142.5,626.3 L142.1,627.0 L141.6,627.6 L141.0,628.0 L140.3,628.2 L139.4,628.2 L138.5,628.1 L137.6,627.8 L136.7,627.5 L136.0,627.0 L135.5,626.3 L135.0,625.4 L134.7,624.4 L134.4,623.4 L134.2,622.6 L134.0,622.0" fill="none" stroke="#e8dc62" stroke-width="1.54" stroke-linecap="round" stroke-linejoin="round"/>
<path d="M132.0,650.0 L132.9,650.2 L134.1,650.5 L135.5,650.9 L137.0,651.3 L138.6,651.6 L140.0,652.0 L141.4,652.4 L143.0,652.7 L144.5,653.1 L145.9,653.5 L147.1,653.8 L148.0,654.0" fill="none" stroke="#aaa030" stroke-width="2.8" stroke-linecap="round" stroke-linejoin="round"/>
<path d="M132.0,650.0 L132.9,650.2 L134.1,650.5 L135.5,650.9 L137.0,651.3 L138.6,651.6 L140.0,652.0 L141.4,652.4 L143.0,652.7 L144.5,653.1 L145.9,653.5 L147.1,653.8 L148.0,654.0" fill="none" stroke="#e8dc62" stroke-width="1.54" stroke-linecap="round" stroke-linejoin="round"/>
<path d="M130.0,606.0 L130.6,605.6 L131.4,604.9 L132.4,604.2 L133.5,603.4 L134.7,602.7 L136.0,602.0 L137.5,601.4 L139.1,600.8 L140.9,600.2 L142.7,599.7 L144.4,599.3 L146.0,599.0 L147.5,598.9 L148.9,598.9 L150.2,599.1 L151.6,599.3 L152.8,599.6 L154.0,600.0 L155.1,600.5 L156.2,601.0 L157.2,601.7 L158.2,602.4 L159.1,603.2 L160.0,604.0 L160.8,604.9 L161.6,605.8 L162.2,606.8 L162.9,607.8 L163.5,608.9 L164.0,610.0 L164.5,611.2 L165.0,612.5 L165.4,613.9 L165.7,615.3 L165.9,616.6 L166.0,618.0 L165.9,619.4 L165.7,620.7 L165.4,622.1 L165.0,623.5 L164.5,624.8 L164.0,626.0 L163.4,627.2 L162.8,628.3 L162.1,629.3 L161.4,630.3 L160.7,631.2 L160.0,632.0 L159.3,632.7 L158.7,633.1 L158.0,633.6 L157.3,634.0 L156.7,634.4 L156.0,635.0 L155.3,635.7 L154.6,636.5 L153.9,637.3 L153.2,638.2 L152.6,639.1 L152.0,640.0 L151.5,641.0 L151.0,642.0 L150.5,643.1 L150.1,644.1 L150.0,645.1 L150.0,646.0 L150.3,646.8 L150.7,647.6 L151.4,648.2 L152.1,648.9 L153.0,649.5 L154.0,650.0 L155.1,650.5 L156.4,650.9 L157.8,651.3 L159.2,651.6 L160.6,651.9 L162.0,652.0 L163.4,652.1 L164.7,652.0 L166.1,651.9 L167.5,651.7 L168.8,651.4 L170.0,651.0 L171.2,650.4 L172.3,649.7 L173.4,648.8 L174.4,647.9 L175.3,646.9 L176.0,646.0 L176.7,645.0 L177.3,644.0 L177.8,642.9 L178.1,641.9 L178.2,640.9 L178.0,640.0 L177.5,639.2 L176.6,638.4 L175.5,637.8 L174.3,637.1 L173.1,636.5 L172.0,636.0 L170.9,635.5 L169.8,635.1 L168.6,634.8 L167.6,634.4 L166.7,634.2 L166.0,634.0" fill="none" stroke="#aaa030" stroke-width="2.8" stroke-linecap="round" stroke-linejoin="round"/>
<path d="M130.0,606.0 L130.6,605.6 L131.4,604.9 L132.4,604.2 L133.5,603.4 L134.7,602.7 L136.0,602.0 L137.5,601.4 L139.1,600.8 L140.9,600.2 L142.7,599.7 L144.4,599.3 L146.0,599.0 L147.5,598.9 L148.9,598.9 L150.2,599.1 L151.6,599.3 L152.8,599.6 L154.0,600.0 L155.1,600.5 L156.2,601.0 L157.2,601.7 L158.2,602.4 L159.1,603.2 L160.0,604.0 L160.8,604.9 L161.6,605.8 L162.2,606.8 L162.9,607.8 L163.5,608.9 L164.0,610.0 L164.5,611.2 L165.0,612.5 L165.4,613.9 L165.7,615.3 L165.9,616.6 L166.0,618.0 L165.9,619.4 L165.7,620.7 L165.4,622.1 L165.0,623.5 L164.5,624.8 L164.0,626.0 L163.4,627.2 L162.8,628.3 L162.1,629.3 L161.4,630.3 L160.7,631.2 L160.0,632.0 L159.3,632.7 L158.7,633.1 L158.0,633.6 L157.3,634.0 L156.7,634.4 L156.0,635.0 L155.3,635.7 L154.6,636.5 L153.9,637.3 L153.2,638.2 L152.6,639.1 L152.0,640.0 L151.5,641.0 L151.0,642.0 L150.5,643.1 L150.1,644.1 L150.0,645.1 L150.0,646.0 L150.3,646.8 L150.7,647.6 L151.4,648.2 L152.1,648.9 L153.0,649.5 L154.0,650.0 L155.1,650.5 L156.4,650.9 L157.8,651.3 L159.2,651.6 L160.6,651.9 L162.0,652.0 L163.4,652.1 L164.7,652.0 L166.1,651.9 L167.5,651.7 L168.8,651.4 L170.0,651.0 L171.2,650.4 L172.3,649.7 L173.4,648.8 L174.4,647.9 L175.3,646.9 L176.0,646.0 L176.7,645.0 L177.3,644.0 L177.8,642.9 L178.1,641.9 L178.2,640.9 L178.0,640.0 L177.5,639.2 L176.6,638.4 L175.5,637.8 L174.3,637.1 L173.1,636.5 L172.0,636.0 L170.9,635.5 L169.8,635.1 L168.6,634.8 L167.6,634.4 L166.7,634.2 L166.0,634.0" fill="none" stroke="#e8dc62" stroke-width="1.54" stroke-linecap="round" stroke-linejoin="round"/>
<path d="M211.0,585.0 L212.0,584.7 L213.3,584.4 L214.9,583.9 L216.6,583.5 L218.3,583.2 L220.0,583.0 L221.6,583.0 L223.3,583.1 L225.1,583.2 L226.8,583.5 L228.4,583.7 L230.0,584.0 L231.5,584.2 L232.9,584.4 L234.3,584.6 L235.6,584.9 L236.9,585.3 L238.0,586.0 L239.1,587.0 L240.0,588.1 L240.9,589.5 L241.7,591.0 L242.4,592.5 L243.0,594.0 L243.5,595.6 L243.8,597.3 L244.1,599.0 L244.2,600.7 L244.2,602.4 L244.0,604.0 L243.6,605.4 L243.0,606.8 L242.3,608.1 L241.5,609.4 L240.7,610.7 L240.0,612.0 L239.3,613.3 L238.4,614.7 L237.6,616.0 L236.9,617.3 L236.3,618.7 L236.0,620.0 L236.0,621.3 L236.2,622.7 L236.6,624.0 L237.1,625.3 L237.6,626.7 L238.0,628.0 L238.3,629.3 L238.6,630.7 L238.9,632.0 L239.2,633.3 L239.6,634.7 L240.0,636.0 L240.6,637.3 L241.3,638.6 L242.0,639.9 L242.7,641.2 L243.4,642.6 L244.0,644.0 L244.5,645.6 L245.0,647.3 L245.4,649.0 L245.7,650.7 L245.9,652.4 L246.0,654.0 L245.9,655.4 L245.8,656.8 L245.5,658.1 L245.1,659.4 L244.6,660.7 L244.0,662.0 L243.3,663.4 L242.4,664.9 L241.4,666.4 L240.3,667.8 L239.2,669.0 L238.0,670.0 L236.8,670.7 L235.5,671.0 L234.1,671.2 L232.7,671.4 L231.4,671.6 L230.0,672.0 L228.7,672.5 L227.3,673.0 L226.0,673.6 L224.7,674.3 L223.3,675.1 L222.0,676.0 L220.6,677.2 L219.0,678.7 L217.5,680.2 L216.1,681.8 L214.9,683.1 L214.0,684.0" fill="none" stroke="#aaa030" stroke-width="2.8" stroke-linecap="round" stroke-linejoin="round"/>
<path d="M211.0,585.0 L212.0,584.7 L213.3,584.4 L214.9,583.9 L216.6,583.5 L218.3,583.2 L220.0,583.0 L221.6,583.0 L223.3,583.1 L225.1,583.2 L226.8,583.5 L228.4,583.7 L230.0,584.0 L231.5,584.2 L232.9,584.4 L234.3,584.6 L235.6,584.9 L236.9,585.3 L238.0,586.0 L239.1,587.0 L240.0,588.1 L240.9,589.5 L241.7,591.0 L242.4,592.5 L243.0,594.0 L243.5,595.6 L243.8,597.3 L244.1,599.0 L244.2,600.7 L244.2,602.4 L244.0,604.0 L243.6,605.4 L243.0,606.8 L242.3,608.1 L241.5,609.4 L240.7,610.7 L240.0,612.0 L239.3,613.3 L238.4,614.7 L237.6,616.0 L236.9,617.3 L236.3,618.7 L236.0,620.0 L236.0,621.3 L236.2,622.7 L236.6,624.0 L237.1,625.3 L237.6,626.7 L238.0,628.0 L238.3,629.3 L238.6,630.7 L238.9,632.0 L239.2,633.3 L239.6,634.7 L240.0,636.0 L240.6,637.3 L241.3,638.6 L242.0,639.9 L242.7,641.2 L243.4,642.6 L244.0,644.0 L244.5,645.6 L245.0,647.3 L245.4,649.0 L245.7,650.7 L245.9,652.4 L246.0,654.0 L245.9,655.4 L245.8,656.8 L245.5,658.1 L245.1,659.4 L244.6,660.7 L244.0,662.0 L243.3,663.4 L242.4,664.9 L241.4,666.4 L240.3,667.8 L239.2,669.0 L238.0,670.0 L236.8,670.7 L235.5,671.0 L234.1,671.2 L232.7,671.4 L231.4,671.6 L230.0,672.0 L228.7,672.5 L227.3,673.0 L226.0,673.6 L224.7,674.3 L223.3,675.1 L222.0,676.0 L220.6,677.2 L219.0,678.7 L217.5,680.2 L216.1,681.8 L214.9,683.1 L214.0,684.0" fill="none" stroke="#e8dc62" stroke-width="1.54" stroke-linecap="round" stroke-linejoin="round"/>
<path d="M90.0,719.0 L91.0,718.4 L92.4,717.6 L94.1,716.6 L95.9,715.4 L97.6,714.2 L99.0,713.0 L100.1,711.6 L101.1,710.0 L102.0,708.2 L102.9,706.6 L103.9,705.1 L105.0,704.0 L106.3,703.2 L107.8,702.8 L109.3,702.5 L110.9,702.3 L112.5,702.2 L114.0,702.0 L115.5,701.7 L117.0,701.4 L118.5,701.2 L120.0,701.0 L121.5,700.9 L123.0,701.0 L124.6,701.2 L126.2,701.6 L127.8,702.0 L129.4,702.6 L130.8,703.2 L132.0,704.0 L133.0,704.9 L133.8,706.1 L134.4,707.3 L135.0,708.6 L135.5,709.8 L136.0,711.0 L136.5,712.0 L137.0,713.0 L137.5,714.0 L137.9,715.0 L138.0,716.0 L138.0,717.0 L137.7,718.1 L137.1,719.3 L136.4,720.5 L135.6,721.7 L134.8,722.9 L134.0,724.0 L133.1,725.0 L132.1,726.0 L131.1,727.0 L130.1,728.0 L129.4,729.0 L129.0,730.0 L129.0,731.2 L129.3,732.4 L129.8,733.8 L130.5,735.0 L131.2,736.1 L132.0,737.0 L132.8,737.7 L133.7,738.2 L134.8,738.6 L135.8,738.8 L136.9,739.0 L138.0,739.0 L139.1,738.9 L140.3,738.6 L141.5,738.2 L142.7,737.8 L143.9,737.4 L145.0,737.0 L146.0,736.6 L147.0,736.2 L148.0,735.8 L149.0,735.4 L150.0,735.1 L151.0,735.0 L152.2,735.1 L153.5,735.4 L154.9,735.9 L156.1,736.3 L157.2,736.7 L158.0,737.0" fill="none" stroke="#aaa030" stroke-width="2.8" stroke-linecap="round" stroke-linejoin="round"/>
<path d="M90.0,719.0 L91.0,718.4 L92.4,717.6 L94.1,716.6 L95.9,715.4 L97.6,714.2 L99.0,713.0 L100.1,711.6 L101.1,710.0 L102.0,708.2 L102.9,706.6 L103.9,705.1 L105.0,704.0 L106.3,703.2 L107.8,702.8 L109.3,702.5 L110.9,702.3 L112.5,702.2 L114.0,702.0 L115.5,701.7 L117.0,701.4 L118.5,701.2 L120.0,701.0 L121.5,700.9 L123.0,701.0 L124.6,701.2 L126.2,701.6 L127.8,702.0 L129.4,702.6 L130.8,703.2 L132.0,704.0 L133.0,704.9 L133.8,706.1 L134.4,707.3 L135.0,708.6 L135.5,709.8 L136.0,711.0 L136.5,712.0 L137.0,713.0 L137.5,714.0 L137.9,715.0 L138.0,716.0 L138.0,717.0 L137.7,718.1 L137.1,719.3 L136.4,720.5 L135.6,721.7 L134.8,722.9 L134.0,724.0 L133.1,725.0 L132.1,726.0 L131.1,727.0 L130.1,728.0 L129.4,729.0 L129.0,730.0 L129.0,731.2 L129.3,732.4 L129.8,733.8 L130.5,735.0 L131.2,736.1 L132.0,737.0 L132.8,737.7 L133.7,738.2 L134.8,738.6 L135.8,738.8 L136.9,739.0 L138.0,739.0 L139.1,738.9 L140.3,738.6 L141.5,738.2 L142.7,737.8 L143.9,737.4 L145.0,737.0 L146.0,736.6 L147.0,736.2 L148.0,735.8 L149.0,735.4 L150.0,735.1 L151.0,735.0 L152.2,735.1 L153.5,735.4 L154.9,735.9 L156.1,736.3 L157.2,736.7 L158.0,737.0" fill="none" stroke="#e8dc62" stroke-width="1.54" stroke-linecap="round" stroke-linejoin="round"/>
<path d="M90.0,719.0 L90.8,719.6 L91.9,720.4 L93.1,721.4 L94.5,722.4 L95.8,723.3 L97.0,724.0 L98.1,724.6 L99.2,725.1 L100.3,725.6 L101.3,726.0 L102.2,726.1 L103.0,726.0 L103.6,725.6 L104.2,724.8 L104.6,723.9 L104.9,722.9 L105.1,721.9 L105.0,721.0 L104.6,720.2 L104.0,719.4 L103.1,718.7 L102.3,718.0 L101.5,717.4 L101.0,717.0" fill="none" stroke="#aaa030" stroke-width="2.8" stroke-linecap="round" stroke-linejoin="round"/>
<path d="M90.0,719.0 L90.8,719.6 L91.9,720.4 L93.1,721.4 L94.5,722.4 L95.8,723.3 L97.0,724.0 L98.1,724.6 L99.2,725.1 L100.3,725.6 L101.3,726.0 L102.2,726.1 L103.0,726.0 L103.6,725.6 L104.2,724.8 L104.6,723.9 L104.9,722.9 L105.1,721.9 L105.0,721.0 L104.6,720.2 L104.0,719.4 L103.1,718.7 L102.3,718.0 L101.5,717.4 L101.0,717.0" fill="none" stroke="#e8dc62" stroke-width="1.54" stroke-linecap="round" stroke-linejoin="round"/>
<path d="M112.0,704.0 L111.1,703.6 L109.7,703.0 L108.1,702.3 L106.6,701.6 L105.4,700.8 L105.0,700.0 L105.3,699.2 L106.1,698.2 L107.4,697.2 L108.9,696.3 L110.4,695.5 L112.0,695.0 L113.7,694.8 L115.8,694.9 L117.9,695.2 L120.0,695.5 L121.8,695.8 L123.0,696.0" fill="none" stroke="#aaa030" stroke-width="2.8" stroke-linecap="round" stroke-linejoin="round"/>
<path d="M112.0,704.0 L111.1,703.6 L109.7,703.0 L108.1,702.3 L106.6,701.6 L105.4,700.8 L105.0,700.0 L105.3,699.2 L106.1,698.2 L107.4,697.2 L108.9,696.3 L110.4,695.5 L112.0,695.0 L113.7,694.8 L115.8,694.9 L117.9,695.2 L120.0,695.5 L121.8,695.8 L123.0,696.0" fill="none" stroke="#e8dc62" stroke-width="1.54" stroke-linecap="round" stroke-linejoin="round"/>
<path d="M175.0,693.0 L176.0,693.2 L177.4,693.4 L179.0,693.7 L180.7,694.0 L182.5,694.5 L184.0,695.0 L185.4,695.6 L186.8,696.4 L188.1,697.2 L189.4,698.1 L190.7,699.1 L192.0,700.0 L193.3,700.9 L194.7,701.9 L196.1,702.9 L197.4,703.9 L198.4,704.9 L199.0,706.0 L199.3,707.2 L199.3,708.7 L199.0,710.2 L198.5,711.5 L197.8,712.5 L197.0,713.0 L195.8,712.7 L194.3,711.9 L192.6,710.6 L190.9,709.4 L189.3,708.4 L188.0,708.0 L187.0,708.2 L186.2,708.8 L185.5,709.7 L184.9,710.7 L184.4,711.9 L184.0,713.0 L183.7,714.2 L183.6,715.5 L183.6,716.9 L183.6,718.3 L183.4,719.7 L183.0,721.0 L182.3,722.3 L181.3,723.7 L180.2,725.0 L179.0,726.2 L177.9,727.2 L177.0,728.0 L176.2,728.4 L175.4,728.5 L174.6,728.4 L174.0,728.3 L173.4,728.1 L173.0,728.0" fill="none" stroke="#aaa030" stroke-width="2.8" stroke-linecap="round" stroke-linejoin="round"/>
<path d="M175.0,693.0 L176.0,693.2 L177.4,693.4 L179.0,693.7 L180.7,694.0 L182.5,694.5 L184.0,695.0 L185.4,695.6 L186.8,696.4 L188.1,697.2 L189.4,698.1 L190.7,699.1 L192.0,700.0 L193.3,700.9 L194.7,701.9 L196.1,702.9 L197.4,703.9 L198.4,704.9 L199.0,706.0 L199.3,707.2 L199.3,708.7 L199.0,710.2 L198.5,711.5 L197.8,712.5 L197.0,713.0 L195.8,712.7 L194.3,711.9 L192.6,710.6 L190.9,709.4 L189.3,708.4 L188.0,708.0 L187.0,708.2 L186.2,708.8 L185.5,709.7 L184.9,710.7 L184.4,711.9 L184.0,713.0 L183.7,714.2 L183.6,715.5 L183.6,716.9 L183.6,718.3 L183.4,719.7 L183.0,721.0 L182.3,722.3 L181.3,723.7 L180.2,725.0 L179.0,726.2 L177.9,727.2 L177.0,728.0 L176.2,728.4 L175.4,728.5 L174.6,728.4 L174.0,728.3 L173.4,728.1 L173.0,728.0" fill="none" stroke="#e8dc62" stroke-width="1.54" stroke-linecap="round" stroke-linejoin="round"/>
<path d="M197.0,706.0 L197.9,706.1 L199.0,706.3 L200.4,706.4 L202.0,706.6 L203.5,706.8 L205.0,707.0 L206.5,707.1 L208.0,707.2 L209.6,707.2 L211.1,707.4 L212.6,707.6 L214.0,708.0 L215.3,708.6 L216.7,709.5 L217.9,710.4 L219.1,711.4 L220.1,712.3 L221.0,713.0 L221.6,713.6 L222.0,714.2 L222.2,714.8 L222.4,715.1 L222.6,715.2 L223.0,715.0 L223.5,714.3 L224.1,713.3 L224.8,712.0 L225.5,710.6 L226.3,709.2 L227.0,708.0 L227.8,706.9 L228.6,705.9 L229.5,704.9 L230.4,703.9 L231.2,702.9 L232.0,702.0 L232.7,701.0 L233.4,700.0 L234.1,698.9 L234.7,698.0 L235.3,697.4 L236.0,697.0 L236.7,697.0 L237.4,697.3 L238.2,697.8 L238.9,698.5 L239.5,699.2 L240.0,700.0 L240.4,700.8 L240.7,701.7 L240.9,702.6 L241.1,703.7 L241.1,704.8 L241.0,706.0 L240.7,707.3 L240.3,708.8 L239.8,710.3 L239.2,711.9 L238.6,713.5 L238.0,715.0 L237.4,716.5 L236.7,718.1 L235.9,719.7 L235.2,721.2 L234.6,722.7 L234.0,724.0 L233.6,725.2 L233.2,726.2 L232.9,727.1 L232.7,728.0 L232.4,729.0 L232.0,730.0 L231.5,731.1 L231.0,732.2 L230.5,733.4 L230.0,734.6 L229.5,735.8 L229.0,737.0 L228.6,738.3 L228.3,739.6 L228.1,741.0 L227.8,742.4 L227.4,743.7 L227.0,745.0 L226.4,746.4 L225.7,748.1 L225.0,749.7 L224.3,751.0 L223.6,751.9 L223.0,752.0 L222.6,751.1 L222.2,749.4 L221.9,747.2 L221.6,744.8 L221.3,742.6 L221.0,741.0 L220.6,739.9 L220.3,739.0 L219.9,738.3 L219.5,737.8 L219.2,737.4 L219.0,737.0" fill="none" stroke="#aaa030" stroke-width="2.8" stroke-linecap="round" stroke-linejoin="round"/>
<path d="M197.0,706.0 L197.9,706.1 L199.0,706.3 L200.4,706.4 L202.0,706.6 L203.5,706.8 L205.0,707.0 L206.5,707.1 L208.0,707.2 L209.6,707.2 L211.1,707.4 L212.6,707.6 L214.0,708.0 L215.3,708.6 L216.7,709.5 L217.9,710.4 L219.1,711.4 L220.1,712.3 L221.0,713.0 L221.6,713.6 L222.0,714.2 L222.2,714.8 L222.4,715.1 L222.6,715.2 L223.0,715.0 L223.5,714.3 L224.1,713.3 L224.8,712.0 L225.5,710.6 L226.3,709.2 L227.0,708.0 L227.8,706.9 L228.6,705.9 L229.5,704.9 L230.4,703.9 L231.2,702.9 L232.0,702.0 L232.7,701.0 L233.4,700.0 L234.1,698.9 L234.7,698.0 L235.3,697.4 L236.0,697.0 L236.7,697.0 L237.4,697.3 L238.2,697.8 L238.9,698.5 L239.5,699.2 L240.0,700.0 L240.4,700.8 L240.7,701.7 L240.9,702.6 L241.1,703.7 L241.1,704.8 L241.0,706.0 L240.7,707.3 L240.3,708.8 L239.8,710.3 L239.2,711.9 L238.6,713.5 L238.0,715.0 L237.4,716.5 L236.7,718.1 L235.9,719.7 L235.2,721.2 L234.6,722.7 L234.0,724.0 L233.6,725.2 L233.2,726.2 L232.9,727.1 L232.7,728.0 L232.4,729.0 L232.0,730.0 L231.5,731.1 L231.0,732.2 L230.5,733.4 L230.0,734.6 L229.5,735.8 L229.0,737.0 L228.6,738.3 L228.3,739.6 L228.1,741.0 L227.8,742.4 L227.4,743.7 L227.0,745.0 L226.4,746.4 L225.7,748.1 L225.0,749.7 L224.3,751.0 L223.6,751.9 L223.0,752.0 L222.6,751.1 L222.2,749.4 L221.9,747.2 L221.6,744.8 L221.3,742.6 L221.0,741.0 L220.6,739.9 L220.3,739.0 L219.9,738.3 L219.5,737.8 L219.2,737.4 L219.0,737.0" fill="none" stroke="#e8dc62" stroke-width="1.54" stroke-linecap="round" stroke-linejoin="round"/>
<path d="M223.0,752.0 L222.9,752.8 L222.7,753.9 L222.6,755.2 L222.3,756.6 L221.8,757.9 L221.0,759.0 L219.9,759.9 L218.5,760.6 L216.9,761.3 L215.3,761.9 L213.6,762.5 L212.0,763.0 L210.5,763.4 L208.9,763.8 L207.3,764.1 L205.8,764.4 L204.3,764.7 L203.0,765.0 L201.8,765.3 L200.6,765.6 L199.6,765.8 L198.6,766.1 L197.7,766.5 L197.0,767.0 L196.4,767.7 L196.0,768.6 L195.6,769.6 L195.4,770.6 L195.2,771.4 L195.0,772.0" fill="none" stroke="#aaa030" stroke-width="2.8" stroke-linecap="round" stroke-linejoin="round"/>
<path d="M223.0,752.0 L222.9,752.8 L222.7,753.9 L222.6,755.2 L222.3,756.6 L221.8,757.9 L221.0,759.0 L219.9,759.9 L218.5,760.6 L216.9,761.3 L215.3,761.9 L213.6,762.5 L212.0,763.0 L210.5,763.4 L208.9,763.8 L207.3,764.1 L205.8,764.4 L204.3,764.7 L203.0,765.0 L201.8,765.3 L200.6,765.6 L199.6,765.8 L198.6,766.1 L197.7,766.5 L197.0,767.0 L196.4,767.7 L196.0,768.6 L195.6,769.6 L195.4,770.6 L195.2,771.4 L195.0,772.0" fill="none" stroke="#e8dc62" stroke-width="1.54" stroke-linecap="round" stroke-linejoin="round"/>
<path d="M221.0,680.0 L221.2,681.0 L221.4,682.4 L221.8,684.1 L222.1,685.9 L222.5,687.6 L223.0,689.0 L223.5,690.2 L224.0,691.4 L224.6,692.4 L225.2,693.4 L226.0,694.3 L227.0,695.0 L228.3,695.6 L230.0,696.0 L231.8,696.4 L233.5,696.6 L235.0,696.8 L236.0,697.0" fill="none" stroke="#aaa030" stroke-width="2.8" stroke-linecap="round" stroke-linejoin="round"/>
<path d="M221.0,680.0 L221.2,681.0 L221.4,682.4 L221.8,684.1 L222.1,685.9 L222.5,687.6 L223.0,689.0 L223.5,690.2 L224.0,691.4 L224.6,692.4 L225.2,693.4 L226.0,694.3 L227.0,695.0 L228.3,695.6 L230.0,696.0 L231.8,696.4 L233.5,696.6 L235.0,696.8 L236.0,697.0" fill="none" stroke="#e8dc62" stroke-width="1.54" stroke-linecap="round" stroke-linejoin="round"/>
<path d="M232.0,680.0 L233.0,680.4 L234.3,680.9 L235.9,681.6 L237.6,682.3 L239.0,683.1 L240.0,684.0 L240.6,685.0 L241.1,686.1 L241.3,687.4 L241.4,688.6 L241.3,689.9 L241.0,691.0 L240.5,692.1 L239.6,693.3 L238.6,694.4 L237.5,695.5 L236.6,696.4 L236.0,697.0" fill="none" stroke="#aaa030" stroke-width="2.8" stroke-linecap="round" stroke-linejoin="round"/>
<path d="M232.0,680.0 L233.0,680.4 L234.3,680.9 L235.9,681.6 L237.6,682.3 L239.0,683.1 L240.0,684.0 L240.6,685.0 L241.1,686.1 L241.3,687.4 L241.4,688.6 L241.3,689.9 L241.0,691.0 L240.5,692.1 L239.6,693.3 L238.6,694.4 L237.5,695.5 L236.6,696.4 L236.0,697.0" fill="none" stroke="#e8dc62" stroke-width="1.54" stroke-linecap="round" stroke-linejoin="round"/>
<path d="M184.0,680.0 L185.5,680.2 L187.6,680.5 L190.0,680.9 L192.6,681.3 L195.0,681.6 L197.0,682.0 L198.6,682.4 L200.1,682.8 L201.4,683.2 L202.6,683.6 L203.8,683.9 L205.0,684.0 L206.3,683.9 L207.7,683.6 L209.0,683.1 L210.2,682.7 L211.2,682.3 L212.0,682.0" fill="none" stroke="#aaa030" stroke-width="2.8" stroke-linecap="round" stroke-linejoin="round"/>
<path d="M184.0,680.0 L185.5,680.2 L187.6,680.5 L190.0,680.9 L192.6,681.3 L195.0,681.6 L197.0,682.0 L198.6,682.4 L200.1,682.8 L201.4,683.2 L202.6,683.6 L203.8,683.9 L205.0,684.0 L206.3,683.9 L207.7,683.6 L209.0,683.1 L210.2,682.7 L211.2,682.3 L212.0,682.0" fill="none" stroke="#e8dc62" stroke-width="1.54" stroke-linecap="round" stroke-linejoin="round"/>
<path d="M140.0,741.0 L141.0,740.6 L142.4,740.0 L144.1,739.3 L145.9,738.6 L147.6,737.8 L149.0,737.0 L150.3,736.0 L151.5,734.8 L152.6,733.6 L153.6,732.5 L154.4,731.9 L155.0,732.0 L155.2,732.9 L155.0,734.6 L154.7,736.6 L154.3,738.9 L154.0,741.1 L154.0,743.0 L154.2,744.7 L154.6,746.3 L155.1,747.9 L155.7,749.4 L156.3,750.8 L157.0,752.0 L157.8,753.0 L158.7,753.9 L159.7,754.6 L160.6,755.1 L161.4,755.6 L162.0,756.0" fill="none" stroke="#aaa030" stroke-width="2.8" stroke-linecap="round" stroke-linejoin="round"/>
<path d="M140.0,741.0 L141.0,740.6 L142.4,740.0 L144.1,739.3 L145.9,738.6 L147.6,737.8 L149.0,737.0 L150.3,736.0 L151.5,734.8 L152.6,733.6 L153.6,732.5 L154.4,731.9 L155.0,732.0 L155.2,732.9 L155.0,734.6 L154.7,736.6 L154.3,738.9 L154.0,741.1 L154.0,743.0 L154.2,744.7 L154.6,746.3 L155.1,747.9 L155.7,749.4 L156.3,750.8 L157.0,752.0 L157.8,753.0 L158.7,753.9 L159.7,754.6 L160.6,755.1 L161.4,755.6 L162.0,756.0" fill="none" stroke="#e8dc62" stroke-width="1.54" stroke-linecap="round" stroke-linejoin="round"/>
<path d="M172.0,664.0 L172.9,664.5 L174.1,665.1 L175.5,665.9 L177.0,666.7 L178.6,667.4 L180.0,668.0 L181.4,668.4 L182.7,668.7 L184.1,668.9 L185.5,669.1 L186.8,669.5 L188.0,670.0 L189.2,670.8 L190.4,671.9 L191.5,673.1 L192.5,674.3 L193.4,675.3 L194.0,676.0" fill="none" stroke="#aaa030" stroke-width="2.8" stroke-linecap="round" stroke-linejoin="round"/>
<path d="M172.0,664.0 L172.9,664.5 L174.1,665.1 L175.5,665.9 L177.0,666.7 L178.6,667.4 L180.0,668.0 L181.4,668.4 L182.7,668.7 L184.1,668.9 L185.5,669.1 L186.8,669.5 L188.0,670.0 L189.2,670.8 L190.4,671.9 L191.5,673.1 L192.5,674.3 L193.4,675.3 L194.0,676.0" fill="none" stroke="#e8dc62" stroke-width="1.54" stroke-linecap="round" stroke-linejoin="round"/>
<path d="M197.6,595.1 L198.0,595.2 L199.0,595.3 L200.5,595.7 L202.6,596.3 L205.0,597.1 L207.7,598.1 L210.5,599.3 L213.3,600.6 L216.0,602.0 L218.2,603.5 L220.1,605.0 L221.4,606.5 L222.1,607.9 L222.2,609.2 L224.7,597.6 L224.7,596.3 L224.0,594.9 L222.6,593.4 L220.8,591.9 L218.5,590.4 L215.9,589.0 L213.1,587.6 L210.3,586.5 L207.6,585.5 L205.1,584.7 L203.0,584.1 L201.5,583.7 L200.5,583.5 L200.2,583.5 Z" fill="#c8b028" stroke="#a89018" stroke-width="0.6"/>
<path d="M194.0,611.9 L194.3,611.9 L195.3,612.1 L196.9,612.5 L198.9,613.1 L201.4,613.9 L204.1,614.8 L206.9,616.0 L209.7,617.3 L212.3,618.7 L214.6,620.2 L216.5,621.7 L217.8,623.2 L218.5,624.6 L218.6,626.0 L221.1,614.3 L221.0,613.0 L220.3,611.6 L219.0,610.1 L217.1,608.6 L214.8,607.1 L212.2,605.7 L209.4,604.4 L206.6,603.2 L203.9,602.2 L201.5,601.4 L199.4,600.8 L197.8,600.4 L196.9,600.3 L196.5,600.2 Z" fill="#c8b028" stroke="#a89018" stroke-width="0.6"/>
<path d="M190.4,628.6 L190.7,628.6 L191.7,628.8 L193.2,629.2 L195.3,629.8 L197.7,630.6 L200.5,631.6 L203.3,632.7 L206.1,634.0 L208.7,635.5 L211.0,636.9 L212.8,638.5 L214.2,639.9 L214.9,641.4 L214.9,642.7 L217.5,631.1 L217.4,629.7 L216.7,628.3 L215.4,626.8 L213.5,625.3 L211.2,623.8 L208.6,622.4 L205.8,621.1 L203.0,619.9 L200.3,619.0 L197.8,618.2 L195.8,617.6 L194.2,617.2 L193.2,617.0 L192.9,617.0 Z" fill="#c8b028" stroke="#a89018" stroke-width="0.6"/>
<path d="M186.7,645.3 L187.1,645.3 L188.0,645.5 L189.6,645.9 L191.7,646.5 L194.1,647.3 L196.8,648.3 L199.6,649.5 L202.4,650.8 L205.0,652.2 L207.3,653.7 L209.2,655.2 L210.5,656.7 L211.2,658.1 L211.3,659.4 L213.8,647.8 L213.8,646.5 L213.0,645.0 L211.7,643.6 L209.9,642.0 L207.6,640.6 L205.0,639.1 L202.2,637.8 L199.3,636.7 L196.6,635.7 L194.2,634.9 L192.1,634.3 L190.6,633.9 L189.6,633.7 L189.3,633.7 Z" fill="#c8b028" stroke="#a89018" stroke-width="0.6"/>
<path d="M183.1,662.0 L183.4,662.1 L184.4,662.3 L186.0,662.6 L188.0,663.2 L190.5,664.0 L193.2,665.0 L196.0,666.2 L198.8,667.5 L201.4,668.9 L203.7,670.4 L205.6,671.9 L206.9,673.4 L207.6,674.8 L207.7,676.1 L210.2,664.5 L210.1,663.2 L209.4,661.8 L208.1,660.3 L206.2,658.8 L203.9,657.3 L201.3,655.9 L198.5,654.6 L195.7,653.4 L193.0,652.4 L190.6,651.6 L188.5,651.0 L186.9,650.6 L186.0,650.4 L185.6,650.4 Z" fill="#c8b028" stroke="#a89018" stroke-width="0.6"/>
<path d="M179.5,678.8 L179.5,678.8 L179.8,678.8 L180.2,678.9 L180.8,679.0 L181.5,679.2 L182.3,679.4 L183.3,679.6 L184.4,680.0 L185.6,680.3 L186.8,680.8 L188.2,681.2 L189.5,681.7 L191.0,682.3 L192.4,682.9 L194.9,671.3 L193.5,670.7 L192.1,670.1 L190.7,669.6 L189.4,669.1 L188.1,668.7 L186.9,668.3 L185.8,668.0 L184.9,667.7 L184.0,667.5 L183.3,667.4 L182.7,667.2 L182.3,667.2 L182.1,667.1 L182.0,667.1 Z" fill="#c8b028" stroke="#a89018" stroke-width="0.6"/>
<path d="M210.9,597.7 L209.3,597.7 L207.8,597.6 L206.4,597.5 L205.0,597.4 L203.6,597.3 L202.4,597.1 L201.3,597.0 L200.3,596.8 L199.4,596.6 L198.7,596.5 L198.1,596.4 L197.7,596.3 L197.5,596.2 L197.4,596.2 L200.4,582.5 L200.5,582.5 L200.7,582.6 L201.1,582.7 L201.7,582.8 L202.4,583.0 L203.3,583.1 L204.3,583.3 L205.4,583.4 L206.6,583.6 L207.9,583.7 L209.3,583.8 L210.8,583.9 L212.3,584.0 L213.9,584.1 Z" fill="#ecd030" stroke="#a89018" stroke-width="0.7"/>
<path d="M207.5,592.3 L206.1,592.2 L204.8,592.1 L203.5,591.9 L202.4,591.8 L201.4,591.6 L200.6,591.4 L199.8,591.3 L199.3,591.2" fill="none" stroke="#fff490" stroke-width="3.9" stroke-linecap="round" opacity="0.85"/>
<path d="M222.0,610.3 L221.4,611.4 L220.1,612.4 L218.3,613.2 L216.0,613.8 L213.3,614.2 L210.3,614.4 L207.2,614.5 L204.2,614.4 L201.3,614.1 L198.8,613.8 L196.6,613.5 L195.1,613.2 L194.1,613.0 L193.8,612.9 L196.7,599.2 L197.1,599.3 L198.0,599.5 L199.6,599.8 L201.7,600.2 L204.3,600.5 L207.2,600.7 L210.2,600.8 L213.3,600.8 L216.3,600.6 L219.0,600.2 L221.3,599.5 L223.1,598.7 L224.4,597.7 L225.0,596.6 Z" fill="#ecd030" stroke="#a89018" stroke-width="0.7"/>
<path d="M219.4,608.0 L217.1,608.6 L214.4,609.0 L211.5,609.2 L208.4,609.3 L205.3,609.2 L202.5,608.9 L199.9,608.6 L197.8,608.3" fill="none" stroke="#fff490" stroke-width="3.9" stroke-linecap="round" opacity="0.85"/>
<path d="M218.3,627.0 L217.7,628.2 L216.5,629.2 L214.7,630.0 L212.4,630.6 L209.7,631.0 L206.7,631.2 L203.6,631.2 L200.6,631.1 L197.7,630.9 L195.1,630.6 L193.0,630.3 L191.4,630.0 L190.5,629.7 L190.1,629.6 L193.1,615.9 L193.4,616.0 L194.4,616.3 L196.0,616.6 L198.1,616.9 L200.7,617.2 L203.5,617.4 L206.6,617.5 L209.7,617.5 L212.6,617.3 L215.3,616.9 L217.7,616.3 L219.5,615.5 L220.7,614.5 L221.3,613.3 Z" fill="#ecd030" stroke="#a89018" stroke-width="0.7"/>
<path d="M215.8,624.8 L213.5,625.4 L210.8,625.8 L207.8,626.0 L204.7,626.0 L201.7,625.9 L198.8,625.7 L196.3,625.4 L194.1,625.1" fill="none" stroke="#fff490" stroke-width="3.9" stroke-linecap="round" opacity="0.85"/>
<path d="M214.7,643.7 L214.1,644.9 L212.9,645.9 L211.0,646.7 L208.7,647.3 L206.0,647.7 L203.1,647.9 L200.0,647.9 L196.9,647.8 L194.1,647.6 L191.5,647.3 L189.4,647.0 L187.8,646.7 L186.8,646.5 L186.5,646.3 L189.5,632.7 L189.8,632.8 L190.8,633.0 L192.4,633.3 L194.5,633.6 L197.0,633.9 L199.9,634.1 L202.9,634.2 L206.0,634.2 L209.0,634.0 L211.7,633.6 L214.0,633.0 L215.8,632.2 L217.1,631.2 L217.7,630.0 Z" fill="#ecd030" stroke="#a89018" stroke-width="0.7"/>
<path d="M212.2,641.5 L209.9,642.1 L207.1,642.5 L204.2,642.7 L201.1,642.7 L198.1,642.6 L195.2,642.4 L192.6,642.1 L190.5,641.8" fill="none" stroke="#fff490" stroke-width="3.9" stroke-linecap="round" opacity="0.85"/>
<path d="M211.1,660.4 L210.5,661.6 L209.2,662.6 L207.4,663.4 L205.1,664.0 L202.4,664.4 L199.4,664.6 L196.3,664.7 L193.3,664.5 L190.4,664.3 L187.9,664.0 L185.7,663.7 L184.2,663.4 L183.2,663.2 L182.9,663.1 L185.8,649.4 L186.2,649.5 L187.1,649.7 L188.7,650.0 L190.8,650.3 L193.4,650.6 L196.3,650.9 L199.3,651.0 L202.4,650.9 L205.4,650.7 L208.1,650.3 L210.4,649.7 L212.2,648.9 L213.4,647.9 L214.0,646.8 Z" fill="#ecd030" stroke="#a89018" stroke-width="0.7"/>
<path d="M208.5,658.2 L206.2,658.8 L203.5,659.2 L200.5,659.4 L197.5,659.5 L194.4,659.3 L191.5,659.1 L189.0,658.8 L186.9,658.5" fill="none" stroke="#fff490" stroke-width="3.9" stroke-linecap="round" opacity="0.85"/>
<path d="M207.4,677.2 L206.8,678.3 L205.6,679.3 L203.8,680.1 L201.5,680.7 L198.7,681.1 L195.8,681.3 L192.7,681.4 L189.7,681.3 L186.8,681.0 L184.2,680.7 L182.1,680.4 L180.5,680.1 L179.6,679.9 L179.2,679.8 L182.2,666.1 L182.5,666.2 L183.5,666.5 L185.1,666.8 L187.2,667.1 L189.8,667.4 L192.6,667.6 L195.7,667.7 L198.8,667.7 L201.7,667.5 L204.4,667.1 L206.7,666.5 L208.6,665.7 L209.8,664.7 L210.4,663.5 Z" fill="#ecd030" stroke="#a89018" stroke-width="0.7"/>
<path d="M204.9,674.9 L202.6,675.5 L199.9,675.9 L196.9,676.1 L193.8,676.2 L190.8,676.1 L187.9,675.8 L185.4,675.6 L183.2,675.2" fill="none" stroke="#fff490" stroke-width="3.9" stroke-linecap="round" opacity="0.85"/>
<path d="M158.4,682.2 L158.5,682.5 L159.0,683.1 L159.9,683.9 L161.0,685.0 L162.4,686.4 L163.9,688.0 L165.4,689.7 L166.8,691.6 L168.1,693.4 L169.2,695.2 L169.9,696.9 L170.3,698.5 L170.3,699.8 L169.9,700.8 L175.6,692.4 L176.1,691.4 L176.1,690.0 L175.7,688.5 L174.9,686.8 L173.9,685.0 L172.6,683.1 L171.1,681.3 L169.6,679.6 L168.1,678.0 L166.8,676.6 L165.6,675.5 L164.8,674.6 L164.2,674.1 L164.1,673.8 Z" fill="#c8b028" stroke="#a89018" stroke-width="0.6"/>
<path d="M148.4,696.9 L148.4,697.0 L148.5,697.2 L148.7,697.4 L149.0,697.7 L149.4,698.1 L149.9,698.6 L150.4,699.1 L151.0,699.7 L151.7,700.4 L152.4,701.1 L153.1,701.9 L153.9,702.7 L154.6,703.5 L155.4,704.4 L161.1,696.0 L160.4,695.1 L159.6,694.2 L158.8,693.4 L158.1,692.7 L157.4,691.9 L156.8,691.3 L156.2,690.7 L155.6,690.2 L155.1,689.7 L154.8,689.3 L154.4,689.0 L154.2,688.7 L154.1,688.6 L154.1,688.5 Z" fill="#c8b028" stroke="#a89018" stroke-width="0.6"/>
<path d="M167.4,686.8 L166.3,686.4 L165.2,686.0 L164.2,685.6 L163.2,685.2 L162.3,684.8 L161.4,684.4 L160.7,684.1 L160.0,683.8 L159.4,683.5 L158.9,683.3 L158.4,683.1 L158.1,683.0 L157.9,683.0 L157.9,683.0 L164.6,673.1 L164.7,673.1 L164.9,673.1 L165.2,673.2 L165.6,673.4 L166.1,673.6 L166.7,673.9 L167.4,674.2 L168.2,674.5 L169.0,674.9 L170.0,675.3 L170.9,675.7 L172.0,676.1 L173.0,676.5 L174.1,676.9 Z" fill="#ecd030" stroke="#a89018" stroke-width="0.7"/>
<path d="M166.8,681.8 L165.8,681.4 L164.9,681.0 L164.0,680.7 L163.2,680.3 L162.5,680.0 L161.9,679.7 L161.4,679.5 L161.0,679.4" fill="none" stroke="#fff490" stroke-width="3.4" stroke-linecap="round" opacity="0.85"/>
<path d="M169.4,701.6 L168.5,702.4 L167.3,702.9 L165.7,703.1 L163.9,703.0 L161.8,702.7 L159.6,702.1 L157.4,701.4 L155.2,700.7 L153.2,699.9 L151.4,699.1 L150.0,698.4 L148.9,698.0 L148.1,697.7 L147.9,697.7 L154.6,687.7 L154.9,687.8 L155.6,688.0 L156.7,688.5 L158.2,689.2 L160.0,690.0 L162.0,690.8 L164.1,691.5 L166.4,692.2 L168.6,692.7 L170.6,693.1 L172.5,693.2 L174.1,693.0 L175.3,692.5 L176.1,691.7 Z" fill="#ecd030" stroke="#a89018" stroke-width="0.7"/>
<path d="M168.3,699.3 L166.4,699.2 L164.4,698.9 L162.2,698.4 L159.9,697.7 L157.8,696.9 L155.8,696.1 L154.0,695.3 L152.5,694.7" fill="none" stroke="#fff490" stroke-width="3.4" stroke-linecap="round" opacity="0.85"/>
<path d="M166.0,765.8 L166.4,765.8 L167.2,765.4 L168.3,764.7 L169.8,763.6 L171.6,762.4 L173.6,761.0 L175.7,759.6 L178.0,758.3 L180.3,757.2 L182.5,756.3 L184.6,755.8 L186.4,755.6 L188.0,755.8 L189.3,756.5 L180.7,749.5 L179.5,748.8 L177.9,748.6 L176.0,748.7 L174.0,749.3 L171.7,750.2 L169.5,751.3 L167.2,752.6 L165.0,754.0 L163.0,755.4 L161.2,756.6 L159.8,757.7 L158.6,758.4 L157.8,758.8 L157.4,758.8 Z" fill="#c8b028" stroke="#a89018" stroke-width="0.6"/>
<path d="M184.6,781.2 L184.8,781.2 L185.0,781.2 L185.4,781.0 L185.8,780.8 L186.4,780.4 L187.0,780.0 L187.7,779.5 L188.5,779.0 L189.3,778.4 L190.2,777.7 L191.2,777.0 L192.2,776.4 L193.3,775.7 L194.4,775.0 L185.9,768.0 L184.8,768.6 L183.7,769.3 L182.7,770.0 L181.7,770.7 L180.8,771.3 L179.9,771.9 L179.1,772.5 L178.4,773.0 L177.8,773.4 L177.3,773.7 L176.9,774.0 L176.5,774.2 L176.2,774.2 L176.1,774.2 Z" fill="#c8b028" stroke="#a89018" stroke-width="0.6"/>
<path d="M170.9,755.7 L170.4,756.9 L170.0,758.1 L169.5,759.2 L169.0,760.3 L168.6,761.3 L168.1,762.3 L167.7,763.1 L167.4,763.9 L167.1,764.6 L166.9,765.2 L166.7,765.7 L166.6,766.0 L166.6,766.3 L166.7,766.5 L156.7,758.2 L156.6,758.1 L156.6,757.8 L156.7,757.4 L156.8,756.9 L157.1,756.4 L157.4,755.7 L157.7,754.9 L158.1,754.0 L158.5,753.1 L159.0,752.0 L159.4,751.0 L159.9,749.8 L160.4,748.6 L160.8,747.4 Z" fill="#ecd030" stroke="#a89018" stroke-width="0.7"/>
<path d="M165.7,756.1 L165.2,757.2 L164.7,758.2 L164.3,759.1 L163.9,760.0 L163.6,760.8 L163.3,761.5 L163.1,762.1 L162.9,762.5" fill="none" stroke="#fff490" stroke-width="3.6" stroke-linecap="round" opacity="0.85"/>
<path d="M190.0,757.1 L190.9,758.2 L191.5,759.7 L191.6,761.6 L191.5,763.7 L191.1,766.1 L190.4,768.5 L189.6,771.0 L188.6,773.4 L187.7,775.6 L186.8,777.6 L186.1,779.3 L185.5,780.5 L185.3,781.4 L185.4,781.8 L175.3,773.5 L175.3,773.1 L175.5,772.3 L176.0,771.0 L176.8,769.4 L177.6,767.4 L178.6,765.1 L179.5,762.7 L180.4,760.3 L181.0,757.8 L181.5,755.5 L181.6,753.3 L181.4,751.5 L180.9,750.0 L180.0,748.9 Z" fill="#ecd030" stroke="#a89018" stroke-width="0.7"/>
<path d="M187.8,758.4 L187.7,760.6 L187.3,762.9 L186.6,765.4 L185.7,767.9 L184.8,770.3 L183.9,772.5 L183.0,774.5 L182.2,776.1" fill="none" stroke="#fff490" stroke-width="3.6" stroke-linecap="round" opacity="0.85"/>
<path d="M150.0,776.0 L150.7,776.9 L151.6,778.2 L152.6,779.8 L153.8,781.3 L154.9,782.8 L156.0,784.0 L157.1,784.9 L158.2,785.8 L159.4,786.5 L160.4,787.1 L161.3,787.6 L162.0,788.0" fill="none" stroke="#7c7c7c" stroke-width="3.0" stroke-linecap="round" stroke-linejoin="round"/>
<path d="M150.0,776.0 L150.7,776.9 L151.6,778.2 L152.6,779.8 L153.8,781.3 L154.9,782.8 L156.0,784.0 L157.1,784.9 L158.2,785.8 L159.4,786.5 L160.4,787.1 L161.3,787.6 L162.0,788.0" fill="none" stroke="#c4c4c4" stroke-width="1.65" stroke-linecap="round" stroke-linejoin="round"/>
<path d="M199.0,756.0 L199.6,756.7 L200.5,757.8 L201.5,759.0 L202.5,760.2 L203.4,761.3 L204.0,762.0" fill="none" stroke="#7c7c7c" stroke-width="3.0" stroke-linecap="round" stroke-linejoin="round"/>
<path d="M199.0,756.0 L199.6,756.7 L200.5,757.8 L201.5,759.0 L202.5,760.2 L203.4,761.3 L204.0,762.0" fill="none" stroke="#c4c4c4" stroke-width="1.65" stroke-linecap="round" stroke-linejoin="round"/>
<path d="M317.7,609.0 L317.9,608.3 L318.0,607.3 L318.3,606.2 L318.6,604.9 L319.1,603.7 L319.9,602.5 L320.9,601.3 L322.2,600.1 L323.7,598.9 L325.3,597.7 L326.9,596.7 L328.6,595.9 L330.3,595.4 L332.0,595.0 L333.8,594.8 L335.6,594.7 L337.5,594.7 L339.5,594.8 L341.7,594.9 L344.0,595.2 L346.5,595.5 L348.8,595.9 L350.9,596.4 L352.6,597.0 L353.9,597.7 L355.0,598.6 L355.8,599.6 L356.3,600.6 L356.7,601.6 L357.0,602.5 L357.0,603.3 L356.7,604.2 L356.2,605.0 L355.6,605.7 L355.1,606.3 L354.8,606.8" fill="none" stroke="#7c7c7c" stroke-width="2.6" stroke-linecap="round" stroke-linejoin="round"/>
<path d="M317.7,609.0 L317.9,608.3 L318.0,607.3 L318.3,606.2 L318.6,604.9 L319.1,603.7 L319.9,602.5 L320.9,601.3 L322.2,600.1 L323.7,598.9 L325.3,597.7 L326.9,596.7 L328.6,595.9 L330.3,595.4 L332.0,595.0 L333.8,594.8 L335.6,594.7 L337.5,594.7 L339.5,594.8 L341.7,594.9 L344.0,595.2 L346.5,595.5 L348.8,595.9 L350.9,596.4 L352.6,597.0 L353.9,597.7 L355.0,598.6 L355.8,599.6 L356.3,600.6 L356.7,601.6 L357.0,602.5 L357.0,603.3 L356.7,604.2 L356.2,605.0 L355.6,605.7 L355.1,606.3 L354.8,606.8" fill="none" stroke="#c4c4c4" stroke-width="1.43" stroke-linecap="round" stroke-linejoin="round"/>
<path d="M405.9,600.3 L406.6,599.9 L407.5,599.3 L408.5,598.6 L409.7,597.9 L411.1,597.3 L412.5,597.0 L414.1,596.9 L415.9,596.9 L417.8,597.1 L419.8,597.3 L421.7,597.7 L423.4,598.1 L425.1,598.6 L426.7,599.2 L428.3,600.0 L429.8,600.8 L431.1,601.6 L432.1,602.5 L432.9,603.5 L433.6,604.5 L434.0,605.6 L434.3,606.7 L434.4,607.9 L434.3,609.0 L433.9,610.2 L433.2,611.6 L432.3,612.9 L431.4,614.2 L430.5,615.2 L430.0,616.0" fill="none" stroke="#7c7c7c" stroke-width="2.6" stroke-linecap="round" stroke-linejoin="round"/>
<path d="M405.9,600.3 L406.6,599.9 L407.5,599.3 L408.5,598.6 L409.7,597.9 L411.1,597.3 L412.5,597.0 L414.1,596.9 L415.9,596.9 L417.8,597.1 L419.8,597.3 L421.7,597.7 L423.4,598.1 L425.1,598.6 L426.7,599.2 L428.3,600.0 L429.8,600.8 L431.1,601.6 L432.1,602.5 L432.9,603.5 L433.6,604.5 L434.0,605.6 L434.3,606.7 L434.4,607.9 L434.3,609.0 L433.9,610.2 L433.2,611.6 L432.3,612.9 L431.4,614.2 L430.5,615.2 L430.0,616.0" fill="none" stroke="#c4c4c4" stroke-width="1.43" stroke-linecap="round" stroke-linejoin="round"/>
<path d="M464.8,617.7 L465.5,617.9 L466.6,618.0 L467.8,618.3 L469.1,618.6 L470.4,619.1 L471.4,619.9 L472.3,621.0 L473.2,622.3 L474.1,623.8 L474.8,625.5 L475.4,627.1 L475.7,628.6 L475.6,630.1 L475.2,631.7 L474.6,633.3 L474.1,634.8 L473.7,636.2 L473.6,637.4 L473.9,638.4 L474.4,639.3 L475.1,640.1 L475.9,640.8 L476.9,641.3 L477.9,641.7 L479.1,641.9 L480.6,641.9 L482.2,641.7 L483.9,641.5 L485.3,641.5 L486.6,641.7 L487.7,642.2 L488.6,642.8 L489.5,643.5 L490.2,644.3 L490.7,645.2 L491.0,646.1 L491.0,647.1 L490.8,648.3 L490.4,649.5 L489.9,650.7 L489.4,651.7 L488.8,652.6 L488.2,653.2 L487.4,653.7 L486.5,654.1 L485.7,654.4 L485.0,654.6 L484.5,654.8" fill="none" stroke="#7c7c7c" stroke-width="2.6" stroke-linecap="round" stroke-linejoin="round"/>
<path d="M464.8,617.7 L465.5,617.9 L466.6,618.0 L467.8,618.3 L469.1,618.6 L470.4,619.1 L471.4,619.9 L472.3,621.0 L473.2,622.3 L474.1,623.8 L474.8,625.5 L475.4,627.1 L475.7,628.6 L475.6,630.1 L475.2,631.7 L474.6,633.3 L474.1,634.8 L473.7,636.2 L473.6,637.4 L473.9,638.4 L474.4,639.3 L475.1,640.1 L475.9,640.8 L476.9,641.3 L477.9,641.7 L479.1,641.9 L480.6,641.9 L482.2,641.7 L483.9,641.5 L485.3,641.5 L486.6,641.7 L487.7,642.2 L488.6,642.8 L489.5,643.5 L490.2,644.3 L490.7,645.2 L491.0,646.1 L491.0,647.1 L490.8,648.3 L490.4,649.5 L489.9,650.7 L489.4,651.7 L488.8,652.6 L488.2,653.2 L487.4,653.7 L486.5,654.1 L485.7,654.4 L485.0,654.6 L484.5,654.8" fill="none" stroke="#c4c4c4" stroke-width="1.43" stroke-linecap="round" stroke-linejoin="round"/>
<path d="M477.9,672.3 L478.8,673.1 L480.2,674.4 L481.7,675.8 L483.4,677.2 L485.0,678.3 L486.6,678.8 L488.1,678.6 L489.6,677.9 L491.1,676.9 L492.6,675.9 L494.1,675.0 L495.4,674.5 L496.7,674.4 L498.1,674.6 L499.3,674.9 L500.5,675.3 L501.3,675.9 L501.9,676.6 L502.1,677.5 L502.1,678.8 L501.7,680.2 L501.2,681.5 L500.5,682.6 L499.7,683.2 L498.5,683.3 L497.0,683.0 L495.2,682.5 L493.5,681.9 L492.0,681.3 L491.0,681.0" fill="none" stroke="#7c7c7c" stroke-width="2.6" stroke-linecap="round" stroke-linejoin="round"/>
<path d="M477.9,672.3 L478.8,673.1 L480.2,674.4 L481.7,675.8 L483.4,677.2 L485.0,678.3 L486.6,678.8 L488.1,678.6 L489.6,677.9 L491.1,676.9 L492.6,675.9 L494.1,675.0 L495.4,674.5 L496.7,674.4 L498.1,674.6 L499.3,674.9 L500.5,675.3 L501.3,675.9 L501.9,676.6 L502.1,677.5 L502.1,678.8 L501.7,680.2 L501.2,681.5 L500.5,682.6 L499.7,683.2 L498.5,683.3 L497.0,683.0 L495.2,682.5 L493.5,681.9 L492.0,681.3 L491.0,681.0" fill="none" stroke="#c4c4c4" stroke-width="1.43" stroke-linecap="round" stroke-linejoin="round"/>
<path d="M449.5,667.9 L449.2,669.1 L448.7,670.7 L448.2,672.7 L447.7,674.8 L447.4,676.9 L447.4,678.8 L447.7,680.6 L448.4,682.4 L449.1,684.1 L450.0,685.9 L450.9,687.8 L451.7,689.7 L452.5,691.9 L453.3,694.4 L454.2,696.9 L455.0,699.3 L455.6,701.3 L456.1,702.8" fill="none" stroke="#7c7c7c" stroke-width="2.6" stroke-linecap="round" stroke-linejoin="round"/>
<path d="M449.5,667.9 L449.2,669.1 L448.7,670.7 L448.2,672.7 L447.7,674.8 L447.4,676.9 L447.4,678.8 L447.7,680.6 L448.4,682.4 L449.1,684.1 L450.0,685.9 L450.9,687.8 L451.7,689.7 L452.5,691.9 L453.3,694.4 L454.2,696.9 L455.0,699.3 L455.6,701.3 L456.1,702.8" fill="none" stroke="#c4c4c4" stroke-width="1.43" stroke-linecap="round" stroke-linejoin="round"/>
<path d="M460.5,672.3 L460.8,673.5 L461.2,675.1 L461.7,677.1 L462.1,679.2 L462.5,681.3 L462.6,683.2 L462.4,685.0 L462.0,686.9 L461.4,688.8 L460.9,690.6 L460.5,692.4 L460.5,694.1 L460.9,695.8 L461.6,697.5 L462.5,699.1 L463.4,700.6 L464.3,701.9 L464.8,702.8" fill="none" stroke="#7c7c7c" stroke-width="2.6" stroke-linecap="round" stroke-linejoin="round"/>
<path d="M460.5,672.3 L460.8,673.5 L461.2,675.1 L461.7,677.1 L462.1,679.2 L462.5,681.3 L462.6,683.2 L462.4,685.0 L462.0,686.9 L461.4,688.8 L460.9,690.6 L460.5,692.4 L460.5,694.1 L460.9,695.8 L461.6,697.5 L462.5,699.1 L463.4,700.6 L464.3,701.9 L464.8,702.8" fill="none" stroke="#c4c4c4" stroke-width="1.43" stroke-linecap="round" stroke-linejoin="round"/>
<path d="M429.9,755.5 L430.7,755.7 L431.8,756.0 L433.1,756.3 L434.4,756.7 L435.6,757.1 L436.5,757.6 L437.2,758.2 L437.7,758.8 L438.1,759.5 L438.4,760.3 L438.5,761.1 L438.6,762.0 L438.4,763.0 L438.0,764.1 L437.4,765.3 L436.9,766.5 L436.5,767.6 L436.5,768.6 L436.8,769.5 L437.3,770.3 L438.0,771.1 L438.8,771.8 L439.8,772.4 L440.8,772.9 L442.0,773.3 L443.3,773.6 L444.7,773.8 L446.3,773.9 L447.9,774.0 L449.5,774.0 L451.3,773.9 L453.2,773.6 L455.1,773.2 L457.1,772.9 L458.9,772.8 L460.5,772.9 L461.9,773.3 L463.2,773.9 L464.3,774.6 L465.3,775.5 L466.2,776.4 L467.0,777.3 L467.7,778.3 L468.4,779.4 L468.9,780.5 L469.3,781.7 L469.4,782.8 L469.2,783.8 L468.6,784.7 L467.7,785.7 L466.6,786.5 L465.3,787.3 L463.9,787.9 L462.6,788.2 L461.3,788.2 L459.9,788.0 L458.4,787.6 L456.9,787.1 L455.4,786.6 L453.9,786.0 L452.4,785.3 L451.0,784.5 L449.5,783.5 L448.1,782.7 L446.6,782.0 L445.2,781.6 L443.8,781.6 L442.3,782.0 L440.9,782.6 L439.4,783.1 L438.0,783.6 L436.5,783.8 L435.1,783.7 L433.7,783.5 L432.2,783.1 L430.8,782.7 L429.3,782.1 L427.7,781.6 L426.0,780.9 L424.1,780.1 L422.1,779.2 L420.2,778.3 L418.4,777.7 L416.8,777.3 L415.4,777.2 L414.1,777.4 L413.0,777.7 L412.0,778.2 L411.1,778.8 L410.3,779.5 L409.6,780.3 L409.0,781.3 L408.5,782.5 L408.2,783.7 L408.0,784.9 L408.1,786.0 L408.4,787.1 L408.9,788.4 L409.6,789.6 L410.5,790.7 L411.4,791.8 L412.5,792.6 L413.7,793.2 L415.1,793.6 L416.6,793.9 L418.1,794.2 L419.7,794.4 L421.2,794.7 L422.6,795.1 L424.1,795.6 L425.5,796.1 L427.0,796.5 L428.4,796.8 L429.9,796.9 L431.4,796.8 L432.9,796.5 L434.4,796.1 L435.9,795.6 L437.3,795.1 L438.6,794.7 L439.9,794.3 L441.2,793.9 L442.4,793.5 L443.6,793.1 L444.5,792.8 L445.2,792.6" fill="none" stroke="#7c7c7c" stroke-width="2.6" stroke-linecap="round" stroke-linejoin="round"/>
<path d="M429.9,755.5 L430.7,755.7 L431.8,756.0 L433.1,756.3 L434.4,756.7 L435.6,757.1 L436.5,757.6 L437.2,758.2 L437.7,758.8 L438.1,759.5 L438.4,760.3 L438.5,761.1 L438.6,762.0 L438.4,763.0 L438.0,764.1 L437.4,765.3 L436.9,766.5 L436.5,767.6 L436.5,768.6 L436.8,769.5 L437.3,770.3 L438.0,771.1 L438.8,771.8 L439.8,772.4 L440.8,772.9 L442.0,773.3 L443.3,773.6 L444.7,773.8 L446.3,773.9 L447.9,774.0 L449.5,774.0 L451.3,773.9 L453.2,773.6 L455.1,773.2 L457.1,772.9 L458.9,772.8 L460.5,772.9 L461.9,773.3 L463.2,773.9 L464.3,774.6 L465.3,775.5 L466.2,776.4 L467.0,777.3 L467.7,778.3 L468.4,779.4 L468.9,780.5 L469.3,781.7 L469.4,782.8 L469.2,783.8 L468.6,784.7 L467.7,785.7 L466.6,786.5 L465.3,787.3 L463.9,787.9 L462.6,788.2 L461.3,788.2 L459.9,788.0 L458.4,787.6 L456.9,787.1 L455.4,786.6 L453.9,786.0 L452.4,785.3 L451.0,784.5 L449.5,783.5 L448.1,782.7 L446.6,782.0 L445.2,781.6 L443.8,781.6 L442.3,782.0 L440.9,782.6 L439.4,783.1 L438.0,783.6 L436.5,783.8 L435.1,783.7 L433.7,783.5 L432.2,783.1 L430.8,782.7 L429.3,782.1 L427.7,781.6 L426.0,780.9 L424.1,780.1 L422.1,779.2 L420.2,778.3 L418.4,777.7 L416.8,777.3 L415.4,777.2 L414.1,777.4 L413.0,777.7 L412.0,778.2 L411.1,778.8 L410.3,779.5 L409.6,780.3 L409.0,781.3 L408.5,782.5 L408.2,783.7 L408.0,784.9 L408.1,786.0 L408.4,787.1 L408.9,788.4 L409.6,789.6 L410.5,790.7 L411.4,791.8 L412.5,792.6 L413.7,793.2 L415.1,793.6 L416.6,793.9 L418.1,794.2 L419.7,794.4 L421.2,794.7 L422.6,795.1 L424.1,795.6 L425.5,796.1 L427.0,796.5 L428.4,796.8 L429.9,796.9 L431.4,796.8 L432.9,796.5 L434.4,796.1 L435.9,795.6 L437.3,795.1 L438.6,794.7 L439.9,794.3 L441.2,793.9 L442.4,793.5 L443.6,793.1 L444.5,792.8 L445.2,792.6" fill="none" stroke="#c4c4c4" stroke-width="1.43" stroke-linecap="round" stroke-linejoin="round"/>
<path d="M438.6,720.5 L439.3,720.8 L440.3,721.2 L441.5,721.7 L442.8,722.2 L444.0,722.6 L445.2,722.7 L446.3,722.5 L447.4,722.0 L448.4,721.5 L449.5,720.9 L450.6,720.5 L451.7,720.5 L452.8,720.8 L454.1,721.3 L455.3,722.0 L456.4,722.9 L457.5,723.8 L458.3,724.9 L459.0,726.1 L459.6,727.6 L460.1,729.1 L460.4,730.7 L460.6,732.2 L460.5,733.6 L460.2,734.9 L459.6,736.2 L458.8,737.4 L458.0,738.6 L457.0,739.5 L456.1,740.2 L455.1,740.7 L454.0,740.9 L452.8,741.0 L451.6,740.9 L450.5,740.7 L449.5,740.2 L448.6,739.5 L447.7,738.5 L446.8,737.3 L446.1,736.0 L445.5,734.8 L445.2,733.6 L445.1,732.4 L445.3,731.2 L445.6,730.0 L446.1,728.9 L446.7,727.9 L447.4,727.1 L448.2,726.6 L449.2,726.2 L450.2,725.9 L451.4,725.8 L452.6,725.9 L453.9,726.0 L455.2,726.3 L456.7,726.7 L458.2,727.2 L459.8,727.8 L461.2,728.5 L462.6,729.3 L463.9,730.2 L465.1,731.2 L466.3,732.3 L467.4,733.5 L468.4,734.7 L469.2,735.8 L469.9,736.9 L470.5,738.0 L471.0,739.1 L471.3,740.2 L471.5,741.3 L471.4,742.4 L471.1,743.5 L470.5,744.7 L469.7,745.8 L468.9,746.9 L467.9,747.9 L467.0,748.9 L466.1,749.8 L465.1,750.7 L464.0,751.5 L462.9,752.2 L461.7,752.8 L460.5,753.3 L459.1,753.6 L457.7,753.7 L456.1,753.7 L454.5,753.6 L453.1,753.5 L451.7,753.3 L450.4,753.0 L449.1,752.6 L447.9,752.2 L446.8,751.8 L445.9,751.4 L445.2,751.1" fill="none" stroke="#7c7c7c" stroke-width="2.6" stroke-linecap="round" stroke-linejoin="round"/>
<path d="M438.6,720.5 L439.3,720.8 L440.3,721.2 L441.5,721.7 L442.8,722.2 L444.0,722.6 L445.2,722.7 L446.3,722.5 L447.4,722.0 L448.4,721.5 L449.5,720.9 L450.6,720.5 L451.7,720.5 L452.8,720.8 L454.1,721.3 L455.3,722.0 L456.4,722.9 L457.5,723.8 L458.3,724.9 L459.0,726.1 L459.6,727.6 L460.1,729.1 L460.4,730.7 L460.6,732.2 L460.5,733.6 L460.2,734.9 L459.6,736.2 L458.8,737.4 L458.0,738.6 L457.0,739.5 L456.1,740.2 L455.1,740.7 L454.0,740.9 L452.8,741.0 L451.6,740.9 L450.5,740.7 L449.5,740.2 L448.6,739.5 L447.7,738.5 L446.8,737.3 L446.1,736.0 L445.5,734.8 L445.2,733.6 L445.1,732.4 L445.3,731.2 L445.6,730.0 L446.1,728.9 L446.7,727.9 L447.4,727.1 L448.2,726.6 L449.2,726.2 L450.2,725.9 L451.4,725.8 L452.6,725.9 L453.9,726.0 L455.2,726.3 L456.7,726.7 L458.2,727.2 L459.8,727.8 L461.2,728.5 L462.6,729.3 L463.9,730.2 L465.1,731.2 L466.3,732.3 L467.4,733.5 L468.4,734.7 L469.2,735.8 L469.9,736.9 L470.5,738.0 L471.0,739.1 L471.3,740.2 L471.5,741.3 L471.4,742.4 L471.1,743.5 L470.5,744.7 L469.7,745.8 L468.9,746.9 L467.9,747.9 L467.0,748.9 L466.1,749.8 L465.1,750.7 L464.0,751.5 L462.9,752.2 L461.7,752.8 L460.5,753.3 L459.1,753.6 L457.7,753.7 L456.1,753.7 L454.5,753.6 L453.1,753.5 L451.7,753.3 L450.4,753.0 L449.1,752.6 L447.9,752.2 L446.8,751.8 L445.9,751.4 L445.2,751.1" fill="none" stroke="#c4c4c4" stroke-width="1.43" stroke-linecap="round" stroke-linejoin="round"/>
<path d="M456.1,690.0 L456.3,690.9 L456.7,692.3 L457.1,693.8 L457.5,695.5 L457.9,697.1 L458.3,698.7 L458.7,700.2 L459.2,701.7 L459.7,703.2 L460.1,704.7 L460.4,706.2 L460.5,707.5 L460.3,708.7 L459.9,709.9 L459.3,711.0 L458.7,712.1 L458.3,713.1 L458.3,714.0 L458.6,714.9 L459.1,715.8 L459.8,716.6 L460.6,717.3 L461.5,717.9 L462.6,718.4 L463.8,718.7 L465.3,718.9 L466.9,719.0 L468.5,718.9 L470.0,718.7 L471.4,718.4 L472.6,717.9 L473.8,717.3 L474.9,716.6 L476.0,715.8 L477.0,714.9 L477.9,714.0 L478.8,713.1 L479.8,712.1 L480.6,711.0 L481.4,709.9 L482.0,708.7 L482.3,707.5 L482.3,706.1 L482.1,704.7 L481.8,703.1 L481.2,701.5 L480.7,700.1 L480.1,698.7 L479.4,697.4 L478.6,696.1 L477.8,694.9 L476.9,693.8 L476.2,692.9 L475.7,692.2" fill="none" stroke="#7c7c7c" stroke-width="2.6" stroke-linecap="round" stroke-linejoin="round"/>
<path d="M456.1,690.0 L456.3,690.9 L456.7,692.3 L457.1,693.8 L457.5,695.5 L457.9,697.1 L458.3,698.7 L458.7,700.2 L459.2,701.7 L459.7,703.2 L460.1,704.7 L460.4,706.2 L460.5,707.5 L460.3,708.7 L459.9,709.9 L459.3,711.0 L458.7,712.1 L458.3,713.1 L458.3,714.0 L458.6,714.9 L459.1,715.8 L459.8,716.6 L460.6,717.3 L461.5,717.9 L462.6,718.4 L463.8,718.7 L465.3,718.9 L466.9,719.0 L468.5,718.9 L470.0,718.7 L471.4,718.4 L472.6,717.9 L473.8,717.3 L474.9,716.6 L476.0,715.8 L477.0,714.9 L477.9,714.0 L478.8,713.1 L479.8,712.1 L480.6,711.0 L481.4,709.9 L482.0,708.7 L482.3,707.5 L482.3,706.1 L482.1,704.7 L481.8,703.1 L481.2,701.5 L480.7,700.1 L480.1,698.7 L479.4,697.4 L478.6,696.1 L477.8,694.9 L476.9,693.8 L476.2,692.9 L475.7,692.2" fill="none" stroke="#c4c4c4" stroke-width="1.43" stroke-linecap="round" stroke-linejoin="round"/>
<path d="M464.8,690.0 L466.0,690.6 L467.6,691.4 L469.6,692.3 L471.7,693.3 L473.8,694.0 L475.7,694.4 L477.6,694.5 L479.5,694.3 L481.4,694.0 L483.2,693.5 L485.0,692.9 L486.6,692.2 L488.1,691.3 L489.6,690.2 L491.0,689.0 L492.2,687.8 L493.2,686.7 L494.0,686.0" fill="none" stroke="#7c7c7c" stroke-width="2.6" stroke-linecap="round" stroke-linejoin="round"/>
<path d="M464.8,690.0 L466.0,690.6 L467.6,691.4 L469.6,692.3 L471.7,693.3 L473.8,694.0 L475.7,694.4 L477.6,694.5 L479.5,694.3 L481.4,694.0 L483.2,693.5 L485.0,692.9 L486.6,692.2 L488.1,691.3 L489.6,690.2 L491.0,689.0 L492.2,687.8 L493.2,686.7 L494.0,686.0" fill="none" stroke="#c4c4c4" stroke-width="1.43" stroke-linecap="round" stroke-linejoin="round"/>
<path d="M477.9,724.9 L478.9,724.6 L480.4,724.0 L482.1,723.4 L483.9,722.9 L485.4,722.6 L486.6,722.7 L487.4,723.3 L488.1,724.2 L488.5,725.3 L488.8,726.6 L488.9,728.0 L488.8,729.3 L488.5,730.7 L487.9,732.1 L487.2,733.7 L486.3,735.2 L485.4,736.7 L484.5,738.0 L483.6,739.2 L482.5,740.4 L481.5,741.5 L480.3,742.6 L479.1,743.6 L477.9,744.5 L476.5,745.4 L474.8,746.3 L473.1,747.1 L471.5,747.8 L470.2,748.4 L469.2,748.9" fill="none" stroke="#7c7c7c" stroke-width="2.6" stroke-linecap="round" stroke-linejoin="round"/>
<path d="M477.9,724.9 L478.9,724.6 L480.4,724.0 L482.1,723.4 L483.9,722.9 L485.4,722.6 L486.6,722.7 L487.4,723.3 L488.1,724.2 L488.5,725.3 L488.8,726.6 L488.9,728.0 L488.8,729.3 L488.5,730.7 L487.9,732.1 L487.2,733.7 L486.3,735.2 L485.4,736.7 L484.5,738.0 L483.6,739.2 L482.5,740.4 L481.5,741.5 L480.3,742.6 L479.1,743.6 L477.9,744.5 L476.5,745.4 L474.8,746.3 L473.1,747.1 L471.5,747.8 L470.2,748.4 L469.2,748.9" fill="none" stroke="#c4c4c4" stroke-width="1.43" stroke-linecap="round" stroke-linejoin="round"/>
<path d="M447.4,690.0 L447.1,690.9 L446.6,692.2 L446.0,693.7 L445.5,695.3 L445.2,697.0 L445.2,698.7 L445.6,700.4 L446.2,702.2 L447.1,704.0 L448.0,705.9 L448.8,707.8 L449.5,709.6 L450.0,711.5 L450.5,713.6 L450.9,715.7 L451.2,717.7 L451.5,719.3 L451.7,720.5" fill="none" stroke="#7c7c7c" stroke-width="2.6" stroke-linecap="round" stroke-linejoin="round"/>
<path d="M447.4,690.0 L447.1,690.9 L446.6,692.2 L446.0,693.7 L445.5,695.3 L445.2,697.0 L445.2,698.7 L445.6,700.4 L446.2,702.2 L447.1,704.0 L448.0,705.9 L448.8,707.8 L449.5,709.6 L450.0,711.5 L450.5,713.6 L450.9,715.7 L451.2,717.7 L451.5,719.3 L451.7,720.5" fill="none" stroke="#c4c4c4" stroke-width="1.43" stroke-linecap="round" stroke-linejoin="round"/>
<path d="M389.7,714.0 L390.3,715.0 L391.2,716.3 L392.2,717.9 L393.1,719.6 L393.8,721.3 L394.1,722.7 L393.7,723.9 L392.8,725.1 L391.6,726.3 L390.5,727.3 L389.8,728.4 L389.7,729.3 L390.5,730.1 L391.8,730.7 L393.6,731.3 L395.4,731.9 L397.1,732.6 L398.5,733.6 L399.6,734.8 L400.6,736.2 L401.5,737.8 L402.2,739.4 L402.7,741.0 L402.8,742.4 L402.5,743.8 L401.9,745.1 L401.0,746.4 L400.0,747.6 L399.0,748.8 L398.0,750.0 L397.0,751.2 L395.9,752.3 L394.7,753.5 L393.6,754.5 L392.7,755.4 L392.0,756.0" fill="none" stroke="#7c7c7c" stroke-width="2.6" stroke-linecap="round" stroke-linejoin="round"/>
<path d="M389.7,714.0 L390.3,715.0 L391.2,716.3 L392.2,717.9 L393.1,719.6 L393.8,721.3 L394.1,722.7 L393.7,723.9 L392.8,725.1 L391.6,726.3 L390.5,727.3 L389.8,728.4 L389.7,729.3 L390.5,730.1 L391.8,730.7 L393.6,731.3 L395.4,731.9 L397.1,732.6 L398.5,733.6 L399.6,734.8 L400.6,736.2 L401.5,737.8 L402.2,739.4 L402.7,741.0 L402.8,742.4 L402.5,743.8 L401.9,745.1 L401.0,746.4 L400.0,747.6 L399.0,748.8 L398.0,750.0 L397.0,751.2 L395.9,752.3 L394.7,753.5 L393.6,754.5 L392.7,755.4 L392.0,756.0" fill="none" stroke="#c4c4c4" stroke-width="1.43" stroke-linecap="round" stroke-linejoin="round"/>
<path d="M313.0,660.0 L313.5,661.4 L314.2,663.3 L315.0,665.5 L315.9,667.9 L316.9,670.1 L318.0,672.0 L319.2,673.6 L320.4,675.1 L321.8,676.5 L323.2,677.8 L324.6,678.9 L326.0,680.0 L327.3,681.0 L328.7,681.9 L330.0,682.8 L331.3,683.4 L332.7,683.8 L334.0,684.0 L335.3,683.7 L336.7,682.9 L338.0,681.9 L339.3,680.9 L340.7,680.2 L342.0,680.0 L343.4,680.4 L344.7,681.1 L346.1,682.1 L347.5,683.3 L348.8,684.7 L350.0,686.0 L351.2,687.6 L352.4,689.4 L353.5,691.4 L354.5,693.3 L355.4,694.9 L356.0,696.0" fill="none" stroke="#7c7c7c" stroke-width="2.6" stroke-linecap="round" stroke-linejoin="round"/>
<path d="M313.0,660.0 L313.5,661.4 L314.2,663.3 L315.0,665.5 L315.9,667.9 L316.9,670.1 L318.0,672.0 L319.2,673.6 L320.4,675.1 L321.8,676.5 L323.2,677.8 L324.6,678.9 L326.0,680.0 L327.3,681.0 L328.7,681.9 L330.0,682.8 L331.3,683.4 L332.7,683.8 L334.0,684.0 L335.3,683.7 L336.7,682.9 L338.0,681.9 L339.3,680.9 L340.7,680.2 L342.0,680.0 L343.4,680.4 L344.7,681.1 L346.1,682.1 L347.5,683.3 L348.8,684.7 L350.0,686.0 L351.2,687.6 L352.4,689.4 L353.5,691.4 L354.5,693.3 L355.4,694.9 L356.0,696.0" fill="none" stroke="#c4c4c4" stroke-width="1.43" stroke-linecap="round" stroke-linejoin="round"/>
<path d="M340.0,650.0 L341.1,651.2 L342.5,652.8 L344.2,654.8 L346.1,656.7 L348.1,658.6 L350.0,660.0 L351.9,661.1 L353.9,662.1 L356.0,662.9 L358.1,663.5 L360.1,663.9 L362.0,664.0 L363.8,663.7 L365.6,662.8 L367.2,661.8 L368.9,660.7 L370.5,660.1 L372.0,660.0 L373.5,660.6 L374.9,661.6 L376.2,663.0 L377.6,664.6 L378.8,666.3 L380.0,668.0 L381.3,669.8 L382.6,671.8 L383.9,673.9 L385.0,676.0 L385.7,678.1 L386.0,680.0 L385.6,681.9 L384.7,683.9 L383.4,685.8 L382.0,687.5 L380.8,688.9 L380.0,690.0" fill="none" stroke="#7c7c7c" stroke-width="2.6" stroke-linecap="round" stroke-linejoin="round"/>
<path d="M340.0,650.0 L341.1,651.2 L342.5,652.8 L344.2,654.8 L346.1,656.7 L348.1,658.6 L350.0,660.0 L351.9,661.1 L353.9,662.1 L356.0,662.9 L358.1,663.5 L360.1,663.9 L362.0,664.0 L363.8,663.7 L365.6,662.8 L367.2,661.8 L368.9,660.7 L370.5,660.1 L372.0,660.0 L373.5,660.6 L374.9,661.6 L376.2,663.0 L377.6,664.6 L378.8,666.3 L380.0,668.0 L381.3,669.8 L382.6,671.8 L383.9,673.9 L385.0,676.0 L385.7,678.1 L386.0,680.0 L385.6,681.9 L384.7,683.9 L383.4,685.8 L382.0,687.5 L380.8,688.9 L380.0,690.0" fill="none" stroke="#c4c4c4" stroke-width="1.43" stroke-linecap="round" stroke-linejoin="round"/>
<path d="M360.0,612.0 L360.8,611.2 L362.0,610.1 L363.4,608.8 L364.9,607.5 L366.5,606.5 L368.0,606.0 L369.6,606.0 L371.3,606.4 L373.1,607.0 L374.9,607.9 L376.5,608.9 L378.0,610.0 L379.3,611.3 L380.7,612.9 L381.9,614.6 L382.9,616.4 L383.6,618.3 L384.0,620.0 L383.9,621.8 L383.3,623.7 L382.4,625.6 L381.4,627.4 L380.6,628.9 L380.0,630.0" fill="none" stroke="#7c7c7c" stroke-width="2.6" stroke-linecap="round" stroke-linejoin="round"/>
<path d="M360.0,612.0 L360.8,611.2 L362.0,610.1 L363.4,608.8 L364.9,607.5 L366.5,606.5 L368.0,606.0 L369.6,606.0 L371.3,606.4 L373.1,607.0 L374.9,607.9 L376.5,608.9 L378.0,610.0 L379.3,611.3 L380.7,612.9 L381.9,614.6 L382.9,616.4 L383.6,618.3 L384.0,620.0 L383.9,621.8 L383.3,623.7 L382.4,625.6 L381.4,627.4 L380.6,628.9 L380.0,630.0" fill="none" stroke="#c4c4c4" stroke-width="1.43" stroke-linecap="round" stroke-linejoin="round"/>
<path d="M386.0,600.0 L387.1,599.5 L388.6,598.7 L390.4,597.9 L392.3,597.0 L394.2,596.4 L396.0,596.0 L397.8,596.0 L399.7,596.3 L401.6,596.8 L403.4,597.3 L404.9,597.7 L406.0,598.0" fill="none" stroke="#7c7c7c" stroke-width="2.6" stroke-linecap="round" stroke-linejoin="round"/>
<path d="M386.0,600.0 L387.1,599.5 L388.6,598.7 L390.4,597.9 L392.3,597.0 L394.2,596.4 L396.0,596.0 L397.8,596.0 L399.7,596.3 L401.6,596.8 L403.4,597.3 L404.9,597.7 L406.0,598.0" fill="none" stroke="#c4c4c4" stroke-width="1.43" stroke-linecap="round" stroke-linejoin="round"/>
<path d="M415.0,640.0 L416.0,640.8 L417.4,642.0 L419.0,643.4 L420.7,644.7 L422.5,645.6 L424.0,646.0 L425.4,645.6 L426.7,644.4 L428.1,643.0 L429.4,641.6 L430.7,640.4 L432.0,640.0 L433.4,640.3 L434.7,641.0 L436.1,642.0 L437.5,643.3 L438.8,644.6 L440.0,646.0 L441.3,647.4 L442.6,649.0 L443.9,650.8 L445.0,652.5 L445.7,654.3 L446.0,656.0 L445.7,657.7 L445.0,659.6 L444.0,661.4 L442.7,663.1 L441.4,664.7 L440.0,666.0 L438.4,667.1 L436.6,667.9 L434.6,668.6 L432.7,669.2 L431.1,669.6 L430.0,670.0" fill="none" stroke="#7c7c7c" stroke-width="2.6" stroke-linecap="round" stroke-linejoin="round"/>
<path d="M415.0,640.0 L416.0,640.8 L417.4,642.0 L419.0,643.4 L420.7,644.7 L422.5,645.6 L424.0,646.0 L425.4,645.6 L426.7,644.4 L428.1,643.0 L429.4,641.6 L430.7,640.4 L432.0,640.0 L433.4,640.3 L434.7,641.0 L436.1,642.0 L437.5,643.3 L438.8,644.6 L440.0,646.0 L441.3,647.4 L442.6,649.0 L443.9,650.8 L445.0,652.5 L445.7,654.3 L446.0,656.0 L445.7,657.7 L445.0,659.6 L444.0,661.4 L442.7,663.1 L441.4,664.7 L440.0,666.0 L438.4,667.1 L436.6,667.9 L434.6,668.6 L432.7,669.2 L431.1,669.6 L430.0,670.0" fill="none" stroke="#c4c4c4" stroke-width="1.43" stroke-linecap="round" stroke-linejoin="round"/>
<path d="M418.0,660.0 L418.1,661.3 L418.3,663.1 L418.5,665.2 L418.8,667.6 L419.3,669.9 L420.0,672.0 L420.9,674.1 L422.1,676.2 L423.4,678.4 L424.8,680.4 L426.4,682.3 L428.0,684.0 L429.8,685.3 L431.9,686.3 L434.1,687.1 L436.3,687.9 L438.3,688.8 L440.0,690.0 L441.4,691.6 L442.7,693.4 L443.8,695.4 L444.7,697.3 L445.4,698.9 L446.0,700.0" fill="none" stroke="#7c7c7c" stroke-width="2.6" stroke-linecap="round" stroke-linejoin="round"/>
<path d="M418.0,660.0 L418.1,661.3 L418.3,663.1 L418.5,665.2 L418.8,667.6 L419.3,669.9 L420.0,672.0 L420.9,674.1 L422.1,676.2 L423.4,678.4 L424.8,680.4 L426.4,682.3 L428.0,684.0 L429.8,685.3 L431.9,686.3 L434.1,687.1 L436.3,687.9 L438.3,688.8 L440.0,690.0 L441.4,691.6 L442.7,693.4 L443.8,695.4 L444.7,697.3 L445.4,698.9 L446.0,700.0" fill="none" stroke="#c4c4c4" stroke-width="1.43" stroke-linecap="round" stroke-linejoin="round"/>
<path d="M372.0,690.0 L372.9,691.1 L374.1,692.7 L375.5,694.5 L377.0,696.4 L378.6,698.3 L380.0,700.0 L381.3,701.6 L382.7,703.2 L384.0,704.8 L385.3,706.1 L386.7,707.3 L388.0,708.0 L389.4,708.3 L390.7,708.3 L392.1,708.0 L393.5,707.5 L394.8,706.8 L396.0,706.0 L397.1,704.9 L398.1,703.6 L399.0,702.0 L399.9,700.4 L400.9,699.1 L402.0,698.0 L403.3,697.3 L404.8,696.8 L406.4,696.5 L407.9,696.3 L409.1,696.1 L410.0,696.0" fill="none" stroke="#7c7c7c" stroke-width="2.6" stroke-linecap="round" stroke-linejoin="round"/>
<path d="M372.0,690.0 L372.9,691.1 L374.1,692.7 L375.5,694.5 L377.0,696.4 L378.6,698.3 L380.0,700.0 L381.3,701.6 L382.7,703.2 L384.0,704.8 L385.3,706.1 L386.7,707.3 L388.0,708.0 L389.4,708.3 L390.7,708.3 L392.1,708.0 L393.5,707.5 L394.8,706.8 L396.0,706.0 L397.1,704.9 L398.1,703.6 L399.0,702.0 L399.9,700.4 L400.9,699.1 L402.0,698.0 L403.3,697.3 L404.8,696.8 L406.4,696.5 L407.9,696.3 L409.1,696.1 L410.0,696.0" fill="none" stroke="#c4c4c4" stroke-width="1.43" stroke-linecap="round" stroke-linejoin="round"/>
<path d="M300.0,700.0 L300.7,698.9 L301.6,697.3 L302.6,695.4 L303.8,693.4 L304.9,691.6 L306.0,690.0 L307.1,688.7 L308.2,687.5 L309.4,686.4 L310.4,685.4 L311.3,684.6 L312.0,684.0" fill="none" stroke="#7c7c7c" stroke-width="2.6" stroke-linecap="round" stroke-linejoin="round"/>
<path d="M300.0,700.0 L300.7,698.9 L301.6,697.3 L302.6,695.4 L303.8,693.4 L304.9,691.6 L306.0,690.0 L307.1,688.7 L308.2,687.5 L309.4,686.4 L310.4,685.4 L311.3,684.6 L312.0,684.0" fill="none" stroke="#c4c4c4" stroke-width="1.43" stroke-linecap="round" stroke-linejoin="round"/>
<path d="M365.0,760.0 L365.7,760.9 L366.8,762.2 L368.0,763.8 L369.3,765.3 L370.7,766.8 L372.0,768.0 L373.3,769.0 L374.6,769.9 L375.9,770.8 L377.3,771.4 L378.7,771.8 L380.0,772.0 L381.3,771.7 L382.7,771.0 L384.0,770.0 L385.3,769.0 L386.7,768.3 L388.0,768.0 L389.3,768.2 L390.7,768.6 L392.0,769.2 L393.3,770.1 L394.7,771.0 L396.0,772.0 L397.4,773.1 L398.7,774.3 L400.1,775.6 L401.5,777.0 L402.8,778.5 L404.0,780.0 L405.2,781.7 L406.4,783.6 L407.5,785.5 L408.5,787.3 L409.4,788.9 L410.0,790.0" fill="none" stroke="#7c7c7c" stroke-width="2.6" stroke-linecap="round" stroke-linejoin="round"/>
<path d="M365.0,760.0 L365.7,760.9 L366.8,762.2 L368.0,763.8 L369.3,765.3 L370.7,766.8 L372.0,768.0 L373.3,769.0 L374.6,769.9 L375.9,770.8 L377.3,771.4 L378.7,771.8 L380.0,772.0 L381.3,771.7 L382.7,771.0 L384.0,770.0 L385.3,769.0 L386.7,768.3 L388.0,768.0 L389.3,768.2 L390.7,768.6 L392.0,769.2 L393.3,770.1 L394.7,771.0 L396.0,772.0 L397.4,773.1 L398.7,774.3 L400.1,775.6 L401.5,777.0 L402.8,778.5 L404.0,780.0 L405.2,781.7 L406.4,783.6 L407.5,785.5 L408.5,787.3 L409.4,788.9 L410.0,790.0" fill="none" stroke="#c4c4c4" stroke-width="1.43" stroke-linecap="round" stroke-linejoin="round"/>
<path d="M392.0,745.0 L392.8,745.8 L394.0,746.9 L395.4,748.2 L396.9,749.6 L398.5,750.9 L400.0,752.0 L401.6,752.9 L403.2,753.9 L404.9,754.7 L406.6,755.4 L408.3,755.8 L410.0,756.0 L411.7,755.8 L413.4,755.3 L415.1,754.6 L416.8,753.8 L418.4,752.9 L420.0,752.0 L421.5,751.0 L423.1,749.9 L424.6,748.8 L426.0,747.6 L427.2,746.7 L428.0,746.0" fill="none" stroke="#7c7c7c" stroke-width="2.6" stroke-linecap="round" stroke-linejoin="round"/>
<path d="M392.0,745.0 L392.8,745.8 L394.0,746.9 L395.4,748.2 L396.9,749.6 L398.5,750.9 L400.0,752.0 L401.6,752.9 L403.2,753.9 L404.9,754.7 L406.6,755.4 L408.3,755.8 L410.0,756.0 L411.7,755.8 L413.4,755.3 L415.1,754.6 L416.8,753.8 L418.4,752.9 L420.0,752.0 L421.5,751.0 L423.1,749.9 L424.6,748.8 L426.0,747.6 L427.2,746.7 L428.0,746.0" fill="none" stroke="#c4c4c4" stroke-width="1.43" stroke-linecap="round" stroke-linejoin="round"/>
<path d="M455.5,690.8 L456.0,688.4 L457.7,686.7 L459.9,685.7 L462.3,685.7 L464.6,686.0 L466.9,686.8 L468.6,688.5 L469.3,690.8 L469.7,693.2 L469.8,695.6 L469.0,697.8 L468.2,700.1 L467.6,702.4 L468.2,704.7 L468.9,707.0 L469.1,709.4 L469.2,711.8 L470.3,713.9 L472.3,715.2 L474.7,715.3 L477.1,714.8 L479.4,714.2 L481.2,712.6 L482.2,710.4 L482.0,708.0 L482.2,705.6 L483.2,703.4 L485.1,702.0 L487.1,700.7 L488.2,698.5 L488.5,696.1 L487.6,693.9 L485.8,692.4 L483.4,691.9 L481.1,692.4 L479.3,694.0 L478.5,696.3 L478.9,698.7 L479.1,701.0 L479.2,703.4 L478.4,705.7 L477.0,707.6 L474.9,708.8 L472.5,709.4 L470.2,710.1" fill="none" stroke="#7c7c7c" stroke-width="2.8" stroke-linecap="round" stroke-linejoin="round"/>
<path d="M455.5,690.8 L456.0,688.4 L457.7,686.7 L459.9,685.7 L462.3,685.7 L464.6,686.0 L466.9,686.8 L468.6,688.5 L469.3,690.8 L469.7,693.2 L469.8,695.6 L469.0,697.8 L468.2,700.1 L467.6,702.4 L468.2,704.7 L468.9,707.0 L469.1,709.4 L469.2,711.8 L470.3,713.9 L472.3,715.2 L474.7,715.3 L477.1,714.8 L479.4,714.2 L481.2,712.6 L482.2,710.4 L482.0,708.0 L482.2,705.6 L483.2,703.4 L485.1,702.0 L487.1,700.7 L488.2,698.5 L488.5,696.1 L487.6,693.9 L485.8,692.4 L483.4,691.9 L481.1,692.4 L479.3,694.0 L478.5,696.3 L478.9,698.7 L479.1,701.0 L479.2,703.4 L478.4,705.7 L477.0,707.6 L474.9,708.8 L472.5,709.4 L470.2,710.1" fill="none" stroke="#c4c4c4" stroke-width="1.54" stroke-linecap="round" stroke-linejoin="round"/>
<path d="M427.0,634.8 L429.4,634.5 L431.6,635.3 L433.6,636.7 L435.8,637.5 L438.2,637.9 L440.5,637.1 L442.7,636.2 L444.3,634.4 L445.8,632.5 L447.9,631.4 L449.8,629.9 L451.6,628.3 L453.4,626.8 L455.8,626.4 L458.1,627.1 L459.7,628.9 L460.4,631.2 L459.9,633.5 L458.4,635.4 L456.1,636.2 L453.7,636.2 L451.4,635.7 L449.1,635.2 L446.7,634.7 L444.3,635.1 L442.4,636.6 L441.5,638.8 L441.7,641.2 L442.6,643.4 L444.5,644.9 L446.9,645.4 L449.3,645.3 L451.4,644.2 L452.6,642.1 L454.4,640.5 L455.6,638.5 L456.7,636.3 L458.4,634.6 L460.3,633.2 L461.8,631.3 L462.9,629.2 L463.6,626.9 L463.2,624.6 L462.7,622.2 L461.4,620.2 L459.4,618.9 L457.7,617.3 L455.6,616.1 L453.6,614.7 L451.4,613.8" fill="none" stroke="#7c7c7c" stroke-width="2.8" stroke-linecap="round" stroke-linejoin="round"/>
<path d="M427.0,634.8 L429.4,634.5 L431.6,635.3 L433.6,636.7 L435.8,637.5 L438.2,637.9 L440.5,637.1 L442.7,636.2 L444.3,634.4 L445.8,632.5 L447.9,631.4 L449.8,629.9 L451.6,628.3 L453.4,626.8 L455.8,626.4 L458.1,627.1 L459.7,628.9 L460.4,631.2 L459.9,633.5 L458.4,635.4 L456.1,636.2 L453.7,636.2 L451.4,635.7 L449.1,635.2 L446.7,634.7 L444.3,635.1 L442.4,636.6 L441.5,638.8 L441.7,641.2 L442.6,643.4 L444.5,644.9 L446.9,645.4 L449.3,645.3 L451.4,644.2 L452.6,642.1 L454.4,640.5 L455.6,638.5 L456.7,636.3 L458.4,634.6 L460.3,633.2 L461.8,631.3 L462.9,629.2 L463.6,626.9 L463.2,624.6 L462.7,622.2 L461.4,620.2 L459.4,618.9 L457.7,617.3 L455.6,616.1 L453.6,614.7 L451.4,613.8" fill="none" stroke="#c4c4c4" stroke-width="1.54" stroke-linecap="round" stroke-linejoin="round"/>
<path d="M387.9,623.6 L385.7,624.4 L383.3,624.1 L381.4,622.6 L380.0,620.7 L379.5,618.3 L379.4,615.9 L379.1,613.5 L378.3,611.3 L376.6,609.6 L374.3,608.8 L372.1,607.9 L369.7,608.1 L367.3,608.6 L365.3,609.8 L363.2,611.0 L360.8,611.4 L358.4,611.3 L356.3,612.3 L354.3,613.6 L352.2,614.9 L351.8,617.2 L350.4,619.1 L349.9,621.5 L350.6,623.8 L351.8,625.9 L351.7,628.3 L352.5,630.6 L354.4,631.9 L356.1,633.7 L357.2,635.8 L358.8,637.6 L360.8,638.9 L363.0,640.0 L365.2,640.7 L367.6,641.2 L369.4,642.7 L371.7,643.6 L374.0,644.0 L376.3,644.8 L378.7,644.9 L381.1,644.4 L383.3,643.6 L385.7,644.0 L387.9,643.1 L389.7,641.5" fill="none" stroke="#7c7c7c" stroke-width="2.8" stroke-linecap="round" stroke-linejoin="round"/>
<path d="M387.9,623.6 L385.7,624.4 L383.3,624.1 L381.4,622.6 L380.0,620.7 L379.5,618.3 L379.4,615.9 L379.1,613.5 L378.3,611.3 L376.6,609.6 L374.3,608.8 L372.1,607.9 L369.7,608.1 L367.3,608.6 L365.3,609.8 L363.2,611.0 L360.8,611.4 L358.4,611.3 L356.3,612.3 L354.3,613.6 L352.2,614.9 L351.8,617.2 L350.4,619.1 L349.9,621.5 L350.6,623.8 L351.8,625.9 L351.7,628.3 L352.5,630.6 L354.4,631.9 L356.1,633.7 L357.2,635.8 L358.8,637.6 L360.8,638.9 L363.0,640.0 L365.2,640.7 L367.6,641.2 L369.4,642.7 L371.7,643.6 L374.0,644.0 L376.3,644.8 L378.7,644.9 L381.1,644.4 L383.3,643.6 L385.7,644.0 L387.9,643.1 L389.7,641.5" fill="none" stroke="#c4c4c4" stroke-width="1.54" stroke-linecap="round" stroke-linejoin="round"/>
<path d="M317.7,668.6 L316.1,666.8 L315.5,664.5 L314.2,662.4 L312.2,661.2 L309.8,661.1 L307.6,662.2 L306.0,663.9 L305.4,666.2 L304.0,668.2 L303.9,670.6 L304.6,672.9 L305.9,674.9 L307.7,676.5 L309.7,677.8 L311.3,679.6 L313.3,680.9 L315.5,681.8 L317.9,682.4 L320.3,682.4 L322.4,683.6 L324.8,683.5 L327.1,683.2 L329.5,682.8 L331.9,682.5 L334.3,682.9 L336.7,682.9 L338.8,681.7 L340.1,679.7 L340.7,677.3 L340.3,675.0 L338.9,673.0 L336.7,672.0 L334.3,672.2 L331.9,672.2 L329.6,672.6 L327.2,672.6 L325.1,671.5 L323.4,669.8 L322.1,667.8 L321.0,665.6 L320.1,663.4 L319.0,661.3 L317.7,659.2 L316.1,657.4 L314.4,655.8 L313.1,653.8 L312.0,651.7 L312.0,649.3 L312.7,647.0 L313.9,644.9" fill="none" stroke="#7c7c7c" stroke-width="2.8" stroke-linecap="round" stroke-linejoin="round"/>
<path d="M317.7,668.6 L316.1,666.8 L315.5,664.5 L314.2,662.4 L312.2,661.2 L309.8,661.1 L307.6,662.2 L306.0,663.9 L305.4,666.2 L304.0,668.2 L303.9,670.6 L304.6,672.9 L305.9,674.9 L307.7,676.5 L309.7,677.8 L311.3,679.6 L313.3,680.9 L315.5,681.8 L317.9,682.4 L320.3,682.4 L322.4,683.6 L324.8,683.5 L327.1,683.2 L329.5,682.8 L331.9,682.5 L334.3,682.9 L336.7,682.9 L338.8,681.7 L340.1,679.7 L340.7,677.3 L340.3,675.0 L338.9,673.0 L336.7,672.0 L334.3,672.2 L331.9,672.2 L329.6,672.6 L327.2,672.6 L325.1,671.5 L323.4,669.8 L322.1,667.8 L321.0,665.6 L320.1,663.4 L319.0,661.3 L317.7,659.2 L316.1,657.4 L314.4,655.8 L313.1,653.8 L312.0,651.7 L312.0,649.3 L312.7,647.0 L313.9,644.9" fill="none" stroke="#c4c4c4" stroke-width="1.54" stroke-linecap="round" stroke-linejoin="round"/>
<path d="M451.7,754.6 L450.2,752.8 L449.7,750.4 L449.4,748.1 L450.3,745.8 L452.2,744.3 L454.5,743.9 L456.8,744.6 L458.5,746.4 L460.4,747.8 L462.8,748.2 L465.1,748.8 L467.4,748.2 L469.5,747.1 L471.7,746.0 L473.8,744.8 L475.7,746.3 L476.9,748.3 L476.9,750.7 L476.6,753.1 L475.5,755.2 L473.4,756.5 L472.0,758.4 L470.5,760.2 L468.3,761.3 L465.9,761.4 L463.5,761.1 L461.6,759.7 L460.0,757.9 L458.0,756.6 L455.9,755.3 L454.5,753.4 L453.2,751.4 L451.0,750.3 L448.9,749.3 L447.0,747.8 L446.0,745.6 L446.2,743.2 L448.3,742.0 L450.6,741.2 L453.0,741.1" fill="none" stroke="#7c7c7c" stroke-width="2.8" stroke-linecap="round" stroke-linejoin="round"/>
<path d="M451.7,754.6 L450.2,752.8 L449.7,750.4 L449.4,748.1 L450.3,745.8 L452.2,744.3 L454.5,743.9 L456.8,744.6 L458.5,746.4 L460.4,747.8 L462.8,748.2 L465.1,748.8 L467.4,748.2 L469.5,747.1 L471.7,746.0 L473.8,744.8 L475.7,746.3 L476.9,748.3 L476.9,750.7 L476.6,753.1 L475.5,755.2 L473.4,756.5 L472.0,758.4 L470.5,760.2 L468.3,761.3 L465.9,761.4 L463.5,761.1 L461.6,759.7 L460.0,757.9 L458.0,756.6 L455.9,755.3 L454.5,753.4 L453.2,751.4 L451.0,750.3 L448.9,749.3 L447.0,747.8 L446.0,745.6 L446.2,743.2 L448.3,742.0 L450.6,741.2 L453.0,741.1" fill="none" stroke="#c4c4c4" stroke-width="1.54" stroke-linecap="round" stroke-linejoin="round"/>
<path d="M398.4,706.7 L396.0,707.4 L394.2,708.9 L392.6,710.7 L390.3,711.5 L387.9,711.7 L385.5,711.6 L383.2,711.2 L380.8,711.4 L378.6,710.4 L376.8,708.8 L375.9,706.6 L376.3,704.2 L376.5,701.8 L377.8,699.8 L379.9,698.7 L382.3,698.6 L384.7,698.7 L387.1,698.5 L389.4,697.8 L391.6,696.9 L393.2,695.1 L393.7,692.8 L393.1,690.5 L392.9,688.1 L391.6,686.1 L389.5,684.9 L387.6,683.5 L385.8,681.9 L383.6,680.8 L381.4,681.7 L379.4,683.1 L378.4,685.2 L377.4,687.4 L376.6,689.7 L376.3,692.0 L376.3,694.4 L375.2,696.6 L374.9,699.0 L375.2,701.3 L376.0,703.6" fill="none" stroke="#7c7c7c" stroke-width="2.8" stroke-linecap="round" stroke-linejoin="round"/>
<path d="M398.4,706.7 L396.0,707.4 L394.2,708.9 L392.6,710.7 L390.3,711.5 L387.9,711.7 L385.5,711.6 L383.2,711.2 L380.8,711.4 L378.6,710.4 L376.8,708.8 L375.9,706.6 L376.3,704.2 L376.5,701.8 L377.8,699.8 L379.9,698.7 L382.3,698.6 L384.7,698.7 L387.1,698.5 L389.4,697.8 L391.6,696.9 L393.2,695.1 L393.7,692.8 L393.1,690.5 L392.9,688.1 L391.6,686.1 L389.5,684.9 L387.6,683.5 L385.8,681.9 L383.6,680.8 L381.4,681.7 L379.4,683.1 L378.4,685.2 L377.4,687.4 L376.6,689.7 L376.3,692.0 L376.3,694.4 L375.2,696.6 L374.9,699.0 L375.2,701.3 L376.0,703.6" fill="none" stroke="#c4c4c4" stroke-width="1.54" stroke-linecap="round" stroke-linejoin="round"/>
<path d="M343.9,698.7 L343.6,699.2 L343.1,699.8 L342.5,700.6 L342.0,701.5 L341.7,702.3 L341.7,703.1 L342.0,703.9 L342.5,704.7 L343.2,705.6 L344.1,706.4 L345.0,707.0 L346.1,707.5 L347.3,707.8 L348.8,708.0 L350.3,708.0 L351.9,708.0 L353.4,707.8 L354.8,707.5 L356.0,707.0 L357.2,706.4 L358.2,705.6 L359.3,704.7 L360.3,703.9 L361.4,703.1 L362.5,702.3 L363.7,701.3 L364.8,700.4 L365.9,699.5 L366.9,698.9 L367.9,698.7 L368.8,698.9 L369.5,699.4 L370.2,700.2 L370.9,701.2 L371.6,702.1 L372.3,703.1 L373.0,704.1 L373.7,705.2 L374.4,706.4 L375.2,707.5 L375.9,708.6 L376.6,709.6 L377.4,710.4 L378.1,711.1 L378.9,711.8 L379.7,712.5 L380.4,713.2 L381.0,714.0 L381.5,715.0 L382.1,716.0 L382.5,717.1 L382.9,718.2 L383.1,719.4 L383.2,720.5 L383.1,721.6 L382.9,722.7 L382.5,723.8 L382.1,724.9 L381.5,726.0 L381.0,727.1 L380.4,728.2 L379.6,729.3 L378.8,730.4 L378.0,731.4 L377.2,732.5 L376.6,733.6 L376.1,734.7 L375.7,735.8 L375.4,736.9 L375.1,738.0 L374.8,739.1 L374.5,740.2 L374.1,741.4 L373.7,742.6 L373.3,743.9 L372.9,745.0 L372.5,746.0 L372.3,746.7" fill="none" stroke="#6a2a14" stroke-width="2.6" stroke-linecap="round" stroke-linejoin="round"/>
<path d="M343.9,698.7 L343.6,699.2 L343.1,699.8 L342.5,700.6 L342.0,701.5 L341.7,702.3 L341.7,703.1 L342.0,703.9 L342.5,704.7 L343.2,705.6 L344.1,706.4 L345.0,707.0 L346.1,707.5 L347.3,707.8 L348.8,708.0 L350.3,708.0 L351.9,708.0 L353.4,707.8 L354.8,707.5 L356.0,707.0 L357.2,706.4 L358.2,705.6 L359.3,704.7 L360.3,703.9 L361.4,703.1 L362.5,702.3 L363.7,701.3 L364.8,700.4 L365.9,699.5 L366.9,698.9 L367.9,698.7 L368.8,698.9 L369.5,699.4 L370.2,700.2 L370.9,701.2 L371.6,702.1 L372.3,703.1 L373.0,704.1 L373.7,705.2 L374.4,706.4 L375.2,707.5 L375.9,708.6 L376.6,709.6 L377.4,710.4 L378.1,711.1 L378.9,711.8 L379.7,712.5 L380.4,713.2 L381.0,714.0 L381.5,715.0 L382.1,716.0 L382.5,717.1 L382.9,718.2 L383.1,719.4 L383.2,720.5 L383.1,721.6 L382.9,722.7 L382.5,723.8 L382.1,724.9 L381.5,726.0 L381.0,727.1 L380.4,728.2 L379.6,729.3 L378.8,730.4 L378.0,731.4 L377.2,732.5 L376.6,733.6 L376.1,734.7 L375.7,735.8 L375.4,736.9 L375.1,738.0 L374.8,739.1 L374.5,740.2 L374.1,741.4 L373.7,742.6 L373.3,743.9 L372.9,745.0 L372.5,746.0 L372.3,746.7" fill="none" stroke="#a44c2c" stroke-width="1.43" stroke-linecap="round" stroke-linejoin="round"/>
<path d="M367.9,703.1 L368.4,702.6 L369.0,702.0 L369.7,701.2 L370.5,700.3 L371.4,699.5 L372.3,698.7 L373.3,698.0 L374.3,697.3 L375.4,696.6 L376.5,695.8 L377.7,695.1 L378.8,694.4 L379.9,693.7 L381.0,693.0 L382.1,692.3 L383.2,691.6 L384.3,690.8 L385.4,690.0 L386.5,689.1 L387.6,688.0 L388.7,687.0 L389.8,685.9 L390.9,684.9 L392.0,684.0 L393.0,683.1 L394.0,682.2 L395.0,681.4 L396.0,680.7 L397.0,680.2 L398.0,680.0 L399.1,680.2 L400.2,680.9 L401.4,681.8 L402.4,682.7 L403.3,683.5 L404.0,684.0" fill="none" stroke="#6a2a14" stroke-width="2.6" stroke-linecap="round" stroke-linejoin="round"/>
<path d="M367.9,703.1 L368.4,702.6 L369.0,702.0 L369.7,701.2 L370.5,700.3 L371.4,699.5 L372.3,698.7 L373.3,698.0 L374.3,697.3 L375.4,696.6 L376.5,695.8 L377.7,695.1 L378.8,694.4 L379.9,693.7 L381.0,693.0 L382.1,692.3 L383.2,691.6 L384.3,690.8 L385.4,690.0 L386.5,689.1 L387.6,688.0 L388.7,687.0 L389.8,685.9 L390.9,684.9 L392.0,684.0 L393.0,683.1 L394.0,682.2 L395.0,681.4 L396.0,680.7 L397.0,680.2 L398.0,680.0 L399.1,680.2 L400.2,680.9 L401.4,681.8 L402.4,682.7 L403.3,683.5 L404.0,684.0" fill="none" stroke="#a44c2c" stroke-width="1.43" stroke-linecap="round" stroke-linejoin="round"/>
<path d="M399.4,690.0 L400.3,690.2 L401.7,690.5 L403.2,690.8 L404.9,691.2 L406.5,691.7 L408.1,692.2 L409.6,692.8 L411.1,693.4 L412.6,694.1 L414.1,694.8 L415.5,695.6 L416.8,696.5 L418.1,697.4 L419.4,698.5 L420.6,699.5 L421.8,700.7 L422.7,701.9 L423.4,703.1 L423.8,704.4 L423.8,705.8 L423.7,707.3 L423.5,708.8 L423.4,710.3 L423.4,711.8 L423.6,713.3 L423.8,714.8 L424.0,716.3 L424.4,717.8 L424.9,719.2 L425.5,720.5 L426.4,721.6 L427.4,722.6 L428.7,723.5 L429.9,724.5 L431.1,725.6 L432.1,727.1 L433.0,729.0 L433.8,731.2 L434.6,733.7 L435.3,736.1 L435.9,738.3 L436.5,740.2 L436.9,741.7 L437.2,742.9 L437.4,744.0 L437.7,744.9 L438.0,745.8 L438.6,746.7 L439.4,747.6 L440.5,748.3 L441.6,749.0 L442.8,749.7 L444.1,750.4 L445.2,751.1 L446.3,751.8 L447.5,752.4 L448.7,753.0 L449.9,753.7 L450.9,754.5 L451.7,755.5 L452.3,756.7 L452.7,758.2 L452.9,759.7 L453.2,761.3 L453.5,762.8 L453.9,764.2 L454.5,765.5 L455.1,766.7 L455.8,767.9 L456.6,769.0 L457.4,770.0 L458.3,770.7 L459.3,771.2 L460.6,771.5 L461.8,771.7 L463.0,771.7 L464.1,771.7 L464.8,771.8" fill="none" stroke="#6a2a14" stroke-width="2.6" stroke-linecap="round" stroke-linejoin="round"/>
<path d="M399.4,690.0 L400.3,690.2 L401.7,690.5 L403.2,690.8 L404.9,691.2 L406.5,691.7 L408.1,692.2 L409.6,692.8 L411.1,693.4 L412.6,694.1 L414.1,694.8 L415.5,695.6 L416.8,696.5 L418.1,697.4 L419.4,698.5 L420.6,699.5 L421.8,700.7 L422.7,701.9 L423.4,703.1 L423.8,704.4 L423.8,705.8 L423.7,707.3 L423.5,708.8 L423.4,710.3 L423.4,711.8 L423.6,713.3 L423.8,714.8 L424.0,716.3 L424.4,717.8 L424.9,719.2 L425.5,720.5 L426.4,721.6 L427.4,722.6 L428.7,723.5 L429.9,724.5 L431.1,725.6 L432.1,727.1 L433.0,729.0 L433.8,731.2 L434.6,733.7 L435.3,736.1 L435.9,738.3 L436.5,740.2 L436.9,741.7 L437.2,742.9 L437.4,744.0 L437.7,744.9 L438.0,745.8 L438.6,746.7 L439.4,747.6 L440.5,748.3 L441.6,749.0 L442.8,749.7 L444.1,750.4 L445.2,751.1 L446.3,751.8 L447.5,752.4 L448.7,753.0 L449.9,753.7 L450.9,754.5 L451.7,755.5 L452.3,756.7 L452.7,758.2 L452.9,759.7 L453.2,761.3 L453.5,762.8 L453.9,764.2 L454.5,765.5 L455.1,766.7 L455.8,767.9 L456.6,769.0 L457.4,770.0 L458.3,770.7 L459.3,771.2 L460.6,771.5 L461.8,771.7 L463.0,771.7 L464.1,771.7 L464.8,771.8" fill="none" stroke="#a44c2c" stroke-width="1.43" stroke-linecap="round" stroke-linejoin="round"/>
<path d="M367.9,683.2 L368.9,683.8 L370.3,684.8 L372.0,686.0 L373.7,686.9 L375.3,687.6 L376.6,687.6 L377.6,686.8 L378.3,685.4 L378.9,683.6 L379.5,681.7 L380.2,680.0 L381.0,678.8 L382.0,678.0 L383.0,677.3 L384.2,676.9 L385.3,676.6 L386.5,676.5 L387.6,676.6 L388.7,677.1 L389.9,677.9 L391.0,678.9 L392.1,679.9 L393.1,680.7 L394.1,681.0 L395.0,680.7 L395.9,680.0 L396.7,679.1 L397.4,678.1 L398.0,677.2 L398.5,676.6" fill="none" stroke="#6a2a14" stroke-width="2.6" stroke-linecap="round" stroke-linejoin="round"/>
<path d="M367.9,683.2 L368.9,683.8 L370.3,684.8 L372.0,686.0 L373.7,686.9 L375.3,687.6 L376.6,687.6 L377.6,686.8 L378.3,685.4 L378.9,683.6 L379.5,681.7 L380.2,680.0 L381.0,678.8 L382.0,678.0 L383.0,677.3 L384.2,676.9 L385.3,676.6 L386.5,676.5 L387.6,676.6 L388.7,677.1 L389.9,677.9 L391.0,678.9 L392.1,679.9 L393.1,680.7 L394.1,681.0 L395.0,680.7 L395.9,680.0 L396.7,679.1 L397.4,678.1 L398.0,677.2 L398.5,676.6" fill="none" stroke="#a44c2c" stroke-width="1.43" stroke-linecap="round" stroke-linejoin="round"/>
<path d="M357.0,742.0 L357.7,742.5 L358.8,743.3 L360.0,744.1 L361.3,745.0 L362.7,745.6 L364.0,746.0 L365.3,746.1 L366.7,745.9 L368.1,745.6 L369.4,745.2 L370.8,744.6 L372.0,744.0 L373.2,743.2 L374.4,742.1 L375.5,740.9 L376.5,739.7 L377.4,738.7 L378.0,738.0" fill="none" stroke="#6a2a14" stroke-width="2.6" stroke-linecap="round" stroke-linejoin="round"/>
<path d="M357.0,742.0 L357.7,742.5 L358.8,743.3 L360.0,744.1 L361.3,745.0 L362.7,745.6 L364.0,746.0 L365.3,746.1 L366.7,745.9 L368.1,745.6 L369.4,745.2 L370.8,744.6 L372.0,744.0 L373.2,743.2 L374.4,742.1 L375.5,740.9 L376.5,739.7 L377.4,738.7 L378.0,738.0" fill="none" stroke="#a44c2c" stroke-width="1.43" stroke-linecap="round" stroke-linejoin="round"/>
<path d="M350.5,611.2 L350.3,610.9 L350.1,610.5 L349.8,610.0 L349.4,609.6 L348.9,609.2 L348.3,609.0 L347.4,609.0 L346.3,609.0 L345.1,609.1 L343.9,609.4 L342.7,609.7 L341.7,610.1 L340.9,610.7 L340.1,611.4 L339.4,612.2 L338.8,613.1 L338.1,613.9 L337.4,614.5 L336.7,615.0 L336.0,615.5 L335.3,615.9 L334.6,616.2 L333.8,616.5 L333.0,616.6 L332.2,616.6 L331.3,616.4 L330.4,616.1 L329.4,615.8 L328.5,615.6 L327.5,615.5 L326.5,615.5 L325.4,615.6 L324.4,615.8 L323.3,616.0 L322.2,616.3 L321.0,616.6 L319.8,617.0 L318.5,617.6 L317.2,618.2 L315.9,618.8 L314.6,619.4 L313.4,619.9 L312.2,620.4 L311.1,620.9 L310.0,621.4 L308.9,621.8 L307.8,622.1 L306.8,622.1 L305.8,621.8 L304.9,621.1 L304.0,620.3 L303.1,619.5 L302.2,619.0 L301.4,618.8 L300.6,619.0 L299.7,619.5 L298.9,620.2 L298.1,621.1 L297.5,622.1 L297.0,623.2 L296.7,624.5 L296.5,625.9 L296.4,627.5 L296.5,629.2 L296.7,630.6 L297.0,631.9 L297.5,633.0 L298.1,634.1 L298.9,635.0 L299.8,635.7 L300.6,636.2 L301.4,636.3 L302.2,635.9 L303.0,635.2 L303.8,634.1 L304.5,632.9 L305.2,631.8 L305.7,630.8 L306.1,630.0 L306.3,629.1 L306.5,628.3 L306.6,627.6 L306.7,627.0 L306.8,626.5" fill="none" stroke="#1e44a8" stroke-width="2.5" stroke-linecap="round" stroke-linejoin="round"/>
<path d="M350.5,611.2 L350.3,610.9 L350.1,610.5 L349.8,610.0 L349.4,609.6 L348.9,609.2 L348.3,609.0 L347.4,609.0 L346.3,609.0 L345.1,609.1 L343.9,609.4 L342.7,609.7 L341.7,610.1 L340.9,610.7 L340.1,611.4 L339.4,612.2 L338.8,613.1 L338.1,613.9 L337.4,614.5 L336.7,615.0 L336.0,615.5 L335.3,615.9 L334.6,616.2 L333.8,616.5 L333.0,616.6 L332.2,616.6 L331.3,616.4 L330.4,616.1 L329.4,615.8 L328.5,615.6 L327.5,615.5 L326.5,615.5 L325.4,615.6 L324.4,615.8 L323.3,616.0 L322.2,616.3 L321.0,616.6 L319.8,617.0 L318.5,617.6 L317.2,618.2 L315.9,618.8 L314.6,619.4 L313.4,619.9 L312.2,620.4 L311.1,620.9 L310.0,621.4 L308.9,621.8 L307.8,622.1 L306.8,622.1 L305.8,621.8 L304.9,621.1 L304.0,620.3 L303.1,619.5 L302.2,619.0 L301.4,618.8 L300.6,619.0 L299.7,619.5 L298.9,620.2 L298.1,621.1 L297.5,622.1 L297.0,623.2 L296.7,624.5 L296.5,625.9 L296.4,627.5 L296.5,629.2 L296.7,630.6 L297.0,631.9 L297.5,633.0 L298.1,634.1 L298.9,635.0 L299.8,635.7 L300.6,636.2 L301.4,636.3 L302.2,635.9 L303.0,635.2 L303.8,634.1 L304.5,632.9 L305.2,631.8 L305.7,630.8 L306.1,630.0 L306.3,629.1 L306.5,628.3 L306.6,627.6 L306.7,627.0 L306.8,626.5" fill="none" stroke="#3c6ad4" stroke-width="1.38" stroke-linecap="round" stroke-linejoin="round"/>
<path d="M337.4,619.9 L337.2,620.9 L336.9,622.2 L336.5,623.8 L336.2,625.5 L336.1,627.2 L336.3,628.6 L336.8,629.9 L337.6,631.1 L338.5,632.3 L339.6,633.4 L340.7,634.4 L341.7,635.2 L342.7,635.9 L343.8,636.5 L344.9,637.0 L346.1,637.3 L347.2,637.5 L348.3,637.4 L349.4,637.1 L350.6,636.5 L351.8,635.7 L353.0,634.8 L354.0,633.9 L354.8,633.0 L355.5,632.1 L356.1,631.0 L356.6,630.0 L356.9,629.0 L357.1,628.1 L357.0,627.5 L356.6,627.1 L356.0,626.9 L355.2,626.9 L354.3,627.0 L353.4,627.2 L352.6,627.5 L351.9,627.9 L351.2,628.5 L350.5,629.2 L349.7,630.0 L349.0,630.9 L348.3,631.9 L347.5,633.0 L346.6,634.2 L345.7,635.4 L344.9,636.8 L344.3,638.1 L343.9,639.5 L343.8,640.9 L343.9,642.5 L344.2,644.1 L344.6,645.7 L345.3,647.1 L346.1,648.3 L347.2,649.4 L348.5,650.3 L350.0,651.1 L351.7,651.8 L353.3,652.3 L354.8,652.6 L356.3,652.6 L357.8,652.5 L359.3,652.1 L360.8,651.6 L362.2,651.1 L363.5,650.5 L364.8,649.9 L366.0,649.4 L367.2,648.7 L368.3,648.0 L369.3,647.1 L370.1,646.1 L370.8,644.9 L371.4,643.4 L371.9,641.9 L372.2,640.3 L372.4,638.8 L372.3,637.4 L371.9,636.2 L371.0,635.1 L370.0,634.1 L369.0,633.1 L368.2,632.0 L367.9,630.8 L368.0,629.4 L368.5,627.9 L369.2,626.4 L370.0,624.8 L371.0,623.3 L372.0,622.0 L373.1,620.8 L374.4,619.7 L375.8,618.7 L377.2,617.7 L378.6,616.9 L380.0,616.0 L381.4,615.2 L383.0,614.4 L384.5,613.6 L385.9,613.0 L387.1,612.4 L388.0,612.0" fill="none" stroke="#1e44a8" stroke-width="2.5" stroke-linecap="round" stroke-linejoin="round"/>
<path d="M337.4,619.9 L337.2,620.9 L336.9,622.2 L336.5,623.8 L336.2,625.5 L336.1,627.2 L336.3,628.6 L336.8,629.9 L337.6,631.1 L338.5,632.3 L339.6,633.4 L340.7,634.4 L341.7,635.2 L342.7,635.9 L343.8,636.5 L344.9,637.0 L346.1,637.3 L347.2,637.5 L348.3,637.4 L349.4,637.1 L350.6,636.5 L351.8,635.7 L353.0,634.8 L354.0,633.9 L354.8,633.0 L355.5,632.1 L356.1,631.0 L356.6,630.0 L356.9,629.0 L357.1,628.1 L357.0,627.5 L356.6,627.1 L356.0,626.9 L355.2,626.9 L354.3,627.0 L353.4,627.2 L352.6,627.5 L351.9,627.9 L351.2,628.5 L350.5,629.2 L349.7,630.0 L349.0,630.9 L348.3,631.9 L347.5,633.0 L346.6,634.2 L345.7,635.4 L344.9,636.8 L344.3,638.1 L343.9,639.5 L343.8,640.9 L343.9,642.5 L344.2,644.1 L344.6,645.7 L345.3,647.1 L346.1,648.3 L347.2,649.4 L348.5,650.3 L350.0,651.1 L351.7,651.8 L353.3,652.3 L354.8,652.6 L356.3,652.6 L357.8,652.5 L359.3,652.1 L360.8,651.6 L362.2,651.1 L363.5,650.5 L364.8,649.9 L366.0,649.4 L367.2,648.7 L368.3,648.0 L369.3,647.1 L370.1,646.1 L370.8,644.9 L371.4,643.4 L371.9,641.9 L372.2,640.3 L372.4,638.8 L372.3,637.4 L371.9,636.2 L371.0,635.1 L370.0,634.1 L369.0,633.1 L368.2,632.0 L367.9,630.8 L368.0,629.4 L368.5,627.9 L369.2,626.4 L370.0,624.8 L371.0,623.3 L372.0,622.0 L373.1,620.8 L374.4,619.7 L375.8,618.7 L377.2,617.7 L378.6,616.9 L380.0,616.0 L381.4,615.2 L383.0,614.4 L384.5,613.6 L385.9,613.0 L387.1,612.4 L388.0,612.0" fill="none" stroke="#3c6ad4" stroke-width="1.38" stroke-linecap="round" stroke-linejoin="round"/>
<path d="M372.3,646.1 L373.0,647.1 L373.8,648.4 L374.9,650.0 L376.1,651.7 L377.4,653.4 L378.8,654.8 L380.4,656.1 L382.3,657.6 L384.4,658.9 L386.4,660.1 L388.2,661.0 L389.7,661.4 L390.8,661.4 L391.7,660.9 L392.4,660.2 L393.0,659.2 L393.6,658.1 L394.1,657.0 L394.5,655.7 L394.8,654.2 L395.1,652.5 L395.3,650.9 L395.7,649.4 L396.3,648.3 L397.1,647.5 L398.2,646.8 L399.4,646.2 L400.6,645.9 L401.7,645.9 L402.8,646.1 L403.9,646.7 L405.0,647.7 L406.1,648.9 L407.1,650.3 L407.8,651.5 L408.1,652.6 L408.0,653.6 L407.4,654.5 L406.6,655.5 L405.7,656.3 L404.7,656.8 L403.7,657.0 L402.7,656.7 L401.4,656.0 L400.2,655.1 L399.0,654.1 L397.9,653.2 L397.2,652.6" fill="none" stroke="#1e44a8" stroke-width="2.5" stroke-linecap="round" stroke-linejoin="round"/>
<path d="M372.3,646.1 L373.0,647.1 L373.8,648.4 L374.9,650.0 L376.1,651.7 L377.4,653.4 L378.8,654.8 L380.4,656.1 L382.3,657.6 L384.4,658.9 L386.4,660.1 L388.2,661.0 L389.7,661.4 L390.8,661.4 L391.7,660.9 L392.4,660.2 L393.0,659.2 L393.6,658.1 L394.1,657.0 L394.5,655.7 L394.8,654.2 L395.1,652.5 L395.3,650.9 L395.7,649.4 L396.3,648.3 L397.1,647.5 L398.2,646.8 L399.4,646.2 L400.6,645.9 L401.7,645.9 L402.8,646.1 L403.9,646.7 L405.0,647.7 L406.1,648.9 L407.1,650.3 L407.8,651.5 L408.1,652.6 L408.0,653.6 L407.4,654.5 L406.6,655.5 L405.7,656.3 L404.7,656.8 L403.7,657.0 L402.7,656.7 L401.4,656.0 L400.2,655.1 L399.0,654.1 L397.9,653.2 L397.2,652.6" fill="none" stroke="#3c6ad4" stroke-width="1.38" stroke-linecap="round" stroke-linejoin="round"/>
<path d="M322.1,657.0 L320.8,657.5 L319.0,658.1 L316.9,658.8 L314.8,659.6 L312.8,660.5 L311.2,661.4 L310.1,662.4 L309.2,663.4 L308.6,664.5 L308.0,665.6 L307.5,666.8 L306.8,667.9 L306.0,669.0 L305.0,670.1 L304.1,671.2 L303.3,672.3 L302.7,673.4 L302.5,674.5 L302.7,675.6 L303.1,676.6 L303.8,677.6 L304.7,678.7 L305.7,679.8 L306.8,681.0 L308.0,682.3 L309.5,683.8 L311.1,685.3 L312.8,686.9 L314.2,688.3 L315.5,689.7 L316.4,691.0 L317.1,692.5 L317.7,693.8 L318.3,695.0 L319.0,695.9 L319.9,696.3 L321.1,696.2 L322.5,695.5 L324.0,694.5 L325.5,693.4 L327.1,692.5 L328.6,691.9 L330.1,691.6 L331.5,691.5 L333.0,691.5 L334.5,691.6 L335.9,691.7 L337.4,691.9 L339.0,692.2 L340.6,692.6 L342.3,693.0 L343.8,693.4 L345.2,693.8 L346.1,694.1" fill="none" stroke="#1e44a8" stroke-width="2.5" stroke-linecap="round" stroke-linejoin="round"/>
<path d="M322.1,657.0 L320.8,657.5 L319.0,658.1 L316.9,658.8 L314.8,659.6 L312.8,660.5 L311.2,661.4 L310.1,662.4 L309.2,663.4 L308.6,664.5 L308.0,665.6 L307.5,666.8 L306.8,667.9 L306.0,669.0 L305.0,670.1 L304.1,671.2 L303.3,672.3 L302.7,673.4 L302.5,674.5 L302.7,675.6 L303.1,676.6 L303.8,677.6 L304.7,678.7 L305.7,679.8 L306.8,681.0 L308.0,682.3 L309.5,683.8 L311.1,685.3 L312.8,686.9 L314.2,688.3 L315.5,689.7 L316.4,691.0 L317.1,692.5 L317.7,693.8 L318.3,695.0 L319.0,695.9 L319.9,696.3 L321.1,696.2 L322.5,695.5 L324.0,694.5 L325.5,693.4 L327.1,692.5 L328.6,691.9 L330.1,691.6 L331.5,691.5 L333.0,691.5 L334.5,691.6 L335.9,691.7 L337.4,691.9 L339.0,692.2 L340.6,692.6 L342.3,693.0 L343.8,693.4 L345.2,693.8 L346.1,694.1" fill="none" stroke="#3c6ad4" stroke-width="1.38" stroke-linecap="round" stroke-linejoin="round"/>
<path d="M395.0,609.0 L396.0,609.4 L397.4,609.9 L399.1,610.5 L400.8,611.3 L402.4,612.2 L403.7,613.4 L404.7,614.9 L405.6,616.7 L406.3,618.7 L407.0,620.8 L407.5,622.7 L408.1,624.3 L408.5,625.8 L408.8,627.2 L409.1,628.5 L409.3,629.6 L409.7,630.4 L410.3,630.8 L411.1,630.7 L412.1,630.1 L413.3,629.2 L414.5,628.2 L415.7,627.2 L416.8,626.5 L417.9,625.9 L419.0,625.4 L420.1,624.9 L421.2,624.6 L422.3,624.3 L423.4,624.3 L424.5,624.5 L425.6,625.0 L426.6,625.7 L427.7,626.4 L428.8,627.0 L429.9,627.5 L431.0,627.8 L432.1,628.1 L433.2,628.4 L434.3,628.5 L435.4,628.6 L436.5,628.6 L437.7,628.5 L439.1,628.4 L440.4,628.2 L441.6,627.8 L442.5,627.3 L443.0,626.5 L442.9,625.4 L442.3,624.0 L441.3,622.4 L440.3,620.7 L439.3,619.1 L438.6,617.7 L438.0,616.4 L437.5,615.2 L437.0,614.1 L436.6,613.0 L436.5,612.1 L436.5,611.2 L436.8,610.4 L437.4,609.6 L438.1,608.9 L439.0,608.4 L439.9,608.0 L440.8,607.9 L441.8,608.0 L443.1,608.4 L444.4,608.9 L445.6,609.6 L446.7,610.4 L447.4,611.2 L447.7,612.2 L447.8,613.6 L447.6,615.1 L447.4,616.4 L447.3,617.3 L447.4,617.7 L447.7,617.4 L448.2,616.5 L448.8,615.3 L449.4,613.9 L450.0,612.4 L450.6,611.2 L451.1,610.0 L451.6,608.8 L452.0,607.5 L452.6,606.3 L453.2,605.3 L453.9,604.6 L454.9,604.1 L456.0,603.9 L457.3,603.8 L458.5,603.9 L459.6,604.1 L460.5,604.6 L461.2,605.3 L461.7,606.3 L462.1,607.5 L462.4,608.8 L462.5,610.0 L462.6,611.2 L462.4,612.3 L462.1,613.4 L461.6,614.5 L461.0,615.5 L460.7,616.6 L460.5,617.7 L460.7,618.8 L461.0,619.9 L461.6,621.0 L462.1,622.1 L462.4,623.2 L462.6,624.3 L462.5,625.4 L462.3,626.5 L462.0,627.5 L461.5,628.6 L461.0,629.7 L460.5,630.8 L459.9,631.9 L459.4,633.1 L458.7,634.2 L458.0,635.4 L457.1,636.4 L456.1,637.4 L454.9,638.3 L453.4,639.1 L451.9,639.8 L450.3,640.5 L448.8,641.1 L447.4,641.7 L446.1,642.1 L444.9,642.4 L443.8,642.7 L442.7,642.9 L441.7,643.3 L440.8,643.9 L440.1,644.8 L439.5,645.9 L438.9,647.1 L438.5,648.3 L438.0,649.5 L437.5,650.5 L436.9,651.4 L436.3,652.3 L435.7,653.1 L435.1,653.8 L434.6,654.4 L434.3,654.8" fill="none" stroke="#1e44a8" stroke-width="2.5" stroke-linecap="round" stroke-linejoin="round"/>
<path d="M395.0,609.0 L396.0,609.4 L397.4,609.9 L399.1,610.5 L400.8,611.3 L402.4,612.2 L403.7,613.4 L404.7,614.9 L405.6,616.7 L406.3,618.7 L407.0,620.8 L407.5,622.7 L408.1,624.3 L408.5,625.8 L408.8,627.2 L409.1,628.5 L409.3,629.6 L409.7,630.4 L410.3,630.8 L411.1,630.7 L412.1,630.1 L413.3,629.2 L414.5,628.2 L415.7,627.2 L416.8,626.5 L417.9,625.9 L419.0,625.4 L420.1,624.9 L421.2,624.6 L422.3,624.3 L423.4,624.3 L424.5,624.5 L425.6,625.0 L426.6,625.7 L427.7,626.4 L428.8,627.0 L429.9,627.5 L431.0,627.8 L432.1,628.1 L433.2,628.4 L434.3,628.5 L435.4,628.6 L436.5,628.6 L437.7,628.5 L439.1,628.4 L440.4,628.2 L441.6,627.8 L442.5,627.3 L443.0,626.5 L442.9,625.4 L442.3,624.0 L441.3,622.4 L440.3,620.7 L439.3,619.1 L438.6,617.7 L438.0,616.4 L437.5,615.2 L437.0,614.1 L436.6,613.0 L436.5,612.1 L436.5,611.2 L436.8,610.4 L437.4,609.6 L438.1,608.9 L439.0,608.4 L439.9,608.0 L440.8,607.9 L441.8,608.0 L443.1,608.4 L444.4,608.9 L445.6,609.6 L446.7,610.4 L447.4,611.2 L447.7,612.2 L447.8,613.6 L447.6,615.1 L447.4,616.4 L447.3,617.3 L447.4,617.7 L447.7,617.4 L448.2,616.5 L448.8,615.3 L449.4,613.9 L450.0,612.4 L450.6,611.2 L451.1,610.0 L451.6,608.8 L452.0,607.5 L452.6,606.3 L453.2,605.3 L453.9,604.6 L454.9,604.1 L456.0,603.9 L457.3,603.8 L458.5,603.9 L459.6,604.1 L460.5,604.6 L461.2,605.3 L461.7,606.3 L462.1,607.5 L462.4,608.8 L462.5,610.0 L462.6,611.2 L462.4,612.3 L462.1,613.4 L461.6,614.5 L461.0,615.5 L460.7,616.6 L460.5,617.7 L460.7,618.8 L461.0,619.9 L461.6,621.0 L462.1,622.1 L462.4,623.2 L462.6,624.3 L462.5,625.4 L462.3,626.5 L462.0,627.5 L461.5,628.6 L461.0,629.7 L460.5,630.8 L459.9,631.9 L459.4,633.1 L458.7,634.2 L458.0,635.4 L457.1,636.4 L456.1,637.4 L454.9,638.3 L453.4,639.1 L451.9,639.8 L450.3,640.5 L448.8,641.1 L447.4,641.7 L446.1,642.1 L444.9,642.4 L443.8,642.7 L442.7,642.9 L441.7,643.3 L440.8,643.9 L440.1,644.8 L439.5,645.9 L438.9,647.1 L438.5,648.3 L438.0,649.5 L437.5,650.5 L436.9,651.4 L436.3,652.3 L435.7,653.1 L435.1,653.8 L434.6,654.4 L434.3,654.8" fill="none" stroke="#3c6ad4" stroke-width="1.38" stroke-linecap="round" stroke-linejoin="round"/>
<path d="M395.0,637.4 L395.7,637.4 L396.8,637.3 L398.0,637.3 L399.2,637.2 L400.5,637.3 L401.5,637.4 L402.4,637.6 L403.1,637.9 L403.8,638.2 L404.5,638.6 L405.2,639.0 L405.9,639.5 L406.7,640.2 L407.5,641.0 L408.4,641.8 L409.2,642.7 L409.8,643.4 L410.3,643.9" fill="none" stroke="#1e44a8" stroke-width="2.5" stroke-linecap="round" stroke-linejoin="round"/>
<path d="M395.0,637.4 L395.7,637.4 L396.8,637.3 L398.0,637.3 L399.2,637.2 L400.5,637.3 L401.5,637.4 L402.4,637.6 L403.1,637.9 L403.8,638.2 L404.5,638.6 L405.2,639.0 L405.9,639.5 L406.7,640.2 L407.5,641.0 L408.4,641.8 L409.2,642.7 L409.8,643.4 L410.3,643.9" fill="none" stroke="#3c6ad4" stroke-width="1.38" stroke-linecap="round" stroke-linejoin="round"/>
<path d="M412.5,654.8 L412.2,655.8 L411.8,657.1 L411.3,658.7 L410.8,660.3 L410.4,662.0 L410.3,663.6 L410.4,665.1 L410.5,666.7 L410.9,668.2 L411.3,669.7 L411.8,671.1 L412.5,672.3 L413.3,673.3 L414.3,674.1 L415.3,674.7 L416.5,675.3 L417.7,675.9 L419.0,676.6 L420.3,677.3 L421.8,678.0 L423.3,678.7 L424.9,679.4 L426.3,680.1 L427.7,681.0 L429.0,682.0 L430.3,683.0 L431.5,684.2 L432.6,685.3 L433.5,686.5 L434.3,687.6 L434.9,688.7 L435.2,689.7 L435.5,690.7 L435.6,691.8 L435.5,692.9 L435.4,694.1 L435.1,695.6 L434.6,697.3 L434.0,699.1 L433.3,700.8 L432.6,702.1 L432.1,702.8 L431.6,702.8 L431.2,702.2 L430.8,701.3 L430.4,700.2 L430.1,699.3 L429.9,698.7" fill="none" stroke="#1e44a8" stroke-width="2.5" stroke-linecap="round" stroke-linejoin="round"/>
<path d="M412.5,654.8 L412.2,655.8 L411.8,657.1 L411.3,658.7 L410.8,660.3 L410.4,662.0 L410.3,663.6 L410.4,665.1 L410.5,666.7 L410.9,668.2 L411.3,669.7 L411.8,671.1 L412.5,672.3 L413.3,673.3 L414.3,674.1 L415.3,674.7 L416.5,675.3 L417.7,675.9 L419.0,676.6 L420.3,677.3 L421.8,678.0 L423.3,678.7 L424.9,679.4 L426.3,680.1 L427.7,681.0 L429.0,682.0 L430.3,683.0 L431.5,684.2 L432.6,685.3 L433.5,686.5 L434.3,687.6 L434.9,688.7 L435.2,689.7 L435.5,690.7 L435.6,691.8 L435.5,692.9 L435.4,694.1 L435.1,695.6 L434.6,697.3 L434.0,699.1 L433.3,700.8 L432.6,702.1 L432.1,702.8 L431.6,702.8 L431.2,702.2 L430.8,701.3 L430.4,700.2 L430.1,699.3 L429.9,698.7" fill="none" stroke="#3c6ad4" stroke-width="1.38" stroke-linecap="round" stroke-linejoin="round"/>
<path d="M395.0,650.5 L395.5,651.2 L396.1,652.0 L396.9,653.1 L397.8,654.3 L398.6,655.6 L399.4,657.0 L400.1,658.6 L400.9,660.3 L401.7,662.2 L402.4,664.1 L403.1,666.0 L403.7,667.9 L404.2,669.8 L404.7,671.7 L405.1,673.6 L405.4,675.4 L405.7,677.2 L405.9,678.8 L406.0,680.3 L406.0,681.6 L406.0,682.8 L405.9,684.0 L405.9,685.0 L406.0,686.0 L406.2,686.8 L406.5,687.4 L406.9,687.9 L407.3,688.4 L407.7,689.1 L408.1,690.0 L408.5,691.2 L408.8,692.6 L409.2,694.2 L409.6,695.8 L409.9,697.3 L410.3,698.7 L410.7,699.9 L411.3,701.0 L411.8,702.0 L412.3,703.0 L412.5,704.1 L412.5,705.3 L412.1,706.6 L411.5,708.0 L410.7,709.5 L409.8,711.0 L408.9,712.5 L408.1,714.0 L407.3,715.4 L406.4,716.9 L405.5,718.3 L404.7,719.8 L404.1,721.2 L403.7,722.7 L403.6,724.2 L403.7,725.8 L404.0,727.4 L404.4,728.9 L405.1,730.3 L405.9,731.5 L407.0,732.5 L408.4,733.3 L410.0,733.9 L411.6,734.5 L413.2,735.1 L414.6,735.8 L415.8,736.5 L417.0,737.2 L418.0,737.9 L419.1,738.6 L420.1,739.3 L421.2,740.2 L422.3,741.2 L423.4,742.4 L424.4,743.6 L425.5,744.8 L426.6,745.8 L427.7,746.7 L428.8,747.4 L430.0,748.0 L431.1,748.5 L432.3,748.8 L433.3,749.0 L434.3,748.9 L435.2,748.5 L436.0,747.9 L436.7,747.1 L437.4,746.2 L438.0,745.3 L438.6,744.5 L439.2,743.8 L439.7,743.1 L440.2,742.4 L440.6,741.6 L440.8,740.9 L440.8,740.2 L440.4,739.5 L439.8,738.8 L438.9,738.1 L438.0,737.4 L437.2,736.7 L436.5,735.8 L436.0,734.9 L435.5,734.0 L435.1,733.0 L434.7,731.9 L434.5,730.7 L434.3,729.3 L434.3,727.7 L434.5,726.0 L434.8,724.1 L435.1,722.2 L435.3,720.3 L435.4,718.4 L435.4,716.6 L435.3,714.7 L435.2,712.8 L435.0,711.0 L434.7,709.2 L434.3,707.5 L433.7,705.8 L432.9,704.1 L432.0,702.4 L431.2,700.9 L430.4,699.6 L429.9,698.7" fill="none" stroke="#1e44a8" stroke-width="2.5" stroke-linecap="round" stroke-linejoin="round"/>
<path d="M395.0,650.5 L395.5,651.2 L396.1,652.0 L396.9,653.1 L397.8,654.3 L398.6,655.6 L399.4,657.0 L400.1,658.6 L400.9,660.3 L401.7,662.2 L402.4,664.1 L403.1,666.0 L403.7,667.9 L404.2,669.8 L404.7,671.7 L405.1,673.6 L405.4,675.4 L405.7,677.2 L405.9,678.8 L406.0,680.3 L406.0,681.6 L406.0,682.8 L405.9,684.0 L405.9,685.0 L406.0,686.0 L406.2,686.8 L406.5,687.4 L406.9,687.9 L407.3,688.4 L407.7,689.1 L408.1,690.0 L408.5,691.2 L408.8,692.6 L409.2,694.2 L409.6,695.8 L409.9,697.3 L410.3,698.7 L410.7,699.9 L411.3,701.0 L411.8,702.0 L412.3,703.0 L412.5,704.1 L412.5,705.3 L412.1,706.6 L411.5,708.0 L410.7,709.5 L409.8,711.0 L408.9,712.5 L408.1,714.0 L407.3,715.4 L406.4,716.9 L405.5,718.3 L404.7,719.8 L404.1,721.2 L403.7,722.7 L403.6,724.2 L403.7,725.8 L404.0,727.4 L404.4,728.9 L405.1,730.3 L405.9,731.5 L407.0,732.5 L408.4,733.3 L410.0,733.9 L411.6,734.5 L413.2,735.1 L414.6,735.8 L415.8,736.5 L417.0,737.2 L418.0,737.9 L419.1,738.6 L420.1,739.3 L421.2,740.2 L422.3,741.2 L423.4,742.4 L424.4,743.6 L425.5,744.8 L426.6,745.8 L427.7,746.7 L428.8,747.4 L430.0,748.0 L431.1,748.5 L432.3,748.8 L433.3,749.0 L434.3,748.9 L435.2,748.5 L436.0,747.9 L436.7,747.1 L437.4,746.2 L438.0,745.3 L438.6,744.5 L439.2,743.8 L439.7,743.1 L440.2,742.4 L440.6,741.6 L440.8,740.9 L440.8,740.2 L440.4,739.5 L439.8,738.8 L438.9,738.1 L438.0,737.4 L437.2,736.7 L436.5,735.8 L436.0,734.9 L435.5,734.0 L435.1,733.0 L434.7,731.9 L434.5,730.7 L434.3,729.3 L434.3,727.7 L434.5,726.0 L434.8,724.1 L435.1,722.2 L435.3,720.3 L435.4,718.4 L435.4,716.6 L435.3,714.7 L435.2,712.8 L435.0,711.0 L434.7,709.2 L434.3,707.5 L433.7,705.8 L432.9,704.1 L432.0,702.4 L431.2,700.9 L430.4,699.6 L429.9,698.7" fill="none" stroke="#3c6ad4" stroke-width="1.38" stroke-linecap="round" stroke-linejoin="round"/>
<path d="M319.9,733.6 L319.0,733.1 L317.6,732.5 L316.1,731.7 L314.4,730.9 L312.8,730.1 L311.2,729.3 L309.8,728.5 L308.3,727.7 L306.9,726.9 L305.4,726.1 L304.0,725.4 L302.5,724.9 L301.0,724.4 L299.5,724.0 L298.0,723.7 L296.5,723.6 L295.0,723.6 L293.7,723.8 L292.4,724.3 L291.2,725.0 L290.0,725.9 L289.0,727.0 L288.0,728.1 L287.2,729.3 L286.5,730.6 L285.9,732.0 L285.4,733.4 L285.1,735.0 L284.9,736.5 L285.0,738.0 L285.5,739.5 L286.3,741.0 L287.3,742.5 L288.3,744.0 L289.1,745.4 L289.4,746.7 L289.1,748.0 L288.4,749.3 L287.5,750.5 L286.5,751.7 L285.6,752.6 L285.0,753.3" fill="none" stroke="#1e44a8" stroke-width="2.5" stroke-linecap="round" stroke-linejoin="round"/>
<path d="M319.9,733.6 L319.0,733.1 L317.6,732.5 L316.1,731.7 L314.4,730.9 L312.8,730.1 L311.2,729.3 L309.8,728.5 L308.3,727.7 L306.9,726.9 L305.4,726.1 L304.0,725.4 L302.5,724.9 L301.0,724.4 L299.5,724.0 L298.0,723.7 L296.5,723.6 L295.0,723.6 L293.7,723.8 L292.4,724.3 L291.2,725.0 L290.0,725.9 L289.0,727.0 L288.0,728.1 L287.2,729.3 L286.5,730.6 L285.9,732.0 L285.4,733.4 L285.1,735.0 L284.9,736.5 L285.0,738.0 L285.5,739.5 L286.3,741.0 L287.3,742.5 L288.3,744.0 L289.1,745.4 L289.4,746.7 L289.1,748.0 L288.4,749.3 L287.5,750.5 L286.5,751.7 L285.6,752.6 L285.0,753.3" fill="none" stroke="#3c6ad4" stroke-width="1.38" stroke-linecap="round" stroke-linejoin="round"/>
<path d="M298.1,733.6 L297.8,734.3 L297.3,735.4 L296.7,736.6 L296.2,737.9 L295.9,739.2 L295.9,740.2 L296.2,741.1 L296.7,742.0 L297.4,742.9 L298.3,743.6 L299.2,744.2 L300.3,744.5 L301.5,744.6 L303.0,744.4 L304.5,744.1 L306.1,743.7 L307.6,743.1 L309.0,742.4 L310.3,741.5 L311.6,740.3 L312.8,739.0 L313.9,737.7 L314.8,736.6 L315.5,735.8" fill="none" stroke="#1e44a8" stroke-width="2.5" stroke-linecap="round" stroke-linejoin="round"/>
<path d="M298.1,733.6 L297.8,734.3 L297.3,735.4 L296.7,736.6 L296.2,737.9 L295.9,739.2 L295.9,740.2 L296.2,741.1 L296.7,742.0 L297.4,742.9 L298.3,743.6 L299.2,744.2 L300.3,744.5 L301.5,744.6 L303.0,744.4 L304.5,744.1 L306.1,743.7 L307.6,743.1 L309.0,742.4 L310.3,741.5 L311.6,740.3 L312.8,739.0 L313.9,737.7 L314.8,736.6 L315.5,735.8" fill="none" stroke="#3c6ad4" stroke-width="1.38" stroke-linecap="round" stroke-linejoin="round"/>
<path d="M285.0,751.1 L285.9,751.6 L287.3,752.2 L288.8,752.9 L290.5,753.7 L292.1,754.6 L293.7,755.5 L295.2,756.5 L296.6,757.5 L298.1,758.6 L299.6,759.7 L301.0,760.9 L302.5,762.0 L304.0,763.1 L305.4,764.2 L306.9,765.3 L308.3,766.4 L309.8,767.5 L311.2,768.6 L312.6,769.7 L314.1,770.9 L315.5,772.0 L317.0,773.1 L318.4,774.1 L319.9,775.1 L321.3,776.0 L322.8,776.7 L324.2,777.4 L325.7,778.1 L327.1,778.8 L328.6,779.5 L330.1,780.2 L331.8,780.9 L333.5,781.5 L335.0,782.2 L336.4,783.0 L337.4,783.8 L338.1,784.8 L338.6,786.0 L338.8,787.2 L338.9,788.4 L338.8,789.5 L338.5,790.4 L338.0,791.1 L337.1,791.7 L336.1,792.2 L335.0,792.5 L333.9,792.7 L333.0,792.6 L332.2,792.3 L331.4,791.7 L330.6,791.0 L329.9,790.1 L329.2,789.1 L328.6,788.2 L328.1,787.2 L327.7,785.9 L327.3,784.6 L327.0,783.4 L326.7,782.3 L326.5,781.6" fill="none" stroke="#1e44a8" stroke-width="2.5" stroke-linecap="round" stroke-linejoin="round"/>
<path d="M285.0,751.1 L285.9,751.6 L287.3,752.2 L288.8,752.9 L290.5,753.7 L292.1,754.6 L293.7,755.5 L295.2,756.5 L296.6,757.5 L298.1,758.6 L299.6,759.7 L301.0,760.9 L302.5,762.0 L304.0,763.1 L305.4,764.2 L306.9,765.3 L308.3,766.4 L309.8,767.5 L311.2,768.6 L312.6,769.7 L314.1,770.9 L315.5,772.0 L317.0,773.1 L318.4,774.1 L319.9,775.1 L321.3,776.0 L322.8,776.7 L324.2,777.4 L325.7,778.1 L327.1,778.8 L328.6,779.5 L330.1,780.2 L331.8,780.9 L333.5,781.5 L335.0,782.2 L336.4,783.0 L337.4,783.8 L338.1,784.8 L338.6,786.0 L338.8,787.2 L338.9,788.4 L338.8,789.5 L338.5,790.4 L338.0,791.1 L337.1,791.7 L336.1,792.2 L335.0,792.5 L333.9,792.7 L333.0,792.6 L332.2,792.3 L331.4,791.7 L330.6,791.0 L329.9,790.1 L329.2,789.1 L328.6,788.2 L328.1,787.2 L327.7,785.9 L327.3,784.6 L327.0,783.4 L326.7,782.3 L326.5,781.6" fill="none" stroke="#3c6ad4" stroke-width="1.38" stroke-linecap="round" stroke-linejoin="round"/>
<path d="M319.9,738.0 L319.6,738.9 L319.1,740.2 L318.5,741.7 L318.0,743.3 L317.7,745.0 L317.7,746.7 L318.0,748.4 L318.4,750.3 L319.1,752.3 L319.9,754.2 L320.9,756.0 L322.1,757.6 L323.6,759.0 L325.3,760.2 L327.3,761.3 L329.3,762.3 L331.2,763.3 L333.0,764.2 L334.6,765.0 L336.1,765.7 L337.5,766.3 L338.9,766.9 L340.3,767.6 L341.7,768.6 L343.1,769.9 L344.5,771.4 L346.0,773.1 L347.4,774.7 L348.9,776.2 L350.5,777.3 L352.2,778.1 L354.1,778.8 L356.1,779.4 L358.0,779.7 L359.8,779.7 L361.4,779.5 L362.8,779.0 L364.0,778.1 L365.1,777.0 L366.1,775.7 L367.1,774.4 L367.9,772.9 L368.7,771.3 L369.3,769.6 L369.9,767.7 L370.4,765.8 L370.8,763.9 L371.2,762.0 L371.5,760.2 L371.8,758.4 L372.0,756.5 L372.1,754.7 L372.2,752.9 L372.3,751.1 L372.4,749.2 L372.5,747.1 L372.6,745.1 L372.7,743.2 L372.6,741.5 L372.3,740.2 L371.8,739.3 L371.2,738.6 L370.4,738.1 L369.5,737.9 L368.7,737.9 L367.9,738.0 L367.2,738.4 L366.5,739.1 L365.8,740.1 L365.1,741.0 L364.4,741.8 L363.5,742.4 L362.5,742.7 L361.2,742.7 L360.0,742.7 L358.8,742.6 L357.7,742.5 L357.0,742.4" fill="none" stroke="#1e44a8" stroke-width="2.5" stroke-linecap="round" stroke-linejoin="round"/>
<path d="M319.9,738.0 L319.6,738.9 L319.1,740.2 L318.5,741.7 L318.0,743.3 L317.7,745.0 L317.7,746.7 L318.0,748.4 L318.4,750.3 L319.1,752.3 L319.9,754.2 L320.9,756.0 L322.1,757.6 L323.6,759.0 L325.3,760.2 L327.3,761.3 L329.3,762.3 L331.2,763.3 L333.0,764.2 L334.6,765.0 L336.1,765.7 L337.5,766.3 L338.9,766.9 L340.3,767.6 L341.7,768.6 L343.1,769.9 L344.5,771.4 L346.0,773.1 L347.4,774.7 L348.9,776.2 L350.5,777.3 L352.2,778.1 L354.1,778.8 L356.1,779.4 L358.0,779.7 L359.8,779.7 L361.4,779.5 L362.8,779.0 L364.0,778.1 L365.1,777.0 L366.1,775.7 L367.1,774.4 L367.9,772.9 L368.7,771.3 L369.3,769.6 L369.9,767.7 L370.4,765.8 L370.8,763.9 L371.2,762.0 L371.5,760.2 L371.8,758.4 L372.0,756.5 L372.1,754.7 L372.2,752.9 L372.3,751.1 L372.4,749.2 L372.5,747.1 L372.6,745.1 L372.7,743.2 L372.6,741.5 L372.3,740.2 L371.8,739.3 L371.2,738.6 L370.4,738.1 L369.5,737.9 L368.7,737.9 L367.9,738.0 L367.2,738.4 L366.5,739.1 L365.8,740.1 L365.1,741.0 L364.4,741.8 L363.5,742.4 L362.5,742.7 L361.2,742.7 L360.0,742.7 L358.8,742.6 L357.7,742.5 L357.0,742.4" fill="none" stroke="#3c6ad4" stroke-width="1.38" stroke-linecap="round" stroke-linejoin="round"/>
<path d="M313.4,690.0 L313.6,691.0 L313.8,692.5 L314.0,694.2 L314.4,696.0 L314.9,697.5 L315.5,698.7 L316.3,699.5 L317.4,700.2 L318.5,700.6 L319.7,700.9 L321.0,701.0 L322.1,700.9 L323.2,700.5 L324.3,699.9 L325.4,699.1 L326.4,698.2 L327.5,697.3 L328.6,696.5 L329.6,695.7 L330.6,694.9 L331.6,694.0 L332.7,693.2 L333.9,692.6 L335.2,692.2 L336.8,692.0 L338.7,692.1 L340.7,692.3 L342.6,692.6 L344.5,692.9 L346.1,693.3 L347.5,693.7 L348.7,694.1 L349.8,694.6 L350.8,695.1 L351.7,695.7 L352.6,696.5 L353.5,697.4 L354.5,698.4 L355.3,699.5 L356.1,700.6 L356.7,701.8 L357.0,703.1 L357.0,704.5 L356.7,706.2 L356.2,707.9 L355.6,709.5 L355.1,710.8 L354.8,711.8" fill="none" stroke="#1e44a8" stroke-width="2.5" stroke-linecap="round" stroke-linejoin="round"/>
<path d="M313.4,690.0 L313.6,691.0 L313.8,692.5 L314.0,694.2 L314.4,696.0 L314.9,697.5 L315.5,698.7 L316.3,699.5 L317.4,700.2 L318.5,700.6 L319.7,700.9 L321.0,701.0 L322.1,700.9 L323.2,700.5 L324.3,699.9 L325.4,699.1 L326.4,698.2 L327.5,697.3 L328.6,696.5 L329.6,695.7 L330.6,694.9 L331.6,694.0 L332.7,693.2 L333.9,692.6 L335.2,692.2 L336.8,692.0 L338.7,692.1 L340.7,692.3 L342.6,692.6 L344.5,692.9 L346.1,693.3 L347.5,693.7 L348.7,694.1 L349.8,694.6 L350.8,695.1 L351.7,695.7 L352.6,696.5 L353.5,697.4 L354.5,698.4 L355.3,699.5 L356.1,700.6 L356.7,701.8 L357.0,703.1 L357.0,704.5 L356.7,706.2 L356.2,707.9 L355.6,709.5 L355.1,710.8 L354.8,711.8" fill="none" stroke="#3c6ad4" stroke-width="1.38" stroke-linecap="round" stroke-linejoin="round"/>
<path d="M327.7,625.2 L329.8,624.1 L332.0,623.8 L334.1,622.8 L336.2,621.9 L338.5,621.8 L340.6,622.7 L342.4,624.2 L343.5,626.2 L343.8,628.5 L343.0,630.6 L341.3,632.1 L339.6,633.6 L338.8,635.8 L339.1,638.1 L340.5,639.9 L342.6,640.8 L344.6,639.6 L345.9,637.7 L347.4,636.0 L348.8,634.2 L349.9,632.2 L351.1,630.2 L352.7,628.6 L352.0,626.4 L350.9,624.4 L348.9,623.2 L347.4,621.4 L345.7,619.9 L343.8,618.6 L341.8,617.6 L340.2,615.9 L338.1,615.1 L335.8,615.4 L334.0,616.8 L333.0,618.9 L333.2,621.2 L333.5,623.4 L332.7,625.6 L332.4,627.9 L333.2,630.0 L334.8,631.7 L336.1,633.6 L336.7,635.8 L337.4,638.0 L339.1,639.6" fill="none" stroke="#1e44a8" stroke-width="2.4" stroke-linecap="round" stroke-linejoin="round"/>
<path d="M327.7,625.2 L329.8,624.1 L332.0,623.8 L334.1,622.8 L336.2,621.9 L338.5,621.8 L340.6,622.7 L342.4,624.2 L343.5,626.2 L343.8,628.5 L343.0,630.6 L341.3,632.1 L339.6,633.6 L338.8,635.8 L339.1,638.1 L340.5,639.9 L342.6,640.8 L344.6,639.6 L345.9,637.7 L347.4,636.0 L348.8,634.2 L349.9,632.2 L351.1,630.2 L352.7,628.6 L352.0,626.4 L350.9,624.4 L348.9,623.2 L347.4,621.4 L345.7,619.9 L343.8,618.6 L341.8,617.6 L340.2,615.9 L338.1,615.1 L335.8,615.4 L334.0,616.8 L333.0,618.9 L333.2,621.2 L333.5,623.4 L332.7,625.6 L332.4,627.9 L333.2,630.0 L334.8,631.7 L336.1,633.6 L336.7,635.8 L337.4,638.0 L339.1,639.6" fill="none" stroke="#3c6ad4" stroke-width="1.32" stroke-linecap="round" stroke-linejoin="round"/>
<path d="M437.8,619.2 L435.7,620.1 L433.8,621.4 L432.5,623.3 L432.2,625.6 L432.1,627.9 L434.0,629.2 L436.3,629.4 L438.4,628.5 L439.9,626.7 L440.9,624.7 L442.8,623.3 L444.9,622.3 L446.7,621.0 L449.0,620.7 L451.2,621.5 L453.1,622.8 L454.2,624.8 L453.8,627.0 L452.0,628.5 L449.8,628.9 L447.5,628.6 L445.2,628.3 L443.2,627.1 L441.4,625.7 L440.4,623.6 L440.6,621.3 L441.8,619.4 L443.2,617.5 L445.1,616.2 L447.2,615.4 L449.5,615.7 L451.7,616.4 L453.3,618.0 L453.9,620.2 L453.7,622.5 L452.5,624.5 L450.5,625.6 L448.2,625.7 L445.9,625.7 L443.7,625.3" fill="none" stroke="#1e44a8" stroke-width="2.4" stroke-linecap="round" stroke-linejoin="round"/>
<path d="M437.8,619.2 L435.7,620.1 L433.8,621.4 L432.5,623.3 L432.2,625.6 L432.1,627.9 L434.0,629.2 L436.3,629.4 L438.4,628.5 L439.9,626.7 L440.9,624.7 L442.8,623.3 L444.9,622.3 L446.7,621.0 L449.0,620.7 L451.2,621.5 L453.1,622.8 L454.2,624.8 L453.8,627.0 L452.0,628.5 L449.8,628.9 L447.5,628.6 L445.2,628.3 L443.2,627.1 L441.4,625.7 L440.4,623.6 L440.6,621.3 L441.8,619.4 L443.2,617.5 L445.1,616.2 L447.2,615.4 L449.5,615.7 L451.7,616.4 L453.3,618.0 L453.9,620.2 L453.7,622.5 L452.5,624.5 L450.5,625.6 L448.2,625.7 L445.9,625.7 L443.7,625.3" fill="none" stroke="#3c6ad4" stroke-width="1.32" stroke-linecap="round" stroke-linejoin="round"/>
<path d="M368.4,640.5 L366.1,640.5 L363.8,641.0 L361.5,640.8 L359.5,639.7 L357.2,639.8 L355.1,640.8 L353.8,642.7 L351.8,643.8 L349.5,643.7 L347.5,642.6 L346.3,640.6 L346.2,638.3 L347.2,636.2 L349.0,634.9 L351.1,633.8 L352.5,632.0 L354.5,630.9 L355.7,628.9 L355.9,626.7 L358.1,625.9 L360.3,626.5 L361.9,628.2 L362.5,630.4 L363.1,632.6 L364.7,634.3 L366.9,635.1 L368.7,636.4 L369.7,638.5 L369.6,640.8 L368.3,642.7" fill="none" stroke="#1e44a8" stroke-width="2.4" stroke-linecap="round" stroke-linejoin="round"/>
<path d="M368.4,640.5 L366.1,640.5 L363.8,641.0 L361.5,640.8 L359.5,639.7 L357.2,639.8 L355.1,640.8 L353.8,642.7 L351.8,643.8 L349.5,643.7 L347.5,642.6 L346.3,640.6 L346.2,638.3 L347.2,636.2 L349.0,634.9 L351.1,633.8 L352.5,632.0 L354.5,630.9 L355.7,628.9 L355.9,626.7 L358.1,625.9 L360.3,626.5 L361.9,628.2 L362.5,630.4 L363.1,632.6 L364.7,634.3 L366.9,635.1 L368.7,636.4 L369.7,638.5 L369.6,640.8 L368.3,642.7" fill="none" stroke="#3c6ad4" stroke-width="1.32" stroke-linecap="round" stroke-linejoin="round"/>
<defs><linearGradient id="sg1" x1="0" y1="0" x2="1" y2="0"><stop offset="0" stop-color="#5a5a5a"/><stop offset="0.5" stop-color="#9a9a9a"/><stop offset="1" stop-color="#d8d8d8"/></linearGradient></defs>
<path d="M316,630 L330,612 L338,616 L342,632 L346,640 L332,644 L322,640 Z" fill="url(#sg1)" stroke="#555" stroke-width="0.7"/>
<path d="M330,618 L336,620 L340,634 L332,636 Z" fill="#e8e8e8" opacity="0.7"/>
<path d="M446,648 L460,644 L470,652 L470,672 L460,676 L450,668 Z" fill="url(#sg1)" stroke="#555" stroke-width="0.7"/>
<path d="M468,654 L480,652 L488,662 L480,674 L468,672 Z" fill="#b8b8b8" stroke="#666" stroke-width="0.7"/>
<path d="M472,657 L480,656 L484,663 L478,668 Z" fill="#e4e4e4" opacity="0.8"/>
<ellipse cx="342" cy="729" rx="20" ry="18" fill="#0f4cb4" stroke="#0a3484" stroke-width="0.8"/>
<path d="M318,737 Q330,750 349,741" fill="none" stroke="#0a3484" stroke-width="11.5" stroke-linecap="round"/>
<path d="M318,737 Q330,750 349,741" fill="none" stroke="#2a86ea" stroke-width="10" stroke-linecap="round"/>
<path d="M321,738 Q331,746 346,740" fill="none" stroke="#86c4ff" stroke-width="2.4" stroke-linecap="round" opacity="0.85"/>
<path d="M357,718 Q366,732 354,747" fill="none" stroke="#0a3484" stroke-width="9.5" stroke-linecap="round"/>
<path d="M357,718 Q366,732 354,747" fill="none" stroke="#1e76de" stroke-width="8" stroke-linecap="round"/>
<path d="M325,727 Q338,705 359,717" fill="none" stroke="#0a3484" stroke-width="11" stroke-linecap="round"/>
<path d="M325,727 Q338,705 359,717" fill="none" stroke="#2a8aec" stroke-width="9.5" stroke-linecap="round"/>
<path d="M329,723 Q339,710 354,715" fill="none" stroke="#8ccaff" stroke-width="2.6" stroke-linecap="round" opacity="0.85"/>
<polygon points="335,721 347,724 340,731" fill="#3cc0a8"/>
<path d="M322,722 L318,716 L323,712 L328,716 Z" fill="#b8b8b8" stroke="#666" stroke-width="0.6"/>
<path d="M462.0,624.0 L462.9,625.3 L464.1,627.2 L465.5,629.4 L467.0,631.7 L468.6,634.0 L470.0,636.0 L471.4,637.9 L473.0,639.9 L474.5,641.8 L475.9,643.5 L477.1,644.9 L478.0,646.0" fill="none" stroke="#7c7c7c" stroke-width="2.6" stroke-linecap="round" stroke-linejoin="round"/>
<path d="M462.0,624.0 L462.9,625.3 L464.1,627.2 L465.5,629.4 L467.0,631.7 L468.6,634.0 L470.0,636.0 L471.4,637.9 L473.0,639.9 L474.5,641.8 L475.9,643.5 L477.1,644.9 L478.0,646.0" fill="none" stroke="#c4c4c4" stroke-width="1.43" stroke-linecap="round" stroke-linejoin="round"/>
<path d="M440.0,700.0 L440.8,698.8 L442.0,697.2 L443.4,695.2 L444.9,693.3 L446.5,691.4 L448.0,690.0 L449.7,688.9 L451.6,688.1 L453.5,687.4 L455.3,686.8 L456.9,686.4 L458.0,686.0" fill="none" stroke="#7c7c7c" stroke-width="2.6" stroke-linecap="round" stroke-linejoin="round"/>
<path d="M440.0,700.0 L440.8,698.8 L442.0,697.2 L443.4,695.2 L444.9,693.3 L446.5,691.4 L448.0,690.0 L449.7,688.9 L451.6,688.1 L453.5,687.4 L455.3,686.8 L456.9,686.4 L458.0,686.0" fill="none" stroke="#c4c4c4" stroke-width="1.43" stroke-linecap="round" stroke-linejoin="round"/>
<text transform="translate(21.4,761.2) rotate(-90)" font-size="15.8" font-weight="bold" fill="#000" textLength="146" lengthAdjust="spacingAndGlyphs">Highest confidence</text>
<text transform="translate(39.5,712) rotate(-90)" font-size="15.8" font-weight="bold" fill="#000" textLength="46" lengthAdjust="spacingAndGlyphs">model</text>
<text x="53.1" y="811.6" font-size="17.5" fill="#000" stroke="#000" stroke-width="0.35" textLength="159.2" lengthAdjust="spacingAndGlyphs">Clade I, <tspan font-weight="bold">3A Sat-KE1</tspan></text>
<text x="63.9" y="832.4" font-size="17.5" fill="#000" font-weight="normal" text-anchor="start" textLength="137.6" lengthAdjust="spacingAndGlyphs" stroke="#000" stroke-width="0.35">C-I-TASSER (0.45)</text>
<text x="310.2" y="812.8" font-size="17.5" fill="#000" stroke="#000" stroke-width="0.35" textLength="181.8" lengthAdjust="spacingAndGlyphs">Clade II, <tspan font-weight="bold">3A Sat-SWT6</tspan></text>
<text x="332.7" y="832.5" font-size="17.5" fill="#000" font-weight="normal" text-anchor="start" textLength="136.3" lengthAdjust="spacingAndGlyphs" stroke="#000" stroke-width="0.35">C-I-TASSER (0.45)</text>
</svg>
</body></html>
